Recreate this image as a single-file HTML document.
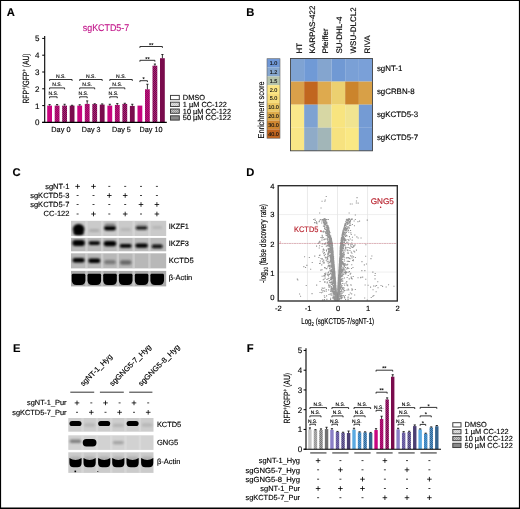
<!DOCTYPE html>
<html><head><meta charset="utf-8"><style>html,body{margin:0;padding:0;background:#fff;width:520px;height:509px;overflow:hidden}svg{display:block;font-family:"Liberation Sans",sans-serif;will-change:transform}text{stroke:#000;stroke-width:.14px;text-rendering:geometricPrecision}</style></head><body>
<svg width="520" height="509" viewBox="0 0 520 509" font-family="&quot;Liberation Sans&quot;, sans-serif"><defs>
<pattern id="pd" width="2" height="2" patternUnits="userSpaceOnUse"><rect width="2" height="2" fill="#fff"/><rect width="1" height="1" fill="#000" fill-opacity=".25"/></pattern>
<filter id="bl" x="-50%" y="-50%" width="200%" height="200%"><feGaussianBlur stdDeviation="1.1"/></filter>
<filter id="bl2" x="-50%" y="-50%" width="200%" height="200%"><feGaussianBlur stdDeviation="0.7"/></filter>
<filter id="bl4" x="-50%" y="-50%" width="200%" height="200%"><feGaussianBlur stdDeviation="0.9"/></filter>
<filter id="bl3" x="-50%" y="-50%" width="200%" height="200%"><feGaussianBlur stdDeviation="0.4"/></filter>
<pattern id="p0" width="2" height="2" patternUnits="userSpaceOnUse"><rect width="2" height="2" fill="#b6187a"/><rect width="1" height="1" fill="#9e0363"/><rect x="1" y="1" width="1" height="1" fill="#9e0363"/></pattern><pattern id="p1" width="2" height="2" patternUnits="userSpaceOnUse"><rect width="2" height="2" fill="#a32774"/><rect width="1" height="1" fill="#77034b"/><rect x="1" y="1" width="1" height="1" fill="#77034b"/></pattern><pattern id="p2" width="2" height="2" patternUnits="userSpaceOnUse"><rect width="2" height="2" fill="#e0e0e0"/><rect width="1" height="1" fill="#c7c7c7"/><rect x="1" y="1" width="1" height="1" fill="#c7c7c7"/></pattern><pattern id="p3" width="2" height="2" patternUnits="userSpaceOnUse"><rect width="2" height="2" fill="#c6c6c6"/><rect width="1" height="1" fill="#979797"/><rect x="1" y="1" width="1" height="1" fill="#979797"/></pattern><pattern id="p4" width="2" height="2" patternUnits="userSpaceOnUse"><rect width="2" height="2" fill="#aeaeae"/><rect width="1" height="1" fill="#979797"/><rect x="1" y="1" width="1" height="1" fill="#979797"/></pattern><pattern id="p5" width="2" height="2" patternUnits="userSpaceOnUse"><rect width="2" height="2" fill="#a3a3a3"/><rect width="1" height="1" fill="#777777"/><rect x="1" y="1" width="1" height="1" fill="#777777"/></pattern><pattern id="p6" width="2" height="2" patternUnits="userSpaceOnUse"><rect width="2" height="2" fill="#766aae"/><rect width="1" height="1" fill="#605497"/><rect x="1" y="1" width="1" height="1" fill="#605497"/></pattern><pattern id="p7" width="2" height="2" patternUnits="userSpaceOnUse"><rect width="2" height="2" fill="#7369a3"/><rect width="1" height="1" fill="#4a4077"/><rect x="1" y="1" width="1" height="1" fill="#4a4077"/></pattern><pattern id="p8" width="2" height="2" patternUnits="userSpaceOnUse"><rect width="2" height="2" fill="#4e96d0"/><rect width="1" height="1" fill="#387eb7"/><rect x="1" y="1" width="1" height="1" fill="#387eb7"/></pattern><pattern id="p9" width="2" height="2" patternUnits="userSpaceOnUse"><rect width="2" height="2" fill="#5591c4"/><rect width="1" height="1" fill="#2e6695"/><rect x="1" y="1" width="1" height="1" fill="#2e6695"/></pattern></defs>
<rect x="0" y="0" width="520" height="509" fill="#fff"/>
<text x="6.8" y="16.1" font-size="11.2" font-weight="bold">A</text>
<text x="246.3" y="16.2" font-size="11.2" font-weight="bold">B</text>
<text x="12.5" y="175.8" font-size="11.2" font-weight="bold">C</text>
<text x="246.3" y="175.7" font-size="11.2" font-weight="bold">D</text>
<text x="12.9" y="352.4" font-size="11.2" font-weight="bold">E</text>
<text x="246.7" y="351.8" font-size="11.2" font-weight="bold">F</text>
<rect x="47.2" y="105.6" width="4.8" height="16.8" fill="#c8047f"/>
<line x1="49.6" y1="105.6" x2="49.6" y2="104.59" stroke="#000" stroke-width="0.8"/>
<line x1="48.5" y1="104.59" x2="50.7" y2="104.59" stroke="#000" stroke-width="0.8"/>
<rect x="54.7" y="105.6" width="4.8" height="16.8" fill="url(#p0)"/>
<line x1="57.1" y1="105.6" x2="57.1" y2="104.59" stroke="#000" stroke-width="0.8"/>
<line x1="56" y1="104.59" x2="58.2" y2="104.59" stroke="#000" stroke-width="0.8"/>
<rect x="62.2" y="105.6" width="4.8" height="16.8" fill="url(#p1)"/>
<line x1="64.6" y1="105.6" x2="64.6" y2="104.26" stroke="#000" stroke-width="0.8"/>
<line x1="63.5" y1="104.26" x2="65.7" y2="104.26" stroke="#000" stroke-width="0.8"/>
<rect x="69.7" y="105.6" width="4.8" height="16.8" fill="#7a0c4d"/>
<line x1="72.1" y1="105.6" x2="72.1" y2="105.26" stroke="#000" stroke-width="0.8"/>
<line x1="71" y1="105.26" x2="73.2" y2="105.26" stroke="#000" stroke-width="0.8"/>
<rect x="77.3" y="105.6" width="4.8" height="16.8" fill="#c8047f"/>
<line x1="79.7" y1="105.6" x2="79.7" y2="104.76" stroke="#000" stroke-width="0.8"/>
<line x1="78.6" y1="104.76" x2="80.8" y2="104.76" stroke="#000" stroke-width="0.8"/>
<rect x="84.8" y="103.92" width="4.8" height="18.48" fill="url(#p0)"/>
<line x1="87.2" y1="103.92" x2="87.2" y2="100.9" stroke="#000" stroke-width="0.8"/>
<line x1="86.1" y1="100.9" x2="88.3" y2="100.9" stroke="#000" stroke-width="0.8"/>
<rect x="92.3" y="104.09" width="4.8" height="18.31" fill="url(#p1)"/>
<line x1="94.7" y1="104.09" x2="94.7" y2="103.75" stroke="#000" stroke-width="0.8"/>
<line x1="93.6" y1="103.75" x2="95.8" y2="103.75" stroke="#000" stroke-width="0.8"/>
<rect x="99.8" y="104.59" width="4.8" height="17.81" fill="#7a0c4d"/>
<line x1="102.2" y1="104.59" x2="102.2" y2="103.92" stroke="#000" stroke-width="0.8"/>
<line x1="101.1" y1="103.92" x2="103.3" y2="103.92" stroke="#000" stroke-width="0.8"/>
<rect x="107.4" y="105.6" width="4.8" height="16.8" fill="#c8047f"/>
<line x1="109.8" y1="105.6" x2="109.8" y2="104.26" stroke="#000" stroke-width="0.8"/>
<line x1="108.7" y1="104.26" x2="110.9" y2="104.26" stroke="#000" stroke-width="0.8"/>
<rect x="114.9" y="104.93" width="4.8" height="17.47" fill="url(#p0)"/>
<line x1="117.3" y1="104.93" x2="117.3" y2="103.58" stroke="#000" stroke-width="0.8"/>
<line x1="116.2" y1="103.58" x2="118.4" y2="103.58" stroke="#000" stroke-width="0.8"/>
<rect x="122.4" y="103.92" width="4.8" height="18.48" fill="url(#p1)"/>
<line x1="124.8" y1="103.92" x2="124.8" y2="103.25" stroke="#000" stroke-width="0.8"/>
<line x1="123.7" y1="103.25" x2="125.9" y2="103.25" stroke="#000" stroke-width="0.8"/>
<rect x="129.9" y="105.94" width="4.8" height="16.46" fill="#7a0c4d"/>
<line x1="132.3" y1="105.94" x2="132.3" y2="104.26" stroke="#000" stroke-width="0.8"/>
<line x1="131.2" y1="104.26" x2="133.4" y2="104.26" stroke="#000" stroke-width="0.8"/>
<rect x="137.5" y="105.6" width="4.8" height="16.8" fill="#c8047f"/>
<rect x="145" y="89.3" width="4.8" height="33.1" fill="url(#p0)"/>
<line x1="147.4" y1="89.3" x2="147.4" y2="84.26" stroke="#000" stroke-width="0.8"/>
<line x1="146.3" y1="84.26" x2="148.5" y2="84.26" stroke="#000" stroke-width="0.8"/>
<rect x="152.5" y="65.7" width="4.8" height="56.7" fill="url(#p1)"/>
<line x1="154.9" y1="65.7" x2="154.9" y2="64.02" stroke="#000" stroke-width="0.8"/>
<line x1="153.8" y1="64.02" x2="156" y2="64.02" stroke="#000" stroke-width="0.8"/>
<rect x="160" y="58.22" width="4.8" height="64.18" fill="#7a0c4d"/>
<line x1="162.4" y1="58.22" x2="162.4" y2="54.53" stroke="#000" stroke-width="0.8"/>
<line x1="161.3" y1="54.53" x2="163.5" y2="54.53" stroke="#000" stroke-width="0.8"/>
<line x1="44.7" y1="35.9" x2="44.7" y2="122.95" stroke="#000" stroke-width="1.1"/>
<line x1="42.2" y1="122.4" x2="166.8" y2="122.4" stroke="#000" stroke-width="1.1"/>
<line x1="42.2" y1="122.4" x2="44.7" y2="122.4" stroke="#000" stroke-width="1"/>
<text x="39.4" y="125.3" font-size="8" text-anchor="end">0</text>
<line x1="42.2" y1="105.6" x2="44.7" y2="105.6" stroke="#000" stroke-width="1"/>
<text x="39.4" y="108.5" font-size="8" text-anchor="end">1</text>
<line x1="42.2" y1="88.8" x2="44.7" y2="88.8" stroke="#000" stroke-width="1"/>
<text x="39.4" y="91.7" font-size="8" text-anchor="end">2</text>
<line x1="42.2" y1="72" x2="44.7" y2="72" stroke="#000" stroke-width="1"/>
<text x="39.4" y="74.9" font-size="8" text-anchor="end">3</text>
<line x1="42.2" y1="55.2" x2="44.7" y2="55.2" stroke="#000" stroke-width="1"/>
<text x="39.4" y="58.1" font-size="8" text-anchor="end">4</text>
<line x1="42.2" y1="38.4" x2="44.7" y2="38.4" stroke="#000" stroke-width="1"/>
<text x="39.4" y="41.3" font-size="8" text-anchor="end">5</text>
<text transform="translate(29.4,78.5) rotate(-90)" font-size="9" text-anchor="middle" textLength="50" lengthAdjust="spacingAndGlyphs">RFP<tspan font-size="6" dy="-3">+</tspan><tspan dy="3">/GFP</tspan><tspan font-size="6" dy="-3">+</tspan><tspan dy="3"> (AU)</tspan></text>
<text x="51.3" y="132" font-size="7.4" textLength="19.2" lengthAdjust="spacingAndGlyphs">Day 0</text>
<text x="81.8" y="132" font-size="7.4" textLength="18.7" lengthAdjust="spacingAndGlyphs">Day 3</text>
<text x="112" y="132" font-size="7.4" textLength="18.8" lengthAdjust="spacingAndGlyphs">Day 5</text>
<text x="139.5" y="132" font-size="7.4" textLength="23" lengthAdjust="spacingAndGlyphs">Day 10</text>
<text x="82.8" y="30.8" font-size="9.7" fill="#c2168a" style="stroke:#c2168a" textLength="46.4" lengthAdjust="spacingAndGlyphs">sgKCTD5-7</text>
<path d="M49.6 80.9V79.5H72.1V80.9" fill="none" stroke="#000" stroke-width="0.8"/>
<text x="60.85" y="77.9" font-size="5.1" text-anchor="middle">N.S.</text>
<path d="M49.6 89.3V87.9H64.6V89.3" fill="none" stroke="#000" stroke-width="0.8"/>
<text x="57.1" y="86.3" font-size="5.1" text-anchor="middle">N.S.</text>
<path d="M49.6 98.2V96.8H57.1V98.2" fill="none" stroke="#000" stroke-width="0.8"/>
<text x="53.35" y="95.2" font-size="5.1" text-anchor="middle">N.S.</text>
<path d="M79.7 80.9V79.5H102.2V80.9" fill="none" stroke="#000" stroke-width="0.8"/>
<text x="90.95" y="77.9" font-size="5.1" text-anchor="middle">N.S.</text>
<path d="M79.7 89.3V87.9H94.7V89.3" fill="none" stroke="#000" stroke-width="0.8"/>
<text x="87.2" y="86.3" font-size="5.1" text-anchor="middle">N.S.</text>
<path d="M79.7 98.2V96.8H87.2V98.2" fill="none" stroke="#000" stroke-width="0.8"/>
<text x="83.45" y="95.2" font-size="5.1" text-anchor="middle">N.S.</text>
<path d="M109.8 80.9V79.5H132.3V80.9" fill="none" stroke="#000" stroke-width="0.8"/>
<text x="121.05" y="77.9" font-size="5.1" text-anchor="middle">N.S.</text>
<path d="M109.8 89.3V87.9H124.8V89.3" fill="none" stroke="#000" stroke-width="0.8"/>
<text x="117.3" y="86.3" font-size="5.1" text-anchor="middle">N.S.</text>
<path d="M109.8 98.2V96.8H117.3V98.2" fill="none" stroke="#000" stroke-width="0.8"/>
<text x="113.55" y="95.2" font-size="5.1" text-anchor="middle">N.S.</text>
<path d="M139.9 47.9V46.5H162.4V47.9" fill="none" stroke="#000" stroke-width="0.8"/>
<text x="151.15" y="46.7" font-size="5.61" text-anchor="middle">**</text>
<path d="M139.9 61.7V60.3H154.9V61.7" fill="none" stroke="#000" stroke-width="0.8"/>
<text x="147.4" y="60.5" font-size="5.61" text-anchor="middle">**</text>
<path d="M139.9 82.1V80.7H147.4V82.1" fill="none" stroke="#000" stroke-width="0.8"/>
<text x="143.65" y="80.9" font-size="5.61" text-anchor="middle">*</text>
<rect x="170.5" y="95.4" width="8.8" height="4.3" fill="#fff" stroke="#3a3a3a" stroke-width="0.95"/>
<text x="182.8" y="100" font-size="7.4">DMSO</text>
<rect x="170.5" y="102.2" width="8.8" height="4.3" fill="url(#p2)" stroke="#3a3a3a" stroke-width="0.95"/>
<text x="182.8" y="106.8" font-size="7.4">1 µM CC-122</text>
<rect x="170.5" y="109" width="8.8" height="4.3" fill="url(#p3)" stroke="#3a3a3a" stroke-width="0.95"/>
<text x="182.8" y="113.6" font-size="7.4">10 µM CC-122</text>
<rect x="170.5" y="115.8" width="8.8" height="4.3" fill="#8a8a8a" stroke="#3a3a3a" stroke-width="0.95"/>
<text x="182.8" y="120.4" font-size="7.4">50 µM CC-122</text>
<rect x="290.5" y="58.5" width="13.72" height="23.13" fill="#7fa3d3"/>
<rect x="304.17" y="58.5" width="13.72" height="23.13" fill="#709ad6"/>
<rect x="317.83" y="58.5" width="13.72" height="23.13" fill="#84a5cf"/>
<rect x="331.5" y="58.5" width="13.72" height="23.13" fill="#7099d4"/>
<rect x="345.17" y="58.5" width="13.72" height="23.13" fill="#7aa0d6"/>
<rect x="358.83" y="58.5" width="13.72" height="23.13" fill="#7aa0d8"/>
<rect x="290.5" y="81.58" width="13.72" height="23.13" fill="#d9a04a"/>
<rect x="304.17" y="81.58" width="13.72" height="23.13" fill="#c1661f"/>
<rect x="317.83" y="81.58" width="13.72" height="23.13" fill="#deaa4e"/>
<rect x="331.5" y="81.58" width="13.72" height="23.13" fill="#ecd070"/>
<rect x="345.17" y="81.58" width="13.72" height="23.13" fill="#cb842c"/>
<rect x="358.83" y="81.58" width="13.72" height="23.13" fill="#d8a047"/>
<rect x="290.5" y="104.65" width="13.72" height="23.13" fill="#fae88a"/>
<rect x="304.17" y="104.65" width="13.72" height="23.13" fill="#7ea2d2"/>
<rect x="317.83" y="104.65" width="13.72" height="23.13" fill="#d7d7a4"/>
<rect x="331.5" y="104.65" width="13.72" height="23.13" fill="#f8e47f"/>
<rect x="345.17" y="104.65" width="13.72" height="23.13" fill="#f1e490"/>
<rect x="358.83" y="104.65" width="13.72" height="23.13" fill="#749bd4"/>
<rect x="290.5" y="127.73" width="13.72" height="23.13" fill="#f9e686"/>
<rect x="304.17" y="127.73" width="13.72" height="23.13" fill="#8fabc8"/>
<rect x="317.83" y="127.73" width="13.72" height="23.13" fill="#a2b6b8"/>
<rect x="331.5" y="127.73" width="13.72" height="23.13" fill="#f7e27f"/>
<rect x="345.17" y="127.73" width="13.72" height="23.13" fill="#fae884"/>
<rect x="358.83" y="127.73" width="13.72" height="23.13" fill="#749bd4"/>
<rect x="290.5" y="58.5" width="82" height="92.3" fill="none" stroke="#444" stroke-width="0.9"/>
<text transform="translate(301.5,53.5) rotate(-90)" font-size="8">HT</text>
<text transform="translate(314.8,53.5) rotate(-90)" font-size="8">KARPAS-422</text>
<text transform="translate(328.4,53.5) rotate(-90)" font-size="8">Pfeiffer</text>
<text transform="translate(342.3,53.5) rotate(-90)" font-size="8">SU-DHL-4</text>
<text transform="translate(356.4,53.5) rotate(-90)" font-size="8">WSU-DLCL2</text>
<text transform="translate(370.4,53.5) rotate(-90)" font-size="8">RIVA</text>
<text x="376.9" y="71.1" font-size="7.9">sgNT-1</text>
<text x="376.9" y="93.9" font-size="7.9">sgCRBN-8</text>
<text x="376.9" y="117" font-size="7.9">sgKCTD5-3</text>
<text x="376.9" y="140" font-size="7.9">sgKCTD5-7</text>
<rect x="267" y="58.7" width="13" height="8.88" fill="#6f97d6"/>
<text x="273.5" y="65.12" font-size="5.5" text-anchor="middle" fill="#111" style="stroke:#111">1.0</text>
<rect x="267" y="67.53" width="13" height="8.88" fill="#85a6cf"/>
<text x="273.5" y="73.95" font-size="5.5" text-anchor="middle" fill="#111" style="stroke:#111">1.2</text>
<rect x="267" y="76.37" width="13" height="8.88" fill="#b5c3ab"/>
<text x="273.5" y="82.78" font-size="5.5" text-anchor="middle" fill="#111" style="stroke:#111">1.5</text>
<rect x="267" y="85.2" width="13" height="8.88" fill="#fbe583"/>
<text x="273.5" y="91.62" font-size="5.5" text-anchor="middle" fill="#111" style="stroke:#111">2.0</text>
<rect x="267" y="94.03" width="13" height="8.88" fill="#f7dc7a"/>
<text x="273.5" y="100.45" font-size="5.5" text-anchor="middle" fill="#111" style="stroke:#111">5.0</text>
<rect x="267" y="102.87" width="13" height="8.88" fill="#ecc763"/>
<text x="273.5" y="109.28" font-size="5.5" text-anchor="middle" fill="#111" style="stroke:#111">10.0</text>
<rect x="267" y="111.7" width="13" height="8.88" fill="#deab4a"/>
<text x="273.5" y="118.12" font-size="5.5" text-anchor="middle" fill="#111" style="stroke:#111">20.0</text>
<rect x="267" y="120.53" width="13" height="8.88" fill="#cf8630"/>
<text x="273.5" y="126.95" font-size="5.5" text-anchor="middle" fill="#111" style="stroke:#111">30.0</text>
<rect x="267" y="129.37" width="13" height="8.88" fill="#c0641e"/>
<text x="273.5" y="135.78" font-size="5.5" text-anchor="middle" fill="#111" style="stroke:#111">40.0</text>
<rect x="267" y="58.7" width="13" height="79.5" fill="none" stroke="#666" stroke-width="0.6"/>
<text transform="translate(264.4,110) rotate(-90)" font-size="8.6" text-anchor="middle" textLength="57" lengthAdjust="spacingAndGlyphs">Enrichment score</text>
<text x="69.4" y="188.8" font-size="7.5" text-anchor="end">sgNT-1</text>
<line x1="75.3" y1="186.4" x2="79.9" y2="186.4" stroke="#000" stroke-width="0.8"/>
<line x1="77.6" y1="184.1" x2="77.6" y2="188.7" stroke="#000" stroke-width="0.8"/>
<line x1="91.2" y1="186.4" x2="95.8" y2="186.4" stroke="#000" stroke-width="0.8"/>
<line x1="93.5" y1="184.1" x2="93.5" y2="188.7" stroke="#000" stroke-width="0.8"/>
<line x1="108.3" y1="186.4" x2="110.3" y2="186.4" stroke="#000" stroke-width="0.75"/>
<line x1="124.2" y1="186.4" x2="126.2" y2="186.4" stroke="#000" stroke-width="0.75"/>
<line x1="140" y1="186.4" x2="142" y2="186.4" stroke="#000" stroke-width="0.75"/>
<line x1="155.9" y1="186.4" x2="157.9" y2="186.4" stroke="#000" stroke-width="0.75"/>
<text x="69.4" y="197.9" font-size="7.5" text-anchor="end">sgKCTD5-3</text>
<line x1="76.6" y1="195.5" x2="78.6" y2="195.5" stroke="#000" stroke-width="0.75"/>
<line x1="92.5" y1="195.5" x2="94.5" y2="195.5" stroke="#000" stroke-width="0.75"/>
<line x1="107" y1="195.5" x2="111.6" y2="195.5" stroke="#000" stroke-width="0.8"/>
<line x1="109.3" y1="193.2" x2="109.3" y2="197.8" stroke="#000" stroke-width="0.8"/>
<line x1="122.9" y1="195.5" x2="127.5" y2="195.5" stroke="#000" stroke-width="0.8"/>
<line x1="125.2" y1="193.2" x2="125.2" y2="197.8" stroke="#000" stroke-width="0.8"/>
<line x1="140" y1="195.5" x2="142" y2="195.5" stroke="#000" stroke-width="0.75"/>
<line x1="155.9" y1="195.5" x2="157.9" y2="195.5" stroke="#000" stroke-width="0.75"/>
<text x="69.4" y="206.9" font-size="7.5" text-anchor="end">sgKCTD5-7</text>
<line x1="76.6" y1="204.5" x2="78.6" y2="204.5" stroke="#000" stroke-width="0.75"/>
<line x1="92.5" y1="204.5" x2="94.5" y2="204.5" stroke="#000" stroke-width="0.75"/>
<line x1="108.3" y1="204.5" x2="110.3" y2="204.5" stroke="#000" stroke-width="0.75"/>
<line x1="124.2" y1="204.5" x2="126.2" y2="204.5" stroke="#000" stroke-width="0.75"/>
<line x1="138.7" y1="204.5" x2="143.3" y2="204.5" stroke="#000" stroke-width="0.8"/>
<line x1="141" y1="202.2" x2="141" y2="206.8" stroke="#000" stroke-width="0.8"/>
<line x1="154.6" y1="204.5" x2="159.2" y2="204.5" stroke="#000" stroke-width="0.8"/>
<line x1="156.9" y1="202.2" x2="156.9" y2="206.8" stroke="#000" stroke-width="0.8"/>
<text x="69.4" y="216.4" font-size="7.5" text-anchor="end">CC-122</text>
<line x1="76.6" y1="214" x2="78.6" y2="214" stroke="#000" stroke-width="0.75"/>
<line x1="91.2" y1="214" x2="95.8" y2="214" stroke="#000" stroke-width="0.8"/>
<line x1="93.5" y1="211.7" x2="93.5" y2="216.3" stroke="#000" stroke-width="0.8"/>
<line x1="108.3" y1="214" x2="110.3" y2="214" stroke="#000" stroke-width="0.75"/>
<line x1="122.9" y1="214" x2="127.5" y2="214" stroke="#000" stroke-width="0.8"/>
<line x1="125.2" y1="211.7" x2="125.2" y2="216.3" stroke="#000" stroke-width="0.8"/>
<line x1="140" y1="214" x2="142" y2="214" stroke="#000" stroke-width="0.75"/>
<line x1="154.6" y1="214" x2="159.2" y2="214" stroke="#000" stroke-width="0.8"/>
<line x1="156.9" y1="211.7" x2="156.9" y2="216.3" stroke="#000" stroke-width="0.8"/>
<rect x="71" y="220.8" width="95.2" height="15.2" fill="#cacaca"/>
<rect x="85.25" y="220.8" width="2.4" height="15.2" fill="#e2e2e2" opacity=".45" filter="url(#bl2)"/>
<rect x="100.95" y="220.8" width="2.4" height="15.2" fill="#e2e2e2" opacity=".45" filter="url(#bl2)"/>
<rect x="116.65" y="220.8" width="2.4" height="15.2" fill="#e2e2e2" opacity=".45" filter="url(#bl2)"/>
<rect x="132.45" y="220.8" width="2.4" height="15.2" fill="#e2e2e2" opacity=".45" filter="url(#bl2)"/>
<rect x="148.2" y="220.8" width="2.4" height="15.2" fill="#e2e2e2" opacity=".45" filter="url(#bl2)"/>
<rect x="72.85" y="224.05" width="11.5" height="10.5" rx="5.25" fill="#000" opacity="1" filter="url(#bl)"/>
<rect x="73.6" y="231.25" width="10" height="3.5" rx="1.75" fill="#000" opacity="1" filter="url(#bl)"/>
<rect x="89.05" y="228.9" width="10.5" height="3.2" rx="1.6" fill="#a0a0a0" opacity="0.7" filter="url(#bl)"/>
<rect x="104.1" y="225.8" width="11.8" height="4.8" rx="2.4" fill="#000" opacity="1" filter="url(#bl)"/>
<rect x="104.75" y="223.2" width="10.5" height="3.2" rx="1.6" fill="#6a6a6a" opacity="0.6" filter="url(#bl)"/>
<rect x="120.45" y="228" width="10.5" height="3" rx="1.5" fill="#a8a8a8" opacity="0.6" filter="url(#bl)"/>
<rect x="135.7" y="225.9" width="11.8" height="3.8" rx="1.9" fill="#111" opacity="0.9" filter="url(#bl)"/>
<rect x="136.6" y="223.35" width="10" height="2.5" rx="1.25" fill="#888" opacity="0.4" filter="url(#bl)"/>
<rect x="152.2" y="226" width="10" height="3" rx="1.5" fill="#a8a8a8" opacity="0.6" filter="url(#bl)"/>
<rect x="71" y="237.9" width="95.2" height="13.4" fill="#bababa"/>
<rect x="85.25" y="237.9" width="2.4" height="13.4" fill="#e2e2e2" opacity=".45" filter="url(#bl2)"/>
<rect x="100.95" y="237.9" width="2.4" height="13.4" fill="#e2e2e2" opacity=".45" filter="url(#bl2)"/>
<rect x="116.65" y="237.9" width="2.4" height="13.4" fill="#e2e2e2" opacity=".45" filter="url(#bl2)"/>
<rect x="132.45" y="237.9" width="2.4" height="13.4" fill="#e2e2e2" opacity=".45" filter="url(#bl2)"/>
<rect x="148.2" y="237.9" width="2.4" height="13.4" fill="#e2e2e2" opacity=".45" filter="url(#bl2)"/>
<rect x="72.35" y="240" width="12.5" height="6" rx="3" fill="#000" opacity="1" filter="url(#bl4)"/>
<rect x="88.55" y="241.3" width="11.5" height="3.6" rx="1.8" fill="#000" opacity="1" filter="url(#bl4)"/>
<rect x="103.75" y="240.9" width="12.5" height="5.4" rx="2.7" fill="#000" opacity="1" filter="url(#bl4)"/>
<rect x="119.7" y="244.1" width="12" height="3.6" rx="1.8" fill="#050505" opacity="1" filter="url(#bl4)"/>
<rect x="135.35" y="243.4" width="12.5" height="4.4" rx="2.2" fill="#000" opacity="1" filter="url(#bl4)"/>
<rect x="151.7" y="244.6" width="11" height="3.6" rx="1.8" fill="#080808" opacity="1" filter="url(#bl4)"/>
<rect x="71" y="253.3" width="95.2" height="15.1" fill="#b8b8b8"/>
<rect x="85.25" y="253.3" width="2.4" height="15.1" fill="#e2e2e2" opacity=".45" filter="url(#bl2)"/>
<rect x="100.95" y="253.3" width="2.4" height="15.1" fill="#e2e2e2" opacity=".45" filter="url(#bl2)"/>
<rect x="116.65" y="253.3" width="2.4" height="15.1" fill="#e2e2e2" opacity=".45" filter="url(#bl2)"/>
<rect x="132.45" y="253.3" width="2.4" height="15.1" fill="#e2e2e2" opacity=".45" filter="url(#bl2)"/>
<rect x="148.2" y="253.3" width="2.4" height="15.1" fill="#e2e2e2" opacity=".45" filter="url(#bl2)"/>
<rect x="72.6" y="258" width="12" height="4.4" rx="2.2" fill="#000" opacity="1" filter="url(#bl4)"/>
<rect x="88.3" y="258.6" width="12" height="4.4" rx="2.2" fill="#050505" opacity="1" filter="url(#bl4)"/>
<rect x="104.25" y="260.1" width="11.5" height="4.2" rx="2.1" fill="#6a6a6a" opacity="0.8" filter="url(#bl)"/>
<rect x="119.95" y="260.3" width="11.5" height="4.4" rx="2.2" fill="#5a5a5a" opacity="0.85" filter="url(#bl)"/>
<rect x="71" y="270.9" width="95.2" height="15.5" fill="#a9a9a9"/>
<rect x="85.25" y="270.9" width="2.4" height="15.5" fill="#e2e2e2" opacity=".45" filter="url(#bl2)"/>
<rect x="100.95" y="270.9" width="2.4" height="15.5" fill="#e2e2e2" opacity=".45" filter="url(#bl2)"/>
<rect x="116.65" y="270.9" width="2.4" height="15.5" fill="#e2e2e2" opacity=".45" filter="url(#bl2)"/>
<rect x="132.45" y="270.9" width="2.4" height="15.5" fill="#e2e2e2" opacity=".45" filter="url(#bl2)"/>
<rect x="148.2" y="270.9" width="2.4" height="15.5" fill="#e2e2e2" opacity=".45" filter="url(#bl2)"/>
<path d="M72.8 273.8H84.4Q85.4 273.8 85.4 275.3V280.3Q85.4 285 80.7 285H76.5Q71.8 285 71.8 280.3V275.3Q71.8 273.8 72.8 273.8Z" fill="#000" opacity="1" filter="url(#bl2)"/>
<path d="M88.5 273.8H100.1Q101.1 273.8 101.1 275.3V280.3Q101.1 285 96.4 285H92.2Q87.5 285 87.5 280.3V275.3Q87.5 273.8 88.5 273.8Z" fill="#000" opacity="1" filter="url(#bl2)"/>
<path d="M104.2 273.8H115.8Q116.8 273.8 116.8 275.3V280.3Q116.8 285 112.1 285H107.9Q103.2 285 103.2 280.3V275.3Q103.2 273.8 104.2 273.8Z" fill="#000" opacity="1" filter="url(#bl2)"/>
<path d="M119.9 273.8H131.5Q132.5 273.8 132.5 275.3V280.3Q132.5 285 127.8 285H123.6Q118.9 285 118.9 280.3V275.3Q118.9 273.8 119.9 273.8Z" fill="#000" opacity="1" filter="url(#bl2)"/>
<path d="M135.8 273.8H147.4Q148.4 273.8 148.4 275.3V280.3Q148.4 285 143.7 285H139.5Q134.8 285 134.8 280.3V275.3Q134.8 273.8 135.8 273.8Z" fill="#000" opacity="1" filter="url(#bl2)"/>
<path d="M151.4 273.8H163Q164 273.8 164 275.3V280.3Q164 285 159.3 285H155.1Q150.4 285 150.4 280.3V275.3Q150.4 273.8 151.4 273.8Z" fill="#000" opacity="1" filter="url(#bl2)"/>
<text x="168.8" y="229.3" font-size="7.5" textLength="20.2" lengthAdjust="spacingAndGlyphs">IKZF1</text>
<text x="168.8" y="246" font-size="7.5" textLength="20.2" lengthAdjust="spacingAndGlyphs">IKZF3</text>
<text x="168.8" y="263" font-size="7.5" textLength="24.8" lengthAdjust="spacingAndGlyphs">KCTD5</text>
<text x="168.8" y="279.6" font-size="7.5">β-Actin</text>
<line x1="307.45" y1="186.2" x2="307.45" y2="300.2" stroke="#dcdcdc" stroke-width="0.6"/>
<line x1="337.5" y1="186.2" x2="337.5" y2="300.2" stroke="#dcdcdc" stroke-width="0.6"/>
<line x1="367.55" y1="186.2" x2="367.55" y2="300.2" stroke="#dcdcdc" stroke-width="0.6"/>
<line x1="278.9" y1="272.05" x2="396.6" y2="272.05" stroke="#e4e4e4" stroke-width="0.6"/>
<line x1="278.9" y1="243.3" x2="396.6" y2="243.3" stroke="#e4e4e4" stroke-width="0.6"/>
<line x1="278.9" y1="214.55" x2="396.6" y2="214.55" stroke="#e4e4e4" stroke-width="0.6"/>
<path d="M340.0 270.9h1.1v1.1h-1.1zM340.7 266.2h1.1v1.1h-1.1zM331.0 239.4h1.1v1.1h-1.1zM336.9 296.6h1.1v1.1h-1.1zM346.5 219.9h1.1v1.1h-1.1zM335.8 299.4h1.1v1.1h-1.1zM342.5 234.5h1.1v1.1h-1.1zM350.6 284.7h1.1v1.1h-1.1zM330.6 247.8h1.1v1.1h-1.1zM334.1 283.9h1.1v1.1h-1.1zM324.5 222.5h1.1v1.1h-1.1zM337.3 297.5h1.1v1.1h-1.1zM324.2 296.8h1.1v1.1h-1.1zM335.5 295.1h1.1v1.1h-1.1zM337.8 298.1h1.1v1.1h-1.1zM337.6 290.7h1.1v1.1h-1.1zM332.5 253.9h1.1v1.1h-1.1zM324.8 221.1h1.1v1.1h-1.1zM338.3 275.7h1.1v1.1h-1.1zM338.4 286.1h1.1v1.1h-1.1zM334.4 283.3h1.1v1.1h-1.1zM332.5 257.8h1.1v1.1h-1.1zM345.7 222.4h1.1v1.1h-1.1zM337.5 293.0h1.1v1.1h-1.1zM337.5 290.8h1.1v1.1h-1.1zM344.9 223.3h1.1v1.1h-1.1zM328.8 248.1h1.1v1.1h-1.1zM335.1 283.5h1.1v1.1h-1.1zM339.2 288.2h1.1v1.1h-1.1zM337.7 284.5h1.1v1.1h-1.1zM338.2 277.8h1.1v1.1h-1.1zM348.7 278.3h1.1v1.1h-1.1zM339.8 249.4h1.1v1.1h-1.1zM343.2 227.5h1.1v1.1h-1.1zM331.5 254.6h1.1v1.1h-1.1zM343.0 262.8h1.1v1.1h-1.1zM341.2 248.2h1.1v1.1h-1.1zM341.5 250.0h1.1v1.1h-1.1zM341.8 239.7h1.1v1.1h-1.1zM340.0 259.5h1.1v1.1h-1.1zM343.9 254.3h1.1v1.1h-1.1zM340.4 276.2h1.1v1.1h-1.1zM337.5 297.0h1.1v1.1h-1.1zM332.5 257.8h1.1v1.1h-1.1zM340.9 256.6h1.1v1.1h-1.1zM338.1 292.1h1.1v1.1h-1.1zM331.3 251.8h1.1v1.1h-1.1zM329.8 259.5h1.1v1.1h-1.1zM342.2 267.2h1.1v1.1h-1.1zM335.7 292.1h1.1v1.1h-1.1zM331.2 255.5h1.1v1.1h-1.1zM326.2 234.8h1.1v1.1h-1.1zM337.1 298.9h1.1v1.1h-1.1zM338.5 282.4h1.1v1.1h-1.1zM335.0 293.8h1.1v1.1h-1.1zM349.9 255.2h1.1v1.1h-1.1zM332.4 250.0h1.1v1.1h-1.1zM338.5 269.2h1.1v1.1h-1.1zM333.7 285.1h1.1v1.1h-1.1zM340.0 256.6h1.1v1.1h-1.1zM337.0 296.8h1.1v1.1h-1.1zM339.6 270.8h1.1v1.1h-1.1zM348.0 260.8h1.1v1.1h-1.1zM341.4 270.0h1.1v1.1h-1.1zM344.7 246.4h1.1v1.1h-1.1zM352.0 289.2h1.1v1.1h-1.1zM341.3 263.6h1.1v1.1h-1.1zM333.5 279.4h1.1v1.1h-1.1zM341.6 262.4h1.1v1.1h-1.1zM337.1 297.9h1.1v1.1h-1.1zM338.7 280.4h1.1v1.1h-1.1zM350.8 246.3h1.1v1.1h-1.1zM339.9 267.5h1.1v1.1h-1.1zM335.4 288.7h1.1v1.1h-1.1zM340.8 264.9h1.1v1.1h-1.1zM329.9 282.2h1.1v1.1h-1.1zM346.5 289.6h1.1v1.1h-1.1zM331.1 260.4h1.1v1.1h-1.1zM340.2 275.2h1.1v1.1h-1.1zM336.8 297.9h1.1v1.1h-1.1zM325.0 222.6h1.1v1.1h-1.1zM342.4 237.2h1.1v1.1h-1.1zM329.2 281.8h1.1v1.1h-1.1zM337.2 294.5h1.1v1.1h-1.1zM331.3 249.8h1.1v1.1h-1.1zM332.5 256.1h1.1v1.1h-1.1zM332.2 265.9h1.1v1.1h-1.1zM334.4 277.2h1.1v1.1h-1.1zM334.1 292.7h1.1v1.1h-1.1zM344.6 264.3h1.1v1.1h-1.1zM342.0 287.9h1.1v1.1h-1.1zM334.5 281.9h1.1v1.1h-1.1zM324.6 218.2h1.1v1.1h-1.1zM337.7 296.3h1.1v1.1h-1.1zM331.1 239.7h1.1v1.1h-1.1zM343.5 290.0h1.1v1.1h-1.1zM335.0 295.3h1.1v1.1h-1.1zM332.2 249.9h1.1v1.1h-1.1zM334.8 295.8h1.1v1.1h-1.1zM335.9 293.5h1.1v1.1h-1.1zM345.9 234.7h1.1v1.1h-1.1zM339.7 270.1h1.1v1.1h-1.1zM333.9 269.7h1.1v1.1h-1.1zM339.7 248.4h1.1v1.1h-1.1zM338.6 270.8h1.1v1.1h-1.1zM328.8 265.8h1.1v1.1h-1.1zM341.6 248.1h1.1v1.1h-1.1zM320.5 258.0h1.1v1.1h-1.1zM340.6 286.1h1.1v1.1h-1.1zM321.6 237.3h1.1v1.1h-1.1zM341.5 249.0h1.1v1.1h-1.1zM331.1 246.3h1.1v1.1h-1.1zM332.7 269.5h1.1v1.1h-1.1zM338.1 287.9h1.1v1.1h-1.1zM341.2 252.4h1.1v1.1h-1.1zM341.1 276.1h1.1v1.1h-1.1zM342.4 242.5h1.1v1.1h-1.1zM334.1 286.2h1.1v1.1h-1.1zM335.8 290.4h1.1v1.1h-1.1zM323.7 262.4h1.1v1.1h-1.1zM351.0 218.5h1.1v1.1h-1.1zM339.9 258.2h1.1v1.1h-1.1zM333.7 269.3h1.1v1.1h-1.1zM331.1 256.9h1.1v1.1h-1.1zM339.1 264.5h1.1v1.1h-1.1zM332.3 261.5h1.1v1.1h-1.1zM338.5 292.9h1.1v1.1h-1.1zM336.8 298.6h1.1v1.1h-1.1zM339.9 268.8h1.1v1.1h-1.1zM340.6 264.8h1.1v1.1h-1.1zM347.2 220.3h1.1v1.1h-1.1zM334.8 289.9h1.1v1.1h-1.1zM335.1 294.8h1.1v1.1h-1.1zM337.7 285.8h1.1v1.1h-1.1zM348.9 218.3h1.1v1.1h-1.1zM338.5 295.4h1.1v1.1h-1.1zM332.8 278.5h1.1v1.1h-1.1zM339.7 258.7h1.1v1.1h-1.1zM341.7 286.8h1.1v1.1h-1.1zM335.2 299.0h1.1v1.1h-1.1zM337.5 296.0h1.1v1.1h-1.1zM337.5 296.8h1.1v1.1h-1.1zM332.9 268.7h1.1v1.1h-1.1zM342.3 244.2h1.1v1.1h-1.1zM341.2 255.7h1.1v1.1h-1.1zM333.1 273.3h1.1v1.1h-1.1zM342.0 252.9h1.1v1.1h-1.1zM334.5 277.7h1.1v1.1h-1.1zM337.3 297.0h1.1v1.1h-1.1zM332.2 249.9h1.1v1.1h-1.1zM337.9 289.2h1.1v1.1h-1.1zM329.7 249.1h1.1v1.1h-1.1zM339.4 278.6h1.1v1.1h-1.1zM346.7 260.7h1.1v1.1h-1.1zM339.7 272.1h1.1v1.1h-1.1zM329.9 281.7h1.1v1.1h-1.1zM334.7 286.8h1.1v1.1h-1.1zM333.6 276.3h1.1v1.1h-1.1zM344.1 239.0h1.1v1.1h-1.1zM337.7 291.6h1.1v1.1h-1.1zM341.1 253.2h1.1v1.1h-1.1zM341.0 262.7h1.1v1.1h-1.1zM329.1 254.8h1.1v1.1h-1.1zM334.0 287.0h1.1v1.1h-1.1zM330.1 242.2h1.1v1.1h-1.1zM325.5 221.4h1.1v1.1h-1.1zM348.9 236.1h1.1v1.1h-1.1zM345.7 229.7h1.1v1.1h-1.1zM340.5 247.6h1.1v1.1h-1.1zM340.3 244.5h1.1v1.1h-1.1zM335.1 292.2h1.1v1.1h-1.1zM333.7 298.2h1.1v1.1h-1.1zM341.0 253.5h1.1v1.1h-1.1zM339.6 259.4h1.1v1.1h-1.1zM336.1 295.7h1.1v1.1h-1.1zM330.5 258.4h1.1v1.1h-1.1zM334.5 284.5h1.1v1.1h-1.1zM338.9 262.6h1.1v1.1h-1.1zM342.0 262.7h1.1v1.1h-1.1zM332.4 288.7h1.1v1.1h-1.1zM334.0 276.5h1.1v1.1h-1.1zM327.4 252.6h1.1v1.1h-1.1zM330.4 269.2h1.1v1.1h-1.1zM332.5 257.4h1.1v1.1h-1.1zM348.2 231.7h1.1v1.1h-1.1zM333.6 263.8h1.1v1.1h-1.1zM342.3 236.6h1.1v1.1h-1.1zM338.9 285.3h1.1v1.1h-1.1zM344.9 222.8h1.1v1.1h-1.1zM330.8 239.8h1.1v1.1h-1.1zM332.9 263.0h1.1v1.1h-1.1zM334.1 282.3h1.1v1.1h-1.1zM338.6 269.7h1.1v1.1h-1.1zM321.6 275.7h1.1v1.1h-1.1zM332.0 252.9h1.1v1.1h-1.1zM332.0 247.6h1.1v1.1h-1.1zM323.4 218.9h1.1v1.1h-1.1zM337.9 277.2h1.1v1.1h-1.1zM334.2 280.2h1.1v1.1h-1.1zM338.6 290.1h1.1v1.1h-1.1zM331.8 246.2h1.1v1.1h-1.1zM333.9 293.8h1.1v1.1h-1.1zM334.2 291.4h1.1v1.1h-1.1zM335.8 296.7h1.1v1.1h-1.1zM335.1 294.8h1.1v1.1h-1.1zM343.8 265.8h1.1v1.1h-1.1zM333.9 276.4h1.1v1.1h-1.1zM340.5 239.8h1.1v1.1h-1.1zM334.7 280.7h1.1v1.1h-1.1zM330.3 277.1h1.1v1.1h-1.1zM325.1 256.9h1.1v1.1h-1.1zM331.9 262.6h1.1v1.1h-1.1zM346.9 219.4h1.1v1.1h-1.1zM324.4 223.9h1.1v1.1h-1.1zM338.2 287.1h1.1v1.1h-1.1zM329.5 270.0h1.1v1.1h-1.1zM343.3 228.1h1.1v1.1h-1.1zM350.9 218.9h1.1v1.1h-1.1zM339.5 260.3h1.1v1.1h-1.1zM322.2 299.3h1.1v1.1h-1.1zM327.8 252.5h1.1v1.1h-1.1zM338.0 276.7h1.1v1.1h-1.1zM335.6 290.1h1.1v1.1h-1.1zM339.0 276.4h1.1v1.1h-1.1zM333.2 260.8h1.1v1.1h-1.1zM322.4 251.3h1.1v1.1h-1.1zM330.7 269.4h1.1v1.1h-1.1zM340.2 242.9h1.1v1.1h-1.1zM348.7 218.6h1.1v1.1h-1.1zM327.3 228.0h1.1v1.1h-1.1zM338.7 298.4h1.1v1.1h-1.1zM339.5 258.2h1.1v1.1h-1.1zM335.9 294.8h1.1v1.1h-1.1zM332.6 275.5h1.1v1.1h-1.1zM335.5 287.4h1.1v1.1h-1.1zM345.8 227.4h1.1v1.1h-1.1zM327.3 238.2h1.1v1.1h-1.1zM330.5 239.5h1.1v1.1h-1.1zM333.1 287.1h1.1v1.1h-1.1zM329.1 237.2h1.1v1.1h-1.1zM332.1 259.2h1.1v1.1h-1.1zM347.2 267.0h1.1v1.1h-1.1zM331.4 289.7h1.1v1.1h-1.1zM337.8 290.4h1.1v1.1h-1.1zM321.5 269.2h1.1v1.1h-1.1zM337.5 290.0h1.1v1.1h-1.1zM337.1 295.8h1.1v1.1h-1.1zM344.5 228.5h1.1v1.1h-1.1zM331.0 271.5h1.1v1.1h-1.1zM338.0 282.5h1.1v1.1h-1.1zM340.5 251.9h1.1v1.1h-1.1zM339.5 252.2h1.1v1.1h-1.1zM327.2 225.8h1.1v1.1h-1.1zM339.9 264.4h1.1v1.1h-1.1zM332.9 258.0h1.1v1.1h-1.1zM338.0 284.2h1.1v1.1h-1.1zM340.5 284.6h1.1v1.1h-1.1zM335.8 299.3h1.1v1.1h-1.1zM323.8 225.5h1.1v1.1h-1.1zM327.3 253.8h1.1v1.1h-1.1zM330.2 265.4h1.1v1.1h-1.1zM338.7 265.1h1.1v1.1h-1.1zM332.1 257.2h1.1v1.1h-1.1zM341.3 241.4h1.1v1.1h-1.1zM333.5 267.8h1.1v1.1h-1.1zM339.0 258.2h1.1v1.1h-1.1zM334.9 293.2h1.1v1.1h-1.1zM338.0 285.8h1.1v1.1h-1.1zM344.3 227.8h1.1v1.1h-1.1zM335.4 293.5h1.1v1.1h-1.1zM331.7 264.6h1.1v1.1h-1.1zM336.8 296.7h1.1v1.1h-1.1zM339.7 249.4h1.1v1.1h-1.1zM333.6 274.4h1.1v1.1h-1.1zM343.2 267.8h1.1v1.1h-1.1zM338.4 270.7h1.1v1.1h-1.1zM333.7 293.8h1.1v1.1h-1.1zM331.9 273.3h1.1v1.1h-1.1zM332.0 245.2h1.1v1.1h-1.1zM332.1 262.3h1.1v1.1h-1.1zM337.8 280.3h1.1v1.1h-1.1zM338.6 275.0h1.1v1.1h-1.1zM339.9 279.8h1.1v1.1h-1.1zM326.7 230.0h1.1v1.1h-1.1zM330.4 240.6h1.1v1.1h-1.1zM334.6 292.4h1.1v1.1h-1.1zM331.8 269.6h1.1v1.1h-1.1zM333.5 276.6h1.1v1.1h-1.1zM335.3 284.9h1.1v1.1h-1.1zM332.7 285.8h1.1v1.1h-1.1zM334.3 285.4h1.1v1.1h-1.1zM340.2 242.1h1.1v1.1h-1.1zM334.6 281.4h1.1v1.1h-1.1zM330.4 241.6h1.1v1.1h-1.1zM336.0 299.0h1.1v1.1h-1.1zM336.0 299.3h1.1v1.1h-1.1zM328.0 247.9h1.1v1.1h-1.1zM335.9 293.4h1.1v1.1h-1.1zM331.4 247.3h1.1v1.1h-1.1zM334.5 283.6h1.1v1.1h-1.1zM335.2 299.0h1.1v1.1h-1.1zM342.8 237.9h1.1v1.1h-1.1zM343.1 289.0h1.1v1.1h-1.1zM329.5 254.9h1.1v1.1h-1.1zM333.8 275.9h1.1v1.1h-1.1zM334.0 284.5h1.1v1.1h-1.1zM333.2 269.0h1.1v1.1h-1.1zM335.4 296.5h1.1v1.1h-1.1zM339.6 248.4h1.1v1.1h-1.1zM333.1 276.0h1.1v1.1h-1.1zM333.2 274.9h1.1v1.1h-1.1zM334.3 281.1h1.1v1.1h-1.1zM337.9 279.5h1.1v1.1h-1.1zM330.2 291.0h1.1v1.1h-1.1zM341.5 278.3h1.1v1.1h-1.1zM341.7 255.4h1.1v1.1h-1.1zM328.8 274.0h1.1v1.1h-1.1zM339.0 276.7h1.1v1.1h-1.1zM330.3 282.4h1.1v1.1h-1.1zM335.3 290.6h1.1v1.1h-1.1zM333.9 287.4h1.1v1.1h-1.1zM350.6 255.7h1.1v1.1h-1.1zM334.1 280.5h1.1v1.1h-1.1zM352.0 247.0h1.1v1.1h-1.1zM332.0 255.9h1.1v1.1h-1.1zM341.0 243.8h1.1v1.1h-1.1zM334.8 286.7h1.1v1.1h-1.1zM336.4 298.0h1.1v1.1h-1.1zM332.0 248.1h1.1v1.1h-1.1zM337.1 292.5h1.1v1.1h-1.1zM334.4 286.4h1.1v1.1h-1.1zM330.7 247.0h1.1v1.1h-1.1zM341.9 280.5h1.1v1.1h-1.1zM330.2 260.9h1.1v1.1h-1.1zM328.1 235.6h1.1v1.1h-1.1zM330.3 251.5h1.1v1.1h-1.1zM324.5 224.3h1.1v1.1h-1.1zM318.9 255.0h1.1v1.1h-1.1zM336.8 298.6h1.1v1.1h-1.1zM330.0 298.9h1.1v1.1h-1.1zM334.9 295.0h1.1v1.1h-1.1zM330.2 277.4h1.1v1.1h-1.1zM332.1 284.3h1.1v1.1h-1.1zM340.1 249.1h1.1v1.1h-1.1zM335.3 291.7h1.1v1.1h-1.1zM333.5 267.9h1.1v1.1h-1.1zM334.9 288.2h1.1v1.1h-1.1zM334.6 286.0h1.1v1.1h-1.1zM335.8 297.2h1.1v1.1h-1.1zM327.2 231.9h1.1v1.1h-1.1zM338.2 298.2h1.1v1.1h-1.1zM346.7 284.7h1.1v1.1h-1.1zM338.7 271.7h1.1v1.1h-1.1zM331.0 243.3h1.1v1.1h-1.1zM342.8 264.5h1.1v1.1h-1.1zM341.8 275.3h1.1v1.1h-1.1zM332.2 248.0h1.1v1.1h-1.1zM331.7 260.0h1.1v1.1h-1.1zM328.9 237.7h1.1v1.1h-1.1zM338.8 284.6h1.1v1.1h-1.1zM335.9 296.4h1.1v1.1h-1.1zM340.6 244.3h1.1v1.1h-1.1zM336.1 295.8h1.1v1.1h-1.1zM333.8 266.6h1.1v1.1h-1.1zM339.7 263.6h1.1v1.1h-1.1zM323.6 243.3h1.1v1.1h-1.1zM338.9 274.6h1.1v1.1h-1.1zM338.3 285.0h1.1v1.1h-1.1zM331.1 291.2h1.1v1.1h-1.1zM332.0 254.7h1.1v1.1h-1.1zM342.5 256.4h1.1v1.1h-1.1zM339.7 266.4h1.1v1.1h-1.1zM340.2 270.9h1.1v1.1h-1.1zM332.5 276.5h1.1v1.1h-1.1zM331.9 265.5h1.1v1.1h-1.1zM339.5 258.5h1.1v1.1h-1.1zM339.4 269.5h1.1v1.1h-1.1zM340.4 245.0h1.1v1.1h-1.1zM319.8 219.1h1.1v1.1h-1.1zM344.8 224.6h1.1v1.1h-1.1zM326.6 231.6h1.1v1.1h-1.1zM339.1 263.7h1.1v1.1h-1.1zM337.8 297.5h1.1v1.1h-1.1zM340.4 287.3h1.1v1.1h-1.1zM339.3 262.5h1.1v1.1h-1.1zM332.8 278.0h1.1v1.1h-1.1zM338.1 279.6h1.1v1.1h-1.1zM334.0 291.3h1.1v1.1h-1.1zM339.9 255.2h1.1v1.1h-1.1zM331.8 251.5h1.1v1.1h-1.1zM328.7 255.2h1.1v1.1h-1.1zM334.7 291.4h1.1v1.1h-1.1zM334.5 294.5h1.1v1.1h-1.1zM323.5 278.7h1.1v1.1h-1.1zM330.7 245.0h1.1v1.1h-1.1zM333.0 274.6h1.1v1.1h-1.1zM333.0 270.6h1.1v1.1h-1.1zM331.5 248.2h1.1v1.1h-1.1zM338.9 284.1h1.1v1.1h-1.1zM343.5 244.3h1.1v1.1h-1.1zM333.9 297.9h1.1v1.1h-1.1zM338.2 283.6h1.1v1.1h-1.1zM333.7 274.3h1.1v1.1h-1.1zM329.3 273.6h1.1v1.1h-1.1zM340.4 258.8h1.1v1.1h-1.1zM332.0 278.2h1.1v1.1h-1.1zM337.8 279.7h1.1v1.1h-1.1zM331.4 254.9h1.1v1.1h-1.1zM354.1 251.3h1.1v1.1h-1.1zM344.9 235.8h1.1v1.1h-1.1zM333.4 270.1h1.1v1.1h-1.1zM334.5 277.7h1.1v1.1h-1.1zM330.4 244.5h1.1v1.1h-1.1zM326.6 244.5h1.1v1.1h-1.1zM329.3 241.1h1.1v1.1h-1.1zM331.1 239.8h1.1v1.1h-1.1zM338.1 294.8h1.1v1.1h-1.1zM338.4 283.5h1.1v1.1h-1.1zM332.7 274.1h1.1v1.1h-1.1zM338.8 270.3h1.1v1.1h-1.1zM316.0 221.2h1.1v1.1h-1.1zM331.4 247.3h1.1v1.1h-1.1zM341.8 283.0h1.1v1.1h-1.1zM336.4 298.7h1.1v1.1h-1.1zM334.6 285.9h1.1v1.1h-1.1zM346.8 267.8h1.1v1.1h-1.1zM331.7 260.8h1.1v1.1h-1.1zM338.5 283.1h1.1v1.1h-1.1zM332.8 268.9h1.1v1.1h-1.1zM334.0 271.1h1.1v1.1h-1.1zM338.7 264.4h1.1v1.1h-1.1zM334.1 277.5h1.1v1.1h-1.1zM338.5 288.1h1.1v1.1h-1.1zM339.0 258.5h1.1v1.1h-1.1zM331.4 258.1h1.1v1.1h-1.1zM334.0 281.9h1.1v1.1h-1.1zM331.8 243.3h1.1v1.1h-1.1zM328.9 239.2h1.1v1.1h-1.1zM338.5 284.1h1.1v1.1h-1.1zM323.8 219.7h1.1v1.1h-1.1zM332.6 254.0h1.1v1.1h-1.1zM342.7 255.6h1.1v1.1h-1.1zM339.7 250.5h1.1v1.1h-1.1zM329.4 240.6h1.1v1.1h-1.1zM333.2 271.3h1.1v1.1h-1.1zM334.6 297.6h1.1v1.1h-1.1zM331.2 262.6h1.1v1.1h-1.1zM338.4 282.3h1.1v1.1h-1.1zM338.4 274.1h1.1v1.1h-1.1zM328.7 231.3h1.1v1.1h-1.1zM339.6 277.1h1.1v1.1h-1.1zM332.0 249.5h1.1v1.1h-1.1zM331.4 244.4h1.1v1.1h-1.1zM334.9 292.4h1.1v1.1h-1.1zM332.9 265.1h1.1v1.1h-1.1zM326.3 259.4h1.1v1.1h-1.1zM331.0 248.8h1.1v1.1h-1.1zM342.9 245.6h1.1v1.1h-1.1zM338.9 277.1h1.1v1.1h-1.1zM353.0 256.3h1.1v1.1h-1.1zM334.2 270.6h1.1v1.1h-1.1zM338.2 282.6h1.1v1.1h-1.1zM340.0 248.7h1.1v1.1h-1.1zM345.5 223.2h1.1v1.1h-1.1zM328.8 240.3h1.1v1.1h-1.1zM337.2 295.0h1.1v1.1h-1.1zM346.0 228.6h1.1v1.1h-1.1zM338.2 283.7h1.1v1.1h-1.1zM334.9 286.7h1.1v1.1h-1.1zM334.5 286.4h1.1v1.1h-1.1zM334.3 285.1h1.1v1.1h-1.1zM340.5 266.1h1.1v1.1h-1.1zM341.7 257.1h1.1v1.1h-1.1zM340.4 252.3h1.1v1.1h-1.1zM338.3 298.4h1.1v1.1h-1.1zM329.1 240.0h1.1v1.1h-1.1zM346.7 224.0h1.1v1.1h-1.1zM339.0 287.9h1.1v1.1h-1.1zM337.3 297.6h1.1v1.1h-1.1zM326.7 261.1h1.1v1.1h-1.1zM328.1 251.7h1.1v1.1h-1.1zM342.2 250.0h1.1v1.1h-1.1zM335.0 297.3h1.1v1.1h-1.1zM332.9 264.5h1.1v1.1h-1.1zM332.3 273.9h1.1v1.1h-1.1zM348.2 268.0h1.1v1.1h-1.1zM335.3 294.2h1.1v1.1h-1.1zM359.0 220.6h1.1v1.1h-1.1zM349.4 249.9h1.1v1.1h-1.1zM332.9 296.8h1.1v1.1h-1.1zM340.2 295.5h1.1v1.1h-1.1zM337.8 299.3h1.1v1.1h-1.1zM338.9 259.7h1.1v1.1h-1.1zM349.8 297.8h1.1v1.1h-1.1zM332.1 274.6h1.1v1.1h-1.1zM337.6 285.8h1.1v1.1h-1.1zM338.0 280.4h1.1v1.1h-1.1zM333.5 291.7h1.1v1.1h-1.1zM338.5 268.7h1.1v1.1h-1.1zM333.6 286.0h1.1v1.1h-1.1zM335.3 287.9h1.1v1.1h-1.1zM343.3 239.7h1.1v1.1h-1.1zM326.7 242.4h1.1v1.1h-1.1zM324.6 277.6h1.1v1.1h-1.1zM330.7 276.3h1.1v1.1h-1.1zM339.8 280.2h1.1v1.1h-1.1zM338.9 284.0h1.1v1.1h-1.1zM333.1 266.9h1.1v1.1h-1.1zM351.4 289.7h1.1v1.1h-1.1zM338.1 279.9h1.1v1.1h-1.1zM341.4 247.1h1.1v1.1h-1.1zM344.7 230.4h1.1v1.1h-1.1zM334.2 277.5h1.1v1.1h-1.1zM335.7 291.1h1.1v1.1h-1.1zM333.5 282.5h1.1v1.1h-1.1zM339.2 260.9h1.1v1.1h-1.1zM335.5 288.6h1.1v1.1h-1.1zM330.3 266.5h1.1v1.1h-1.1zM322.3 260.8h1.1v1.1h-1.1zM340.1 270.3h1.1v1.1h-1.1zM340.4 290.7h1.1v1.1h-1.1zM331.1 242.4h1.1v1.1h-1.1zM331.0 245.0h1.1v1.1h-1.1zM338.0 288.8h1.1v1.1h-1.1zM334.8 291.2h1.1v1.1h-1.1zM335.8 298.9h1.1v1.1h-1.1zM340.3 269.2h1.1v1.1h-1.1zM330.6 259.7h1.1v1.1h-1.1zM333.4 270.3h1.1v1.1h-1.1zM350.1 224.8h1.1v1.1h-1.1zM334.7 283.9h1.1v1.1h-1.1zM332.1 259.4h1.1v1.1h-1.1zM337.0 296.3h1.1v1.1h-1.1zM331.1 261.6h1.1v1.1h-1.1zM334.5 277.0h1.1v1.1h-1.1zM330.7 255.0h1.1v1.1h-1.1zM324.0 267.1h1.1v1.1h-1.1zM335.0 284.5h1.1v1.1h-1.1zM327.3 235.8h1.1v1.1h-1.1zM340.0 273.1h1.1v1.1h-1.1zM331.9 268.4h1.1v1.1h-1.1zM334.0 279.8h1.1v1.1h-1.1zM346.4 235.3h1.1v1.1h-1.1zM347.5 239.0h1.1v1.1h-1.1zM337.2 291.6h1.1v1.1h-1.1zM351.6 239.6h1.1v1.1h-1.1zM332.4 253.8h1.1v1.1h-1.1zM324.3 219.9h1.1v1.1h-1.1zM325.2 219.6h1.1v1.1h-1.1zM345.9 231.9h1.1v1.1h-1.1zM323.7 224.0h1.1v1.1h-1.1zM334.6 279.0h1.1v1.1h-1.1zM341.9 252.9h1.1v1.1h-1.1zM334.2 281.9h1.1v1.1h-1.1zM340.7 253.5h1.1v1.1h-1.1zM317.2 225.7h1.1v1.1h-1.1zM323.9 222.0h1.1v1.1h-1.1zM336.8 299.2h1.1v1.1h-1.1zM339.0 269.2h1.1v1.1h-1.1zM334.0 287.3h1.1v1.1h-1.1zM335.0 298.5h1.1v1.1h-1.1zM333.8 274.1h1.1v1.1h-1.1zM340.4 269.1h1.1v1.1h-1.1zM351.2 242.5h1.1v1.1h-1.1zM339.7 263.2h1.1v1.1h-1.1zM338.0 290.8h1.1v1.1h-1.1zM338.3 285.1h1.1v1.1h-1.1zM342.7 242.0h1.1v1.1h-1.1zM332.8 272.6h1.1v1.1h-1.1zM326.3 222.8h1.1v1.1h-1.1zM332.1 272.2h1.1v1.1h-1.1zM340.3 260.4h1.1v1.1h-1.1zM332.5 256.5h1.1v1.1h-1.1zM335.1 298.4h1.1v1.1h-1.1zM334.2 297.5h1.1v1.1h-1.1zM344.7 233.5h1.1v1.1h-1.1zM333.5 282.7h1.1v1.1h-1.1zM333.7 274.4h1.1v1.1h-1.1zM341.8 239.6h1.1v1.1h-1.1zM332.7 270.9h1.1v1.1h-1.1zM338.6 282.8h1.1v1.1h-1.1zM340.6 269.1h1.1v1.1h-1.1zM318.9 220.5h1.1v1.1h-1.1zM340.0 283.3h1.1v1.1h-1.1zM331.7 251.5h1.1v1.1h-1.1zM347.3 241.7h1.1v1.1h-1.1zM329.5 247.4h1.1v1.1h-1.1zM330.6 242.1h1.1v1.1h-1.1zM338.4 275.4h1.1v1.1h-1.1zM340.6 259.5h1.1v1.1h-1.1zM343.6 258.8h1.1v1.1h-1.1zM330.5 259.8h1.1v1.1h-1.1zM339.0 263.0h1.1v1.1h-1.1zM319.2 240.7h1.1v1.1h-1.1zM338.2 284.9h1.1v1.1h-1.1zM340.3 255.6h1.1v1.1h-1.1zM330.9 238.1h1.1v1.1h-1.1zM330.9 257.4h1.1v1.1h-1.1zM331.6 242.8h1.1v1.1h-1.1zM341.3 249.3h1.1v1.1h-1.1zM334.1 285.0h1.1v1.1h-1.1zM332.4 252.6h1.1v1.1h-1.1zM328.7 231.4h1.1v1.1h-1.1zM341.0 239.3h1.1v1.1h-1.1zM339.7 267.8h1.1v1.1h-1.1zM338.0 289.4h1.1v1.1h-1.1zM331.3 269.1h1.1v1.1h-1.1zM357.6 237.5h1.1v1.1h-1.1zM335.3 288.5h1.1v1.1h-1.1zM327.6 272.0h1.1v1.1h-1.1zM332.2 250.7h1.1v1.1h-1.1zM327.7 230.3h1.1v1.1h-1.1zM337.4 288.2h1.1v1.1h-1.1zM342.0 234.6h1.1v1.1h-1.1zM326.3 298.8h1.1v1.1h-1.1zM335.9 296.0h1.1v1.1h-1.1zM338.3 285.1h1.1v1.1h-1.1zM333.2 269.7h1.1v1.1h-1.1zM334.6 286.8h1.1v1.1h-1.1zM329.1 234.1h1.1v1.1h-1.1zM348.0 229.9h1.1v1.1h-1.1zM332.1 266.8h1.1v1.1h-1.1zM345.5 264.3h1.1v1.1h-1.1zM335.6 288.5h1.1v1.1h-1.1zM337.2 299.3h1.1v1.1h-1.1zM339.3 290.7h1.1v1.1h-1.1zM341.3 249.3h1.1v1.1h-1.1zM342.6 230.6h1.1v1.1h-1.1zM338.3 286.9h1.1v1.1h-1.1zM331.5 265.6h1.1v1.1h-1.1zM335.8 293.4h1.1v1.1h-1.1zM339.0 261.3h1.1v1.1h-1.1zM331.1 259.5h1.1v1.1h-1.1zM326.7 228.5h1.1v1.1h-1.1zM339.3 260.0h1.1v1.1h-1.1zM339.1 288.8h1.1v1.1h-1.1zM338.7 280.5h1.1v1.1h-1.1zM337.5 296.1h1.1v1.1h-1.1zM328.9 242.9h1.1v1.1h-1.1zM329.9 238.9h1.1v1.1h-1.1zM338.5 269.1h1.1v1.1h-1.1zM338.5 286.0h1.1v1.1h-1.1zM332.5 261.3h1.1v1.1h-1.1zM330.3 247.1h1.1v1.1h-1.1zM337.6 284.6h1.1v1.1h-1.1zM334.8 291.0h1.1v1.1h-1.1zM348.3 220.2h1.1v1.1h-1.1zM330.4 246.9h1.1v1.1h-1.1zM333.6 264.1h1.1v1.1h-1.1zM334.3 280.8h1.1v1.1h-1.1zM331.3 266.8h1.1v1.1h-1.1zM335.4 287.5h1.1v1.1h-1.1zM334.0 290.8h1.1v1.1h-1.1zM340.1 244.1h1.1v1.1h-1.1zM335.6 292.5h1.1v1.1h-1.1zM334.8 296.8h1.1v1.1h-1.1zM335.6 295.4h1.1v1.1h-1.1zM332.1 254.2h1.1v1.1h-1.1zM331.9 263.7h1.1v1.1h-1.1zM333.9 276.2h1.1v1.1h-1.1zM329.5 256.5h1.1v1.1h-1.1zM333.0 259.1h1.1v1.1h-1.1zM338.7 276.6h1.1v1.1h-1.1zM334.2 299.0h1.1v1.1h-1.1zM350.2 243.7h1.1v1.1h-1.1zM333.1 291.0h1.1v1.1h-1.1zM340.2 295.4h1.1v1.1h-1.1zM351.6 278.3h1.1v1.1h-1.1zM352.0 260.0h1.1v1.1h-1.1zM341.1 252.7h1.1v1.1h-1.1zM337.8 294.4h1.1v1.1h-1.1zM332.0 255.3h1.1v1.1h-1.1zM344.4 271.3h1.1v1.1h-1.1zM338.4 278.0h1.1v1.1h-1.1zM333.4 261.9h1.1v1.1h-1.1zM324.3 280.9h1.1v1.1h-1.1zM336.7 297.9h1.1v1.1h-1.1zM346.2 268.5h1.1v1.1h-1.1zM333.5 273.6h1.1v1.1h-1.1zM340.6 270.0h1.1v1.1h-1.1zM341.2 240.4h1.1v1.1h-1.1zM336.1 299.2h1.1v1.1h-1.1zM352.7 245.6h1.1v1.1h-1.1zM334.5 298.2h1.1v1.1h-1.1zM341.2 250.1h1.1v1.1h-1.1zM337.4 295.4h1.1v1.1h-1.1zM334.2 288.1h1.1v1.1h-1.1zM337.6 294.6h1.1v1.1h-1.1zM340.5 295.0h1.1v1.1h-1.1zM342.4 262.1h1.1v1.1h-1.1zM341.1 241.3h1.1v1.1h-1.1zM332.7 265.9h1.1v1.1h-1.1zM351.5 257.3h1.1v1.1h-1.1zM334.8 283.8h1.1v1.1h-1.1zM325.9 226.4h1.1v1.1h-1.1zM338.3 278.7h1.1v1.1h-1.1zM332.1 250.6h1.1v1.1h-1.1zM339.7 273.4h1.1v1.1h-1.1zM334.7 283.4h1.1v1.1h-1.1zM327.7 229.5h1.1v1.1h-1.1zM338.8 271.5h1.1v1.1h-1.1zM338.6 293.6h1.1v1.1h-1.1zM339.0 269.4h1.1v1.1h-1.1zM337.0 298.8h1.1v1.1h-1.1zM337.9 283.0h1.1v1.1h-1.1zM344.2 226.1h1.1v1.1h-1.1zM339.8 246.2h1.1v1.1h-1.1zM330.9 266.5h1.1v1.1h-1.1zM338.1 286.8h1.1v1.1h-1.1zM337.8 292.1h1.1v1.1h-1.1zM339.8 273.6h1.1v1.1h-1.1zM335.6 295.1h1.1v1.1h-1.1zM331.0 253.8h1.1v1.1h-1.1zM337.3 291.7h1.1v1.1h-1.1zM345.2 248.3h1.1v1.1h-1.1zM346.9 257.2h1.1v1.1h-1.1zM331.1 253.4h1.1v1.1h-1.1zM330.9 279.1h1.1v1.1h-1.1zM341.3 250.8h1.1v1.1h-1.1zM330.3 254.0h1.1v1.1h-1.1zM333.2 277.0h1.1v1.1h-1.1zM339.3 254.4h1.1v1.1h-1.1zM339.3 288.4h1.1v1.1h-1.1zM333.0 269.1h1.1v1.1h-1.1zM325.7 245.7h1.1v1.1h-1.1zM334.5 281.1h1.1v1.1h-1.1zM336.8 297.3h1.1v1.1h-1.1zM339.8 270.9h1.1v1.1h-1.1zM338.1 279.0h1.1v1.1h-1.1zM343.8 226.2h1.1v1.1h-1.1zM332.8 261.8h1.1v1.1h-1.1zM324.5 274.4h1.1v1.1h-1.1zM345.8 228.8h1.1v1.1h-1.1zM342.2 240.9h1.1v1.1h-1.1zM341.2 265.5h1.1v1.1h-1.1zM340.8 239.8h1.1v1.1h-1.1zM335.1 293.6h1.1v1.1h-1.1zM334.0 272.1h1.1v1.1h-1.1zM338.8 284.6h1.1v1.1h-1.1zM338.1 285.5h1.1v1.1h-1.1zM332.3 265.1h1.1v1.1h-1.1zM337.9 286.2h1.1v1.1h-1.1zM339.4 264.0h1.1v1.1h-1.1zM322.6 219.4h1.1v1.1h-1.1zM342.1 291.5h1.1v1.1h-1.1zM332.8 289.5h1.1v1.1h-1.1zM338.6 288.0h1.1v1.1h-1.1zM335.0 294.6h1.1v1.1h-1.1zM329.0 241.1h1.1v1.1h-1.1zM333.2 269.6h1.1v1.1h-1.1zM339.6 281.1h1.1v1.1h-1.1zM336.0 298.8h1.1v1.1h-1.1zM338.2 273.2h1.1v1.1h-1.1zM335.0 281.8h1.1v1.1h-1.1zM337.8 294.0h1.1v1.1h-1.1zM335.8 291.6h1.1v1.1h-1.1zM341.0 246.2h1.1v1.1h-1.1zM333.3 290.8h1.1v1.1h-1.1zM332.9 282.8h1.1v1.1h-1.1zM339.4 285.9h1.1v1.1h-1.1zM321.1 222.4h1.1v1.1h-1.1zM330.3 238.3h1.1v1.1h-1.1zM338.8 271.8h1.1v1.1h-1.1zM328.3 228.8h1.1v1.1h-1.1zM339.3 273.7h1.1v1.1h-1.1zM337.4 287.0h1.1v1.1h-1.1zM336.1 298.5h1.1v1.1h-1.1zM340.1 275.3h1.1v1.1h-1.1zM334.8 280.4h1.1v1.1h-1.1zM335.2 285.3h1.1v1.1h-1.1zM336.0 299.4h1.1v1.1h-1.1zM332.2 271.7h1.1v1.1h-1.1zM331.8 261.9h1.1v1.1h-1.1zM324.5 243.6h1.1v1.1h-1.1zM345.3 229.2h1.1v1.1h-1.1zM338.8 264.6h1.1v1.1h-1.1zM340.4 243.5h1.1v1.1h-1.1zM333.5 269.0h1.1v1.1h-1.1zM331.2 261.3h1.1v1.1h-1.1zM332.0 245.1h1.1v1.1h-1.1zM340.3 288.4h1.1v1.1h-1.1zM332.5 284.9h1.1v1.1h-1.1zM337.9 298.1h1.1v1.1h-1.1zM328.6 280.2h1.1v1.1h-1.1zM335.9 294.8h1.1v1.1h-1.1zM330.9 251.2h1.1v1.1h-1.1zM345.3 272.4h1.1v1.1h-1.1zM327.1 227.8h1.1v1.1h-1.1zM339.5 270.3h1.1v1.1h-1.1zM334.4 298.9h1.1v1.1h-1.1zM344.4 240.1h1.1v1.1h-1.1zM318.6 221.1h1.1v1.1h-1.1zM331.4 266.0h1.1v1.1h-1.1zM332.1 252.1h1.1v1.1h-1.1zM351.4 288.3h1.1v1.1h-1.1zM344.3 234.6h1.1v1.1h-1.1zM328.8 235.1h1.1v1.1h-1.1zM316.0 245.6h1.1v1.1h-1.1zM341.5 271.4h1.1v1.1h-1.1zM339.6 277.9h1.1v1.1h-1.1zM329.2 238.5h1.1v1.1h-1.1zM338.3 271.0h1.1v1.1h-1.1zM334.5 275.4h1.1v1.1h-1.1zM330.8 288.7h1.1v1.1h-1.1zM329.0 250.8h1.1v1.1h-1.1zM340.1 245.5h1.1v1.1h-1.1zM323.9 252.0h1.1v1.1h-1.1zM350.7 251.6h1.1v1.1h-1.1zM341.4 237.5h1.1v1.1h-1.1zM331.9 256.8h1.1v1.1h-1.1zM366.7 219.6h1.1v1.1h-1.1zM340.1 270.1h1.1v1.1h-1.1zM337.5 284.9h1.1v1.1h-1.1zM334.0 282.6h1.1v1.1h-1.1zM325.7 238.5h1.1v1.1h-1.1zM332.7 264.2h1.1v1.1h-1.1zM339.2 282.9h1.1v1.1h-1.1zM337.5 285.5h1.1v1.1h-1.1zM331.3 279.3h1.1v1.1h-1.1zM344.7 248.5h1.1v1.1h-1.1zM333.6 298.3h1.1v1.1h-1.1zM323.1 219.2h1.1v1.1h-1.1zM338.0 294.2h1.1v1.1h-1.1zM339.1 285.3h1.1v1.1h-1.1zM334.6 286.0h1.1v1.1h-1.1zM325.1 257.3h1.1v1.1h-1.1zM346.4 219.0h1.1v1.1h-1.1zM332.6 259.6h1.1v1.1h-1.1zM332.0 246.9h1.1v1.1h-1.1zM328.3 229.9h1.1v1.1h-1.1zM328.0 250.6h1.1v1.1h-1.1zM338.2 280.8h1.1v1.1h-1.1zM333.8 274.2h1.1v1.1h-1.1zM340.5 279.3h1.1v1.1h-1.1zM323.8 290.7h1.1v1.1h-1.1zM322.7 220.0h1.1v1.1h-1.1zM339.8 255.9h1.1v1.1h-1.1zM334.2 287.9h1.1v1.1h-1.1zM327.6 273.6h1.1v1.1h-1.1zM330.1 236.0h1.1v1.1h-1.1zM339.4 257.1h1.1v1.1h-1.1zM340.5 249.8h1.1v1.1h-1.1zM341.5 292.9h1.1v1.1h-1.1zM332.5 263.2h1.1v1.1h-1.1zM334.2 283.4h1.1v1.1h-1.1zM334.9 297.1h1.1v1.1h-1.1zM331.7 252.5h1.1v1.1h-1.1zM336.0 298.3h1.1v1.1h-1.1zM339.6 275.8h1.1v1.1h-1.1zM340.6 247.1h1.1v1.1h-1.1zM335.3 290.2h1.1v1.1h-1.1zM331.7 262.2h1.1v1.1h-1.1zM333.5 298.6h1.1v1.1h-1.1zM340.6 246.0h1.1v1.1h-1.1zM337.8 297.0h1.1v1.1h-1.1zM336.9 295.3h1.1v1.1h-1.1zM339.7 294.2h1.1v1.1h-1.1zM332.6 282.8h1.1v1.1h-1.1zM340.0 250.3h1.1v1.1h-1.1zM344.3 227.3h1.1v1.1h-1.1zM333.3 279.6h1.1v1.1h-1.1zM350.2 272.7h1.1v1.1h-1.1zM328.8 230.4h1.1v1.1h-1.1zM340.8 250.8h1.1v1.1h-1.1zM335.3 297.9h1.1v1.1h-1.1zM343.2 273.8h1.1v1.1h-1.1zM333.7 270.5h1.1v1.1h-1.1zM332.7 274.6h1.1v1.1h-1.1zM335.9 298.0h1.1v1.1h-1.1zM341.6 236.0h1.1v1.1h-1.1zM334.4 292.7h1.1v1.1h-1.1zM339.8 253.6h1.1v1.1h-1.1zM343.5 234.3h1.1v1.1h-1.1zM337.3 298.7h1.1v1.1h-1.1zM335.4 289.8h1.1v1.1h-1.1zM343.3 238.0h1.1v1.1h-1.1zM340.2 286.9h1.1v1.1h-1.1zM337.6 284.5h1.1v1.1h-1.1zM327.0 242.7h1.1v1.1h-1.1zM324.8 222.9h1.1v1.1h-1.1zM335.7 295.4h1.1v1.1h-1.1zM336.8 296.1h1.1v1.1h-1.1zM342.3 278.2h1.1v1.1h-1.1zM350.0 220.1h1.1v1.1h-1.1zM334.0 281.3h1.1v1.1h-1.1zM340.0 286.9h1.1v1.1h-1.1zM333.5 288.4h1.1v1.1h-1.1zM330.9 262.7h1.1v1.1h-1.1zM340.8 250.6h1.1v1.1h-1.1zM333.3 287.7h1.1v1.1h-1.1zM339.6 283.6h1.1v1.1h-1.1zM333.9 270.8h1.1v1.1h-1.1zM335.4 288.2h1.1v1.1h-1.1zM330.8 264.8h1.1v1.1h-1.1zM331.7 255.7h1.1v1.1h-1.1zM338.9 270.0h1.1v1.1h-1.1zM350.2 245.3h1.1v1.1h-1.1zM339.9 262.6h1.1v1.1h-1.1zM341.2 245.2h1.1v1.1h-1.1zM316.2 222.9h1.1v1.1h-1.1zM332.8 276.5h1.1v1.1h-1.1zM340.5 256.5h1.1v1.1h-1.1zM343.1 244.5h1.1v1.1h-1.1zM340.6 251.7h1.1v1.1h-1.1zM340.1 273.0h1.1v1.1h-1.1zM334.7 292.3h1.1v1.1h-1.1zM339.2 291.6h1.1v1.1h-1.1zM338.7 265.4h1.1v1.1h-1.1zM322.6 220.4h1.1v1.1h-1.1zM335.9 292.4h1.1v1.1h-1.1zM333.0 263.4h1.1v1.1h-1.1zM339.4 281.3h1.1v1.1h-1.1zM337.5 285.2h1.1v1.1h-1.1zM332.1 253.5h1.1v1.1h-1.1zM333.4 272.2h1.1v1.1h-1.1zM327.3 256.1h1.1v1.1h-1.1zM338.1 287.6h1.1v1.1h-1.1zM333.6 280.4h1.1v1.1h-1.1zM331.3 250.1h1.1v1.1h-1.1zM339.7 275.2h1.1v1.1h-1.1zM323.7 223.3h1.1v1.1h-1.1zM337.1 298.5h1.1v1.1h-1.1zM336.4 299.4h1.1v1.1h-1.1zM335.7 292.3h1.1v1.1h-1.1zM324.3 281.9h1.1v1.1h-1.1zM342.9 233.2h1.1v1.1h-1.1zM333.3 277.5h1.1v1.1h-1.1zM335.1 290.1h1.1v1.1h-1.1zM332.4 259.1h1.1v1.1h-1.1zM335.3 290.9h1.1v1.1h-1.1zM355.9 249.6h1.1v1.1h-1.1zM338.5 280.5h1.1v1.1h-1.1zM336.8 296.9h1.1v1.1h-1.1zM336.2 299.2h1.1v1.1h-1.1zM330.2 242.0h1.1v1.1h-1.1zM341.6 250.5h1.1v1.1h-1.1zM343.5 263.5h1.1v1.1h-1.1zM338.4 286.8h1.1v1.1h-1.1zM338.1 291.1h1.1v1.1h-1.1zM341.1 237.2h1.1v1.1h-1.1zM328.0 275.3h1.1v1.1h-1.1zM330.4 249.7h1.1v1.1h-1.1zM334.8 278.7h1.1v1.1h-1.1zM333.9 268.4h1.1v1.1h-1.1zM333.4 275.0h1.1v1.1h-1.1zM338.5 272.7h1.1v1.1h-1.1zM334.9 295.9h1.1v1.1h-1.1zM337.6 283.2h1.1v1.1h-1.1zM331.9 255.2h1.1v1.1h-1.1zM330.7 294.6h1.1v1.1h-1.1zM332.0 277.8h1.1v1.1h-1.1zM336.9 298.8h1.1v1.1h-1.1zM328.3 242.0h1.1v1.1h-1.1zM340.9 238.7h1.1v1.1h-1.1zM335.4 290.9h1.1v1.1h-1.1zM339.2 270.3h1.1v1.1h-1.1zM354.3 234.5h1.1v1.1h-1.1zM341.7 241.5h1.1v1.1h-1.1zM334.9 286.9h1.1v1.1h-1.1zM341.0 256.8h1.1v1.1h-1.1zM331.1 287.4h1.1v1.1h-1.1zM333.4 281.6h1.1v1.1h-1.1zM345.3 243.1h1.1v1.1h-1.1zM339.1 271.4h1.1v1.1h-1.1zM332.2 261.8h1.1v1.1h-1.1zM338.4 268.9h1.1v1.1h-1.1zM347.2 228.3h1.1v1.1h-1.1zM334.6 297.7h1.1v1.1h-1.1zM330.1 236.3h1.1v1.1h-1.1zM335.9 296.4h1.1v1.1h-1.1zM331.3 251.7h1.1v1.1h-1.1zM337.0 298.2h1.1v1.1h-1.1zM344.9 224.7h1.1v1.1h-1.1zM338.8 283.6h1.1v1.1h-1.1zM323.5 222.8h1.1v1.1h-1.1zM340.9 289.7h1.1v1.1h-1.1zM332.0 262.3h1.1v1.1h-1.1zM333.0 259.7h1.1v1.1h-1.1zM336.1 295.1h1.1v1.1h-1.1zM345.0 228.3h1.1v1.1h-1.1zM325.9 223.1h1.1v1.1h-1.1zM334.1 276.4h1.1v1.1h-1.1zM333.4 275.3h1.1v1.1h-1.1zM318.7 247.4h1.1v1.1h-1.1zM349.6 248.0h1.1v1.1h-1.1zM338.7 274.2h1.1v1.1h-1.1zM334.8 278.1h1.1v1.1h-1.1zM328.2 243.3h1.1v1.1h-1.1zM331.9 254.9h1.1v1.1h-1.1zM324.6 256.4h1.1v1.1h-1.1zM328.2 285.1h1.1v1.1h-1.1zM343.0 287.2h1.1v1.1h-1.1zM335.2 297.2h1.1v1.1h-1.1zM339.8 249.4h1.1v1.1h-1.1zM336.1 298.6h1.1v1.1h-1.1zM335.3 295.3h1.1v1.1h-1.1zM331.6 242.9h1.1v1.1h-1.1zM335.6 293.9h1.1v1.1h-1.1zM331.0 240.2h1.1v1.1h-1.1zM338.4 272.6h1.1v1.1h-1.1zM344.3 297.5h1.1v1.1h-1.1zM340.8 263.0h1.1v1.1h-1.1zM337.2 291.9h1.1v1.1h-1.1zM333.8 283.5h1.1v1.1h-1.1zM337.8 284.1h1.1v1.1h-1.1zM334.9 283.8h1.1v1.1h-1.1zM348.8 222.1h1.1v1.1h-1.1zM332.3 250.3h1.1v1.1h-1.1zM331.6 256.9h1.1v1.1h-1.1zM330.8 252.8h1.1v1.1h-1.1zM336.1 298.4h1.1v1.1h-1.1zM342.2 268.9h1.1v1.1h-1.1zM341.2 241.6h1.1v1.1h-1.1zM339.1 275.6h1.1v1.1h-1.1zM341.1 261.8h1.1v1.1h-1.1zM322.6 249.3h1.1v1.1h-1.1zM332.8 256.5h1.1v1.1h-1.1zM334.0 274.3h1.1v1.1h-1.1zM338.3 299.1h1.1v1.1h-1.1zM338.5 291.4h1.1v1.1h-1.1zM333.7 266.1h1.1v1.1h-1.1zM333.9 292.2h1.1v1.1h-1.1zM338.2 286.6h1.1v1.1h-1.1zM340.1 270.6h1.1v1.1h-1.1zM342.6 244.0h1.1v1.1h-1.1zM341.2 243.9h1.1v1.1h-1.1zM328.0 244.2h1.1v1.1h-1.1zM332.8 254.5h1.1v1.1h-1.1zM335.0 299.1h1.1v1.1h-1.1zM331.9 288.1h1.1v1.1h-1.1zM332.3 248.4h1.1v1.1h-1.1zM332.5 291.9h1.1v1.1h-1.1zM337.6 292.6h1.1v1.1h-1.1zM350.7 297.4h1.1v1.1h-1.1zM329.9 261.0h1.1v1.1h-1.1zM321.8 235.6h1.1v1.1h-1.1zM340.7 271.5h1.1v1.1h-1.1zM327.7 228.9h1.1v1.1h-1.1zM348.7 257.8h1.1v1.1h-1.1zM340.7 246.2h1.1v1.1h-1.1zM334.5 289.0h1.1v1.1h-1.1zM342.8 245.2h1.1v1.1h-1.1zM340.2 243.3h1.1v1.1h-1.1zM334.5 284.4h1.1v1.1h-1.1zM339.4 257.5h1.1v1.1h-1.1zM333.3 261.5h1.1v1.1h-1.1zM333.1 268.3h1.1v1.1h-1.1zM331.4 251.0h1.1v1.1h-1.1zM331.6 244.1h1.1v1.1h-1.1zM351.2 264.2h1.1v1.1h-1.1zM334.5 278.6h1.1v1.1h-1.1zM335.0 291.6h1.1v1.1h-1.1zM347.3 226.3h1.1v1.1h-1.1zM334.3 281.5h1.1v1.1h-1.1zM327.5 241.2h1.1v1.1h-1.1zM339.5 269.2h1.1v1.1h-1.1zM331.7 250.6h1.1v1.1h-1.1zM340.7 296.8h1.1v1.1h-1.1zM331.4 264.2h1.1v1.1h-1.1zM340.8 240.5h1.1v1.1h-1.1zM335.8 297.1h1.1v1.1h-1.1zM330.5 242.8h1.1v1.1h-1.1zM339.5 258.4h1.1v1.1h-1.1zM333.7 279.2h1.1v1.1h-1.1zM340.4 257.8h1.1v1.1h-1.1zM326.6 225.2h1.1v1.1h-1.1zM332.2 263.5h1.1v1.1h-1.1zM338.4 282.2h1.1v1.1h-1.1zM335.7 291.9h1.1v1.1h-1.1zM333.2 274.4h1.1v1.1h-1.1zM337.4 291.5h1.1v1.1h-1.1zM339.1 288.8h1.1v1.1h-1.1zM342.5 231.8h1.1v1.1h-1.1zM339.9 282.3h1.1v1.1h-1.1zM333.0 262.2h1.1v1.1h-1.1zM323.1 259.6h1.1v1.1h-1.1zM337.0 293.5h1.1v1.1h-1.1zM334.4 276.6h1.1v1.1h-1.1zM335.2 297.8h1.1v1.1h-1.1zM338.7 288.0h1.1v1.1h-1.1zM324.5 238.6h1.1v1.1h-1.1zM338.3 279.1h1.1v1.1h-1.1zM335.7 291.8h1.1v1.1h-1.1zM339.6 267.1h1.1v1.1h-1.1zM348.7 227.6h1.1v1.1h-1.1zM348.3 226.6h1.1v1.1h-1.1zM334.5 283.1h1.1v1.1h-1.1zM337.6 282.2h1.1v1.1h-1.1zM337.8 289.5h1.1v1.1h-1.1zM341.0 295.5h1.1v1.1h-1.1zM341.5 256.4h1.1v1.1h-1.1zM340.3 266.3h1.1v1.1h-1.1zM360.5 237.4h1.1v1.1h-1.1zM335.3 297.6h1.1v1.1h-1.1zM328.2 236.9h1.1v1.1h-1.1zM339.2 259.1h1.1v1.1h-1.1zM340.8 256.6h1.1v1.1h-1.1zM345.5 282.6h1.1v1.1h-1.1zM341.7 296.5h1.1v1.1h-1.1zM331.5 246.1h1.1v1.1h-1.1zM332.2 260.6h1.1v1.1h-1.1zM337.0 296.8h1.1v1.1h-1.1zM341.3 265.7h1.1v1.1h-1.1zM334.8 279.8h1.1v1.1h-1.1zM341.6 297.1h1.1v1.1h-1.1zM334.2 290.9h1.1v1.1h-1.1zM332.0 252.4h1.1v1.1h-1.1zM340.1 259.2h1.1v1.1h-1.1zM333.8 274.1h1.1v1.1h-1.1zM347.4 297.5h1.1v1.1h-1.1zM329.8 256.5h1.1v1.1h-1.1zM343.7 256.6h1.1v1.1h-1.1zM333.9 272.2h1.1v1.1h-1.1zM334.5 278.8h1.1v1.1h-1.1zM333.4 285.4h1.1v1.1h-1.1zM340.9 241.5h1.1v1.1h-1.1zM333.1 264.2h1.1v1.1h-1.1zM345.4 271.1h1.1v1.1h-1.1zM334.9 280.4h1.1v1.1h-1.1zM334.5 289.3h1.1v1.1h-1.1zM330.7 237.4h1.1v1.1h-1.1zM330.3 246.2h1.1v1.1h-1.1zM334.9 286.5h1.1v1.1h-1.1zM335.2 299.0h1.1v1.1h-1.1zM341.1 291.3h1.1v1.1h-1.1zM333.9 294.3h1.1v1.1h-1.1zM330.1 235.3h1.1v1.1h-1.1zM334.5 280.3h1.1v1.1h-1.1zM334.8 281.7h1.1v1.1h-1.1zM333.7 272.0h1.1v1.1h-1.1zM351.8 218.6h1.1v1.1h-1.1zM332.2 254.6h1.1v1.1h-1.1zM319.0 262.9h1.1v1.1h-1.1zM320.4 237.0h1.1v1.1h-1.1zM323.9 299.1h1.1v1.1h-1.1zM341.3 244.6h1.1v1.1h-1.1zM340.8 241.6h1.1v1.1h-1.1zM340.2 264.6h1.1v1.1h-1.1zM334.8 279.3h1.1v1.1h-1.1zM326.1 221.4h1.1v1.1h-1.1zM338.5 285.8h1.1v1.1h-1.1zM332.3 259.9h1.1v1.1h-1.1zM340.0 261.9h1.1v1.1h-1.1zM328.6 243.7h1.1v1.1h-1.1zM337.3 291.8h1.1v1.1h-1.1zM323.1 230.4h1.1v1.1h-1.1zM333.3 260.9h1.1v1.1h-1.1zM341.2 237.1h1.1v1.1h-1.1zM342.2 260.7h1.1v1.1h-1.1zM340.8 240.6h1.1v1.1h-1.1zM338.6 272.1h1.1v1.1h-1.1zM344.4 270.0h1.1v1.1h-1.1zM333.9 290.5h1.1v1.1h-1.1zM352.4 267.0h1.1v1.1h-1.1zM342.0 233.4h1.1v1.1h-1.1zM333.4 274.7h1.1v1.1h-1.1zM334.8 287.2h1.1v1.1h-1.1zM339.1 280.3h1.1v1.1h-1.1zM334.3 292.8h1.1v1.1h-1.1zM333.5 267.3h1.1v1.1h-1.1zM337.5 288.0h1.1v1.1h-1.1zM335.0 280.7h1.1v1.1h-1.1zM339.5 262.0h1.1v1.1h-1.1zM331.7 245.7h1.1v1.1h-1.1zM339.1 281.7h1.1v1.1h-1.1zM337.1 299.1h1.1v1.1h-1.1zM337.6 289.6h1.1v1.1h-1.1zM342.3 255.6h1.1v1.1h-1.1zM328.8 231.2h1.1v1.1h-1.1zM347.4 220.8h1.1v1.1h-1.1zM335.2 296.6h1.1v1.1h-1.1zM341.0 255.2h1.1v1.1h-1.1zM334.6 289.7h1.1v1.1h-1.1zM329.9 238.8h1.1v1.1h-1.1zM327.1 238.9h1.1v1.1h-1.1zM331.0 252.8h1.1v1.1h-1.1zM337.6 284.6h1.1v1.1h-1.1zM330.5 248.9h1.1v1.1h-1.1zM335.2 284.9h1.1v1.1h-1.1zM323.8 295.2h1.1v1.1h-1.1zM340.1 251.5h1.1v1.1h-1.1zM333.0 265.9h1.1v1.1h-1.1zM336.0 295.0h1.1v1.1h-1.1zM332.3 288.9h1.1v1.1h-1.1zM338.2 290.0h1.1v1.1h-1.1zM351.1 293.3h1.1v1.1h-1.1zM353.0 245.3h1.1v1.1h-1.1zM342.3 242.5h1.1v1.1h-1.1zM340.6 260.4h1.1v1.1h-1.1zM322.9 231.5h1.1v1.1h-1.1zM337.3 288.5h1.1v1.1h-1.1zM334.8 281.6h1.1v1.1h-1.1zM347.9 252.6h1.1v1.1h-1.1zM335.7 295.4h1.1v1.1h-1.1zM354.8 219.0h1.1v1.1h-1.1zM344.0 265.1h1.1v1.1h-1.1zM332.9 292.8h1.1v1.1h-1.1zM337.5 290.8h1.1v1.1h-1.1zM337.3 293.0h1.1v1.1h-1.1zM326.8 235.4h1.1v1.1h-1.1zM333.4 274.3h1.1v1.1h-1.1zM342.6 246.3h1.1v1.1h-1.1zM332.2 258.7h1.1v1.1h-1.1zM329.1 238.6h1.1v1.1h-1.1zM338.5 288.1h1.1v1.1h-1.1zM338.7 276.3h1.1v1.1h-1.1zM327.6 244.5h1.1v1.1h-1.1zM336.2 297.6h1.1v1.1h-1.1zM339.8 270.3h1.1v1.1h-1.1zM339.2 265.1h1.1v1.1h-1.1zM328.4 294.0h1.1v1.1h-1.1zM342.3 230.7h1.1v1.1h-1.1zM349.5 223.1h1.1v1.1h-1.1zM338.5 291.5h1.1v1.1h-1.1zM340.3 250.4h1.1v1.1h-1.1zM314.0 222.1h1.1v1.1h-1.1zM328.6 232.8h1.1v1.1h-1.1zM333.3 297.0h1.1v1.1h-1.1zM333.1 264.0h1.1v1.1h-1.1zM330.7 250.5h1.1v1.1h-1.1zM339.5 250.7h1.1v1.1h-1.1zM331.4 267.2h1.1v1.1h-1.1zM345.8 221.8h1.1v1.1h-1.1zM337.9 295.4h1.1v1.1h-1.1zM338.6 285.6h1.1v1.1h-1.1zM332.9 269.9h1.1v1.1h-1.1zM339.3 277.6h1.1v1.1h-1.1zM338.8 285.3h1.1v1.1h-1.1zM346.6 227.5h1.1v1.1h-1.1zM334.5 283.7h1.1v1.1h-1.1zM344.7 235.4h1.1v1.1h-1.1zM327.2 258.7h1.1v1.1h-1.1zM337.9 291.5h1.1v1.1h-1.1zM329.1 244.2h1.1v1.1h-1.1zM341.5 255.1h1.1v1.1h-1.1zM338.2 276.3h1.1v1.1h-1.1zM333.2 266.0h1.1v1.1h-1.1zM332.8 283.2h1.1v1.1h-1.1zM341.0 254.1h1.1v1.1h-1.1zM339.3 273.0h1.1v1.1h-1.1zM340.2 243.4h1.1v1.1h-1.1zM337.6 294.4h1.1v1.1h-1.1zM340.6 263.7h1.1v1.1h-1.1zM343.3 256.4h1.1v1.1h-1.1zM343.0 236.0h1.1v1.1h-1.1zM326.0 250.4h1.1v1.1h-1.1zM329.1 267.6h1.1v1.1h-1.1zM338.0 286.6h1.1v1.1h-1.1zM333.5 279.8h1.1v1.1h-1.1zM332.9 259.9h1.1v1.1h-1.1zM330.4 248.8h1.1v1.1h-1.1zM341.4 272.1h1.1v1.1h-1.1zM338.2 287.7h1.1v1.1h-1.1zM334.5 278.2h1.1v1.1h-1.1zM334.5 282.7h1.1v1.1h-1.1zM340.9 260.0h1.1v1.1h-1.1zM338.5 289.2h1.1v1.1h-1.1zM334.5 282.8h1.1v1.1h-1.1zM337.9 282.9h1.1v1.1h-1.1zM331.5 272.7h1.1v1.1h-1.1zM340.2 245.6h1.1v1.1h-1.1zM339.9 270.4h1.1v1.1h-1.1zM339.7 276.2h1.1v1.1h-1.1zM326.4 232.8h1.1v1.1h-1.1zM340.6 295.4h1.1v1.1h-1.1zM337.8 287.7h1.1v1.1h-1.1zM332.4 266.9h1.1v1.1h-1.1zM339.1 272.5h1.1v1.1h-1.1zM334.8 290.2h1.1v1.1h-1.1zM324.4 273.2h1.1v1.1h-1.1zM333.6 285.9h1.1v1.1h-1.1zM336.7 299.1h1.1v1.1h-1.1zM338.6 276.7h1.1v1.1h-1.1zM338.2 287.4h1.1v1.1h-1.1zM337.3 288.2h1.1v1.1h-1.1zM327.0 239.7h1.1v1.1h-1.1zM343.4 249.5h1.1v1.1h-1.1zM337.7 286.3h1.1v1.1h-1.1zM342.0 248.1h1.1v1.1h-1.1zM328.8 230.5h1.1v1.1h-1.1zM338.9 261.0h1.1v1.1h-1.1zM326.7 230.3h1.1v1.1h-1.1zM337.7 283.0h1.1v1.1h-1.1zM333.0 265.1h1.1v1.1h-1.1zM341.6 268.4h1.1v1.1h-1.1zM345.0 229.8h1.1v1.1h-1.1zM332.9 263.8h1.1v1.1h-1.1zM334.3 285.2h1.1v1.1h-1.1zM337.6 285.2h1.1v1.1h-1.1zM337.2 298.3h1.1v1.1h-1.1zM331.4 254.0h1.1v1.1h-1.1zM341.5 284.9h1.1v1.1h-1.1zM338.4 286.3h1.1v1.1h-1.1zM327.9 232.2h1.1v1.1h-1.1zM349.8 221.3h1.1v1.1h-1.1zM338.7 265.3h1.1v1.1h-1.1zM352.8 246.5h1.1v1.1h-1.1zM331.6 243.1h1.1v1.1h-1.1zM328.9 230.8h1.1v1.1h-1.1zM335.0 299.4h1.1v1.1h-1.1zM325.3 232.8h1.1v1.1h-1.1zM327.5 229.9h1.1v1.1h-1.1zM339.5 253.2h1.1v1.1h-1.1zM336.0 295.3h1.1v1.1h-1.1zM339.1 277.2h1.1v1.1h-1.1zM339.4 279.3h1.1v1.1h-1.1zM329.5 235.8h1.1v1.1h-1.1zM318.3 256.9h1.1v1.1h-1.1zM330.1 250.1h1.1v1.1h-1.1zM333.8 269.2h1.1v1.1h-1.1zM343.8 234.2h1.1v1.1h-1.1zM331.7 262.5h1.1v1.1h-1.1zM330.9 240.3h1.1v1.1h-1.1zM335.5 289.1h1.1v1.1h-1.1zM338.5 276.9h1.1v1.1h-1.1zM337.4 287.0h1.1v1.1h-1.1zM331.2 241.8h1.1v1.1h-1.1zM339.6 273.3h1.1v1.1h-1.1zM341.3 237.4h1.1v1.1h-1.1zM339.9 276.8h1.1v1.1h-1.1zM341.5 233.7h1.1v1.1h-1.1zM339.9 251.4h1.1v1.1h-1.1zM340.1 244.6h1.1v1.1h-1.1zM335.9 295.0h1.1v1.1h-1.1zM340.0 270.2h1.1v1.1h-1.1zM338.0 278.2h1.1v1.1h-1.1zM349.7 273.6h1.1v1.1h-1.1zM340.2 248.9h1.1v1.1h-1.1zM337.6 293.6h1.1v1.1h-1.1zM330.7 264.9h1.1v1.1h-1.1zM334.3 288.4h1.1v1.1h-1.1zM332.7 259.6h1.1v1.1h-1.1zM332.0 290.9h1.1v1.1h-1.1zM332.2 274.8h1.1v1.1h-1.1zM347.7 223.1h1.1v1.1h-1.1zM331.2 244.7h1.1v1.1h-1.1zM331.5 251.6h1.1v1.1h-1.1zM332.1 284.4h1.1v1.1h-1.1zM335.2 289.4h1.1v1.1h-1.1zM333.1 282.1h1.1v1.1h-1.1zM339.0 272.8h1.1v1.1h-1.1zM339.6 290.9h1.1v1.1h-1.1zM340.9 266.2h1.1v1.1h-1.1zM343.3 238.6h1.1v1.1h-1.1zM339.4 265.4h1.1v1.1h-1.1zM326.7 234.4h1.1v1.1h-1.1zM324.1 274.9h1.1v1.1h-1.1zM340.4 246.2h1.1v1.1h-1.1zM335.4 296.8h1.1v1.1h-1.1zM332.7 274.2h1.1v1.1h-1.1zM335.1 287.9h1.1v1.1h-1.1zM326.2 268.1h1.1v1.1h-1.1zM341.9 255.3h1.1v1.1h-1.1zM340.1 264.9h1.1v1.1h-1.1zM341.9 237.0h1.1v1.1h-1.1zM333.5 265.2h1.1v1.1h-1.1zM342.1 247.5h1.1v1.1h-1.1zM335.9 298.1h1.1v1.1h-1.1zM334.2 283.3h1.1v1.1h-1.1zM339.1 268.6h1.1v1.1h-1.1zM332.1 266.8h1.1v1.1h-1.1zM338.3 282.9h1.1v1.1h-1.1zM345.0 267.0h1.1v1.1h-1.1zM353.6 220.5h1.1v1.1h-1.1zM334.7 290.5h1.1v1.1h-1.1zM339.8 290.8h1.1v1.1h-1.1zM329.9 239.3h1.1v1.1h-1.1zM338.9 289.6h1.1v1.1h-1.1zM337.9 287.1h1.1v1.1h-1.1zM332.9 259.5h1.1v1.1h-1.1zM332.2 266.8h1.1v1.1h-1.1zM335.0 293.0h1.1v1.1h-1.1zM340.4 244.6h1.1v1.1h-1.1zM339.9 262.7h1.1v1.1h-1.1zM337.4 293.1h1.1v1.1h-1.1zM335.0 296.2h1.1v1.1h-1.1zM339.4 264.6h1.1v1.1h-1.1zM325.2 219.4h1.1v1.1h-1.1zM339.5 250.3h1.1v1.1h-1.1zM337.2 297.9h1.1v1.1h-1.1zM327.6 225.6h1.1v1.1h-1.1zM334.6 281.2h1.1v1.1h-1.1zM329.4 250.2h1.1v1.1h-1.1zM338.5 267.2h1.1v1.1h-1.1zM331.4 271.1h1.1v1.1h-1.1zM338.3 270.0h1.1v1.1h-1.1zM338.6 278.5h1.1v1.1h-1.1zM347.8 218.4h1.1v1.1h-1.1zM342.7 241.5h1.1v1.1h-1.1zM334.8 286.8h1.1v1.1h-1.1zM339.6 264.6h1.1v1.1h-1.1zM335.9 292.2h1.1v1.1h-1.1zM330.4 250.0h1.1v1.1h-1.1zM333.0 269.3h1.1v1.1h-1.1zM347.2 222.0h1.1v1.1h-1.1zM331.6 264.9h1.1v1.1h-1.1zM331.5 252.7h1.1v1.1h-1.1zM349.3 218.8h1.1v1.1h-1.1zM332.9 266.1h1.1v1.1h-1.1zM330.8 289.7h1.1v1.1h-1.1zM338.6 273.9h1.1v1.1h-1.1zM326.8 281.6h1.1v1.1h-1.1zM335.0 283.1h1.1v1.1h-1.1zM335.2 292.5h1.1v1.1h-1.1zM334.9 288.1h1.1v1.1h-1.1zM347.1 285.2h1.1v1.1h-1.1zM336.8 297.7h1.1v1.1h-1.1zM339.2 284.0h1.1v1.1h-1.1zM328.1 289.3h1.1v1.1h-1.1zM327.6 247.8h1.1v1.1h-1.1zM341.6 289.1h1.1v1.1h-1.1zM340.6 251.5h1.1v1.1h-1.1zM338.6 277.3h1.1v1.1h-1.1zM332.4 255.5h1.1v1.1h-1.1zM356.3 236.3h1.1v1.1h-1.1zM329.7 235.8h1.1v1.1h-1.1zM345.0 298.9h1.1v1.1h-1.1zM335.7 289.5h1.1v1.1h-1.1zM331.0 278.3h1.1v1.1h-1.1zM327.6 248.8h1.1v1.1h-1.1zM333.1 266.8h1.1v1.1h-1.1zM341.0 238.5h1.1v1.1h-1.1zM342.8 294.9h1.1v1.1h-1.1zM339.9 251.7h1.1v1.1h-1.1zM334.9 289.8h1.1v1.1h-1.1zM331.2 248.7h1.1v1.1h-1.1zM343.5 272.1h1.1v1.1h-1.1zM331.1 240.4h1.1v1.1h-1.1zM325.5 234.6h1.1v1.1h-1.1zM324.2 220.4h1.1v1.1h-1.1zM338.6 274.7h1.1v1.1h-1.1zM340.0 252.5h1.1v1.1h-1.1zM340.4 261.7h1.1v1.1h-1.1zM333.6 276.8h1.1v1.1h-1.1zM330.5 240.1h1.1v1.1h-1.1zM329.1 231.8h1.1v1.1h-1.1zM324.3 220.3h1.1v1.1h-1.1zM331.8 261.6h1.1v1.1h-1.1zM338.8 294.2h1.1v1.1h-1.1zM333.6 269.4h1.1v1.1h-1.1zM332.4 263.0h1.1v1.1h-1.1zM335.2 295.6h1.1v1.1h-1.1zM331.0 270.9h1.1v1.1h-1.1zM329.2 240.3h1.1v1.1h-1.1zM339.8 248.1h1.1v1.1h-1.1zM335.1 283.6h1.1v1.1h-1.1zM334.0 273.7h1.1v1.1h-1.1zM339.4 253.6h1.1v1.1h-1.1zM337.6 290.3h1.1v1.1h-1.1zM333.2 285.8h1.1v1.1h-1.1zM337.5 287.2h1.1v1.1h-1.1zM333.9 285.6h1.1v1.1h-1.1zM334.6 282.4h1.1v1.1h-1.1zM344.3 268.7h1.1v1.1h-1.1zM338.0 283.4h1.1v1.1h-1.1zM331.2 276.9h1.1v1.1h-1.1zM342.0 235.0h1.1v1.1h-1.1zM324.7 223.7h1.1v1.1h-1.1zM339.5 272.8h1.1v1.1h-1.1zM332.0 277.9h1.1v1.1h-1.1zM333.0 256.0h1.1v1.1h-1.1zM343.3 268.7h1.1v1.1h-1.1zM347.7 288.4h1.1v1.1h-1.1zM335.0 290.9h1.1v1.1h-1.1zM326.2 225.1h1.1v1.1h-1.1zM348.1 218.2h1.1v1.1h-1.1zM329.2 252.3h1.1v1.1h-1.1zM321.3 220.4h1.1v1.1h-1.1zM338.9 263.9h1.1v1.1h-1.1zM333.3 293.4h1.1v1.1h-1.1zM329.5 285.1h1.1v1.1h-1.1zM335.0 287.7h1.1v1.1h-1.1zM336.4 298.1h1.1v1.1h-1.1zM329.5 238.2h1.1v1.1h-1.1zM351.4 252.7h1.1v1.1h-1.1zM337.5 295.5h1.1v1.1h-1.1zM335.5 294.5h1.1v1.1h-1.1zM343.9 237.5h1.1v1.1h-1.1zM332.4 258.8h1.1v1.1h-1.1zM330.4 289.9h1.1v1.1h-1.1zM338.5 281.4h1.1v1.1h-1.1zM334.5 275.7h1.1v1.1h-1.1zM342.8 229.6h1.1v1.1h-1.1zM337.5 288.6h1.1v1.1h-1.1zM339.5 265.3h1.1v1.1h-1.1zM338.8 286.5h1.1v1.1h-1.1zM337.9 297.5h1.1v1.1h-1.1zM339.3 284.1h1.1v1.1h-1.1zM341.6 270.7h1.1v1.1h-1.1zM349.8 292.5h1.1v1.1h-1.1zM335.2 298.8h1.1v1.1h-1.1zM343.4 251.9h1.1v1.1h-1.1zM339.0 263.1h1.1v1.1h-1.1zM339.2 269.4h1.1v1.1h-1.1zM339.0 261.3h1.1v1.1h-1.1zM345.8 229.6h1.1v1.1h-1.1zM332.8 269.1h1.1v1.1h-1.1zM343.6 238.9h1.1v1.1h-1.1zM341.5 235.1h1.1v1.1h-1.1zM338.4 269.2h1.1v1.1h-1.1zM333.3 268.2h1.1v1.1h-1.1zM329.7 293.4h1.1v1.1h-1.1zM325.7 289.0h1.1v1.1h-1.1zM341.8 239.1h1.1v1.1h-1.1zM314.8 220.0h1.1v1.1h-1.1zM335.3 287.9h1.1v1.1h-1.1zM330.2 241.2h1.1v1.1h-1.1zM337.7 291.8h1.1v1.1h-1.1zM330.6 257.5h1.1v1.1h-1.1zM339.4 298.3h1.1v1.1h-1.1zM330.7 241.5h1.1v1.1h-1.1zM338.7 291.9h1.1v1.1h-1.1zM340.7 251.8h1.1v1.1h-1.1zM337.5 290.7h1.1v1.1h-1.1zM335.6 290.2h1.1v1.1h-1.1zM332.4 251.5h1.1v1.1h-1.1zM337.1 296.0h1.1v1.1h-1.1zM332.7 261.0h1.1v1.1h-1.1zM337.7 283.3h1.1v1.1h-1.1zM333.0 267.7h1.1v1.1h-1.1zM335.4 299.4h1.1v1.1h-1.1zM333.3 277.1h1.1v1.1h-1.1zM348.1 257.1h1.1v1.1h-1.1zM341.5 261.4h1.1v1.1h-1.1zM331.5 264.3h1.1v1.1h-1.1zM342.6 269.3h1.1v1.1h-1.1zM328.0 271.6h1.1v1.1h-1.1zM339.6 270.5h1.1v1.1h-1.1zM333.3 262.3h1.1v1.1h-1.1zM343.2 237.1h1.1v1.1h-1.1zM343.6 244.0h1.1v1.1h-1.1zM336.9 299.4h1.1v1.1h-1.1zM350.7 276.6h1.1v1.1h-1.1zM321.5 231.1h1.1v1.1h-1.1zM326.1 226.9h1.1v1.1h-1.1zM330.0 238.1h1.1v1.1h-1.1zM323.2 275.3h1.1v1.1h-1.1zM329.8 255.3h1.1v1.1h-1.1zM337.6 290.9h1.1v1.1h-1.1zM341.7 244.3h1.1v1.1h-1.1zM323.2 220.9h1.1v1.1h-1.1zM326.0 221.9h1.1v1.1h-1.1zM337.4 298.6h1.1v1.1h-1.1zM332.2 258.6h1.1v1.1h-1.1zM328.9 245.3h1.1v1.1h-1.1zM348.9 224.8h1.1v1.1h-1.1zM337.2 292.9h1.1v1.1h-1.1zM332.6 255.6h1.1v1.1h-1.1zM351.0 268.0h1.1v1.1h-1.1zM328.1 240.5h1.1v1.1h-1.1zM338.8 267.3h1.1v1.1h-1.1zM346.6 277.0h1.1v1.1h-1.1zM323.9 225.8h1.1v1.1h-1.1zM333.1 257.8h1.1v1.1h-1.1zM340.8 254.5h1.1v1.1h-1.1zM324.7 267.3h1.1v1.1h-1.1zM327.4 226.7h1.1v1.1h-1.1zM340.5 267.1h1.1v1.1h-1.1zM338.8 279.4h1.1v1.1h-1.1zM334.2 293.1h1.1v1.1h-1.1zM343.2 263.3h1.1v1.1h-1.1zM341.0 275.2h1.1v1.1h-1.1zM335.7 297.2h1.1v1.1h-1.1zM333.2 293.3h1.1v1.1h-1.1zM325.1 228.9h1.1v1.1h-1.1zM332.8 269.7h1.1v1.1h-1.1zM344.3 289.9h1.1v1.1h-1.1zM323.6 218.0h1.1v1.1h-1.1zM337.6 284.7h1.1v1.1h-1.1zM334.9 281.5h1.1v1.1h-1.1zM335.5 296.3h1.1v1.1h-1.1zM334.2 277.9h1.1v1.1h-1.1zM332.4 297.3h1.1v1.1h-1.1zM338.8 269.7h1.1v1.1h-1.1zM327.6 228.2h1.1v1.1h-1.1zM334.0 268.3h1.1v1.1h-1.1zM333.9 286.3h1.1v1.1h-1.1zM330.5 239.9h1.1v1.1h-1.1zM333.3 290.9h1.1v1.1h-1.1zM339.2 270.3h1.1v1.1h-1.1zM347.3 223.5h1.1v1.1h-1.1zM339.8 264.0h1.1v1.1h-1.1zM330.1 240.3h1.1v1.1h-1.1zM339.3 290.9h1.1v1.1h-1.1zM340.1 249.8h1.1v1.1h-1.1zM332.3 263.0h1.1v1.1h-1.1zM338.6 266.2h1.1v1.1h-1.1zM347.5 299.1h1.1v1.1h-1.1zM343.5 283.2h1.1v1.1h-1.1zM327.2 233.9h1.1v1.1h-1.1zM338.8 281.6h1.1v1.1h-1.1zM338.3 272.0h1.1v1.1h-1.1zM332.7 257.2h1.1v1.1h-1.1zM343.1 231.3h1.1v1.1h-1.1zM328.3 260.8h1.1v1.1h-1.1zM334.8 289.4h1.1v1.1h-1.1zM337.0 298.1h1.1v1.1h-1.1zM338.2 297.0h1.1v1.1h-1.1zM334.8 294.4h1.1v1.1h-1.1zM332.8 259.5h1.1v1.1h-1.1zM339.7 246.3h1.1v1.1h-1.1zM321.0 289.3h1.1v1.1h-1.1zM338.2 288.0h1.1v1.1h-1.1zM327.2 278.5h1.1v1.1h-1.1zM333.9 269.9h1.1v1.1h-1.1zM334.4 287.7h1.1v1.1h-1.1zM338.0 280.6h1.1v1.1h-1.1zM340.2 243.0h1.1v1.1h-1.1zM344.0 240.6h1.1v1.1h-1.1zM338.7 295.8h1.1v1.1h-1.1zM331.6 291.2h1.1v1.1h-1.1zM324.9 219.0h1.1v1.1h-1.1zM331.3 264.7h1.1v1.1h-1.1zM339.7 277.2h1.1v1.1h-1.1zM324.4 226.8h1.1v1.1h-1.1zM332.7 278.2h1.1v1.1h-1.1zM341.4 258.7h1.1v1.1h-1.1zM331.2 262.5h1.1v1.1h-1.1zM333.8 267.3h1.1v1.1h-1.1zM333.6 269.3h1.1v1.1h-1.1zM335.0 288.7h1.1v1.1h-1.1zM330.1 246.6h1.1v1.1h-1.1zM337.8 289.3h1.1v1.1h-1.1zM333.3 277.9h1.1v1.1h-1.1zM338.8 272.4h1.1v1.1h-1.1zM337.7 293.2h1.1v1.1h-1.1zM339.1 271.4h1.1v1.1h-1.1zM334.0 285.5h1.1v1.1h-1.1zM330.9 240.8h1.1v1.1h-1.1zM340.6 250.8h1.1v1.1h-1.1zM334.8 285.4h1.1v1.1h-1.1zM328.6 235.6h1.1v1.1h-1.1zM337.7 295.1h1.1v1.1h-1.1zM339.3 286.3h1.1v1.1h-1.1zM332.8 266.0h1.1v1.1h-1.1zM341.6 280.3h1.1v1.1h-1.1zM330.2 241.3h1.1v1.1h-1.1zM335.1 298.1h1.1v1.1h-1.1zM333.1 263.5h1.1v1.1h-1.1zM338.4 279.4h1.1v1.1h-1.1zM339.6 253.6h1.1v1.1h-1.1zM349.0 260.9h1.1v1.1h-1.1zM334.8 285.9h1.1v1.1h-1.1zM338.1 289.8h1.1v1.1h-1.1zM317.7 242.9h1.1v1.1h-1.1zM334.2 290.5h1.1v1.1h-1.1zM325.9 249.4h1.1v1.1h-1.1zM334.1 274.4h1.1v1.1h-1.1zM332.3 257.2h1.1v1.1h-1.1zM342.5 244.4h1.1v1.1h-1.1zM326.3 279.0h1.1v1.1h-1.1zM334.7 284.8h1.1v1.1h-1.1zM333.5 281.3h1.1v1.1h-1.1zM318.5 241.8h1.1v1.1h-1.1zM335.8 292.1h1.1v1.1h-1.1zM332.3 251.4h1.1v1.1h-1.1zM340.1 243.7h1.1v1.1h-1.1zM338.9 284.4h1.1v1.1h-1.1zM322.1 219.1h1.1v1.1h-1.1zM335.4 291.3h1.1v1.1h-1.1zM335.9 292.8h1.1v1.1h-1.1zM325.3 220.7h1.1v1.1h-1.1zM342.3 262.1h1.1v1.1h-1.1zM344.1 284.7h1.1v1.1h-1.1zM348.7 218.9h1.1v1.1h-1.1zM339.4 275.6h1.1v1.1h-1.1zM339.1 260.9h1.1v1.1h-1.1zM341.0 248.4h1.1v1.1h-1.1zM339.4 280.1h1.1v1.1h-1.1zM331.3 242.9h1.1v1.1h-1.1zM335.4 294.7h1.1v1.1h-1.1zM338.6 271.3h1.1v1.1h-1.1zM335.6 297.2h1.1v1.1h-1.1zM335.0 282.8h1.1v1.1h-1.1zM339.2 266.4h1.1v1.1h-1.1zM325.3 219.7h1.1v1.1h-1.1zM338.6 269.3h1.1v1.1h-1.1zM337.1 299.4h1.1v1.1h-1.1zM341.1 246.1h1.1v1.1h-1.1zM333.1 282.9h1.1v1.1h-1.1zM331.9 259.5h1.1v1.1h-1.1zM332.3 281.8h1.1v1.1h-1.1zM339.1 276.6h1.1v1.1h-1.1zM331.1 256.9h1.1v1.1h-1.1zM338.1 293.3h1.1v1.1h-1.1zM339.7 248.1h1.1v1.1h-1.1zM340.1 279.5h1.1v1.1h-1.1zM339.7 265.2h1.1v1.1h-1.1zM328.0 253.5h1.1v1.1h-1.1zM340.9 246.7h1.1v1.1h-1.1zM340.0 253.0h1.1v1.1h-1.1zM322.7 262.5h1.1v1.1h-1.1zM339.4 287.0h1.1v1.1h-1.1zM343.0 232.9h1.1v1.1h-1.1zM330.5 265.5h1.1v1.1h-1.1zM330.0 255.5h1.1v1.1h-1.1zM341.0 239.6h1.1v1.1h-1.1zM329.6 248.7h1.1v1.1h-1.1zM330.8 244.2h1.1v1.1h-1.1zM335.3 285.8h1.1v1.1h-1.1zM335.8 296.0h1.1v1.1h-1.1zM333.8 275.0h1.1v1.1h-1.1zM337.2 298.8h1.1v1.1h-1.1zM339.8 250.2h1.1v1.1h-1.1zM335.6 290.4h1.1v1.1h-1.1zM342.4 242.4h1.1v1.1h-1.1zM332.6 273.8h1.1v1.1h-1.1zM328.8 248.0h1.1v1.1h-1.1zM335.2 285.2h1.1v1.1h-1.1zM334.3 275.1h1.1v1.1h-1.1zM332.3 251.2h1.1v1.1h-1.1zM343.7 228.2h1.1v1.1h-1.1zM333.0 262.6h1.1v1.1h-1.1zM352.8 259.3h1.1v1.1h-1.1zM332.2 257.5h1.1v1.1h-1.1zM337.9 292.5h1.1v1.1h-1.1zM339.4 281.3h1.1v1.1h-1.1zM333.8 273.5h1.1v1.1h-1.1zM335.0 290.7h1.1v1.1h-1.1zM332.8 280.6h1.1v1.1h-1.1zM344.8 272.6h1.1v1.1h-1.1zM342.7 245.9h1.1v1.1h-1.1zM338.2 287.4h1.1v1.1h-1.1zM339.0 287.7h1.1v1.1h-1.1zM339.2 256.5h1.1v1.1h-1.1zM331.4 282.3h1.1v1.1h-1.1zM334.3 293.1h1.1v1.1h-1.1zM339.2 268.3h1.1v1.1h-1.1zM332.7 266.1h1.1v1.1h-1.1zM345.6 271.5h1.1v1.1h-1.1zM330.7 239.2h1.1v1.1h-1.1zM338.3 289.7h1.1v1.1h-1.1zM337.9 291.6h1.1v1.1h-1.1zM338.3 294.5h1.1v1.1h-1.1zM341.6 235.8h1.1v1.1h-1.1zM326.4 224.5h1.1v1.1h-1.1zM334.3 285.5h1.1v1.1h-1.1zM337.4 295.9h1.1v1.1h-1.1zM315.1 225.5h1.1v1.1h-1.1zM334.7 297.0h1.1v1.1h-1.1zM337.4 291.5h1.1v1.1h-1.1zM330.8 260.7h1.1v1.1h-1.1zM334.0 297.9h1.1v1.1h-1.1zM329.9 255.4h1.1v1.1h-1.1zM339.1 288.1h1.1v1.1h-1.1zM321.9 258.2h1.1v1.1h-1.1zM338.4 269.1h1.1v1.1h-1.1zM335.0 297.4h1.1v1.1h-1.1zM331.6 276.1h1.1v1.1h-1.1zM351.6 243.9h1.1v1.1h-1.1zM328.3 277.8h1.1v1.1h-1.1zM339.6 247.9h1.1v1.1h-1.1zM327.3 254.4h1.1v1.1h-1.1zM328.9 238.2h1.1v1.1h-1.1zM342.4 248.1h1.1v1.1h-1.1zM328.9 245.0h1.1v1.1h-1.1zM339.2 267.3h1.1v1.1h-1.1zM332.2 287.8h1.1v1.1h-1.1zM335.0 285.8h1.1v1.1h-1.1zM333.4 286.9h1.1v1.1h-1.1zM326.9 232.7h1.1v1.1h-1.1zM331.9 252.9h1.1v1.1h-1.1zM341.3 245.5h1.1v1.1h-1.1zM341.6 244.7h1.1v1.1h-1.1zM345.7 225.5h1.1v1.1h-1.1zM335.6 294.8h1.1v1.1h-1.1zM333.8 287.3h1.1v1.1h-1.1zM329.6 241.7h1.1v1.1h-1.1zM335.8 295.2h1.1v1.1h-1.1zM333.5 295.8h1.1v1.1h-1.1zM334.6 278.6h1.1v1.1h-1.1zM341.0 251.6h1.1v1.1h-1.1zM339.2 297.9h1.1v1.1h-1.1zM334.1 294.5h1.1v1.1h-1.1zM337.9 295.6h1.1v1.1h-1.1zM341.4 253.4h1.1v1.1h-1.1zM348.3 239.8h1.1v1.1h-1.1zM335.5 293.4h1.1v1.1h-1.1zM335.6 289.1h1.1v1.1h-1.1zM335.1 292.0h1.1v1.1h-1.1zM329.9 249.0h1.1v1.1h-1.1zM340.7 253.9h1.1v1.1h-1.1zM334.9 293.3h1.1v1.1h-1.1zM333.0 266.8h1.1v1.1h-1.1zM339.1 276.2h1.1v1.1h-1.1zM339.0 271.1h1.1v1.1h-1.1zM334.3 280.2h1.1v1.1h-1.1zM345.5 229.2h1.1v1.1h-1.1zM334.4 298.5h1.1v1.1h-1.1zM354.5 244.3h1.1v1.1h-1.1zM339.6 257.3h1.1v1.1h-1.1zM337.7 285.4h1.1v1.1h-1.1zM339.8 253.4h1.1v1.1h-1.1zM331.4 259.5h1.1v1.1h-1.1zM334.1 278.4h1.1v1.1h-1.1zM333.6 264.5h1.1v1.1h-1.1zM325.8 268.2h1.1v1.1h-1.1zM331.8 244.2h1.1v1.1h-1.1zM330.6 243.2h1.1v1.1h-1.1zM334.0 270.4h1.1v1.1h-1.1zM332.1 259.0h1.1v1.1h-1.1zM330.4 260.8h1.1v1.1h-1.1zM346.0 241.7h1.1v1.1h-1.1zM334.2 273.1h1.1v1.1h-1.1zM331.8 283.5h1.1v1.1h-1.1zM340.2 255.1h1.1v1.1h-1.1zM334.6 286.4h1.1v1.1h-1.1zM332.9 282.3h1.1v1.1h-1.1zM333.7 273.6h1.1v1.1h-1.1zM339.3 280.6h1.1v1.1h-1.1zM333.8 284.5h1.1v1.1h-1.1zM340.9 260.4h1.1v1.1h-1.1zM339.5 267.4h1.1v1.1h-1.1zM338.6 295.3h1.1v1.1h-1.1zM335.7 298.4h1.1v1.1h-1.1zM339.5 250.1h1.1v1.1h-1.1zM337.3 293.6h1.1v1.1h-1.1zM341.5 253.4h1.1v1.1h-1.1zM334.0 272.9h1.1v1.1h-1.1zM329.4 242.3h1.1v1.1h-1.1zM334.0 286.1h1.1v1.1h-1.1zM338.5 276.5h1.1v1.1h-1.1zM334.6 284.7h1.1v1.1h-1.1zM333.2 273.7h1.1v1.1h-1.1zM329.9 257.3h1.1v1.1h-1.1zM335.6 290.5h1.1v1.1h-1.1zM337.9 283.8h1.1v1.1h-1.1zM337.7 288.6h1.1v1.1h-1.1zM338.0 294.3h1.1v1.1h-1.1zM334.5 281.9h1.1v1.1h-1.1zM322.9 248.5h1.1v1.1h-1.1zM338.0 279.5h1.1v1.1h-1.1zM332.5 270.7h1.1v1.1h-1.1zM326.4 227.3h1.1v1.1h-1.1zM335.6 296.9h1.1v1.1h-1.1zM334.2 277.8h1.1v1.1h-1.1zM332.7 271.7h1.1v1.1h-1.1zM344.5 262.9h1.1v1.1h-1.1zM335.5 295.1h1.1v1.1h-1.1zM333.1 265.8h1.1v1.1h-1.1zM334.2 276.2h1.1v1.1h-1.1zM323.5 239.1h1.1v1.1h-1.1zM338.7 275.0h1.1v1.1h-1.1zM340.5 262.4h1.1v1.1h-1.1zM325.0 223.9h1.1v1.1h-1.1zM338.7 283.4h1.1v1.1h-1.1zM331.2 264.3h1.1v1.1h-1.1zM338.2 293.5h1.1v1.1h-1.1zM339.8 273.6h1.1v1.1h-1.1zM339.3 262.1h1.1v1.1h-1.1zM335.9 295.5h1.1v1.1h-1.1zM333.6 278.7h1.1v1.1h-1.1zM334.4 278.3h1.1v1.1h-1.1zM336.1 294.9h1.1v1.1h-1.1zM327.6 236.8h1.1v1.1h-1.1zM337.9 297.5h1.1v1.1h-1.1zM331.2 252.5h1.1v1.1h-1.1zM338.5 270.0h1.1v1.1h-1.1zM339.7 274.0h1.1v1.1h-1.1zM326.9 237.4h1.1v1.1h-1.1zM334.9 294.3h1.1v1.1h-1.1zM340.8 246.4h1.1v1.1h-1.1zM346.2 281.1h1.1v1.1h-1.1zM350.7 233.9h1.1v1.1h-1.1zM329.1 238.7h1.1v1.1h-1.1zM338.5 274.7h1.1v1.1h-1.1zM349.4 247.8h1.1v1.1h-1.1zM332.4 258.3h1.1v1.1h-1.1zM337.8 294.7h1.1v1.1h-1.1zM330.8 270.2h1.1v1.1h-1.1zM332.0 268.5h1.1v1.1h-1.1zM340.5 278.6h1.1v1.1h-1.1zM333.1 260.2h1.1v1.1h-1.1zM330.3 251.8h1.1v1.1h-1.1zM330.0 272.6h1.1v1.1h-1.1zM334.9 288.9h1.1v1.1h-1.1zM340.7 238.5h1.1v1.1h-1.1zM324.4 275.6h1.1v1.1h-1.1zM340.1 247.4h1.1v1.1h-1.1zM333.5 272.9h1.1v1.1h-1.1zM340.3 266.6h1.1v1.1h-1.1zM340.0 249.4h1.1v1.1h-1.1zM340.1 276.5h1.1v1.1h-1.1zM335.5 299.3h1.1v1.1h-1.1zM338.8 285.2h1.1v1.1h-1.1zM347.6 221.5h1.1v1.1h-1.1zM340.8 291.3h1.1v1.1h-1.1zM340.9 260.5h1.1v1.1h-1.1zM334.9 284.6h1.1v1.1h-1.1zM333.8 267.3h1.1v1.1h-1.1zM344.7 238.6h1.1v1.1h-1.1zM335.7 291.5h1.1v1.1h-1.1zM333.4 277.0h1.1v1.1h-1.1zM339.5 280.1h1.1v1.1h-1.1zM332.1 247.8h1.1v1.1h-1.1zM331.0 244.7h1.1v1.1h-1.1zM331.1 240.5h1.1v1.1h-1.1zM342.6 263.5h1.1v1.1h-1.1zM338.8 298.6h1.1v1.1h-1.1zM334.2 275.5h1.1v1.1h-1.1zM339.1 269.8h1.1v1.1h-1.1zM335.3 288.3h1.1v1.1h-1.1zM333.3 287.7h1.1v1.1h-1.1zM340.7 264.8h1.1v1.1h-1.1zM335.6 293.4h1.1v1.1h-1.1zM333.1 282.2h1.1v1.1h-1.1zM347.9 219.4h1.1v1.1h-1.1zM338.1 291.4h1.1v1.1h-1.1zM343.1 236.7h1.1v1.1h-1.1zM339.4 287.8h1.1v1.1h-1.1zM342.4 233.7h1.1v1.1h-1.1zM321.6 287.5h1.1v1.1h-1.1zM334.4 292.5h1.1v1.1h-1.1zM337.0 296.9h1.1v1.1h-1.1zM352.8 260.1h1.1v1.1h-1.1zM321.6 234.8h1.1v1.1h-1.1zM351.9 236.7h1.1v1.1h-1.1zM328.2 227.9h1.1v1.1h-1.1zM346.4 284.3h1.1v1.1h-1.1zM333.7 265.4h1.1v1.1h-1.1zM341.8 252.7h1.1v1.1h-1.1zM335.1 291.6h1.1v1.1h-1.1zM334.2 297.9h1.1v1.1h-1.1zM334.1 275.0h1.1v1.1h-1.1zM340.5 281.0h1.1v1.1h-1.1zM339.6 280.4h1.1v1.1h-1.1zM323.8 219.3h1.1v1.1h-1.1zM338.6 296.2h1.1v1.1h-1.1zM322.9 225.6h1.1v1.1h-1.1zM328.2 231.0h1.1v1.1h-1.1zM333.3 265.9h1.1v1.1h-1.1zM324.0 273.2h1.1v1.1h-1.1zM333.3 280.2h1.1v1.1h-1.1zM330.3 261.0h1.1v1.1h-1.1zM335.3 289.8h1.1v1.1h-1.1zM334.4 288.9h1.1v1.1h-1.1zM337.6 285.6h1.1v1.1h-1.1zM334.1 283.5h1.1v1.1h-1.1zM338.5 270.6h1.1v1.1h-1.1zM322.6 287.8h1.1v1.1h-1.1zM334.3 282.3h1.1v1.1h-1.1zM335.6 297.1h1.1v1.1h-1.1zM349.7 238.4h1.1v1.1h-1.1zM332.2 258.9h1.1v1.1h-1.1zM340.9 237.9h1.1v1.1h-1.1zM339.1 260.2h1.1v1.1h-1.1zM338.3 290.3h1.1v1.1h-1.1zM337.7 287.2h1.1v1.1h-1.1zM327.8 242.2h1.1v1.1h-1.1zM340.7 286.3h1.1v1.1h-1.1zM335.4 296.5h1.1v1.1h-1.1zM343.5 264.3h1.1v1.1h-1.1zM336.2 298.3h1.1v1.1h-1.1zM340.8 246.1h1.1v1.1h-1.1zM337.4 299.3h1.1v1.1h-1.1zM315.4 222.2h1.1v1.1h-1.1zM328.0 265.4h1.1v1.1h-1.1zM339.9 247.4h1.1v1.1h-1.1zM329.7 246.3h1.1v1.1h-1.1zM338.0 286.4h1.1v1.1h-1.1zM335.0 293.7h1.1v1.1h-1.1zM328.2 227.2h1.1v1.1h-1.1zM339.6 247.7h1.1v1.1h-1.1zM337.4 292.3h1.1v1.1h-1.1zM331.9 258.4h1.1v1.1h-1.1zM341.5 239.3h1.1v1.1h-1.1zM339.8 250.0h1.1v1.1h-1.1zM340.1 243.1h1.1v1.1h-1.1zM339.5 273.4h1.1v1.1h-1.1zM337.9 280.1h1.1v1.1h-1.1zM333.0 263.3h1.1v1.1h-1.1zM335.3 290.6h1.1v1.1h-1.1zM332.1 289.4h1.1v1.1h-1.1zM343.5 231.8h1.1v1.1h-1.1zM331.9 263.7h1.1v1.1h-1.1zM332.6 268.5h1.1v1.1h-1.1zM333.4 297.4h1.1v1.1h-1.1zM334.7 290.0h1.1v1.1h-1.1zM329.9 242.1h1.1v1.1h-1.1zM341.2 249.7h1.1v1.1h-1.1zM341.4 250.3h1.1v1.1h-1.1zM339.8 265.9h1.1v1.1h-1.1zM341.4 238.1h1.1v1.1h-1.1zM331.4 288.0h1.1v1.1h-1.1zM333.6 264.1h1.1v1.1h-1.1zM331.9 247.8h1.1v1.1h-1.1zM339.5 265.8h1.1v1.1h-1.1zM341.1 241.9h1.1v1.1h-1.1zM335.3 293.9h1.1v1.1h-1.1zM329.8 262.2h1.1v1.1h-1.1zM333.6 271.8h1.1v1.1h-1.1zM334.6 298.8h1.1v1.1h-1.1zM337.3 289.3h1.1v1.1h-1.1zM332.5 267.6h1.1v1.1h-1.1zM338.2 286.1h1.1v1.1h-1.1zM337.6 283.5h1.1v1.1h-1.1zM332.7 291.9h1.1v1.1h-1.1zM331.6 258.9h1.1v1.1h-1.1zM336.1 295.4h1.1v1.1h-1.1zM345.4 223.4h1.1v1.1h-1.1zM338.9 272.1h1.1v1.1h-1.1zM328.9 265.0h1.1v1.1h-1.1zM331.6 242.1h1.1v1.1h-1.1zM333.7 283.4h1.1v1.1h-1.1zM333.1 257.7h1.1v1.1h-1.1zM332.0 258.2h1.1v1.1h-1.1zM340.6 267.6h1.1v1.1h-1.1zM325.3 272.5h1.1v1.1h-1.1zM333.5 269.4h1.1v1.1h-1.1zM334.6 278.3h1.1v1.1h-1.1zM324.0 218.8h1.1v1.1h-1.1zM319.0 245.2h1.1v1.1h-1.1zM330.0 297.7h1.1v1.1h-1.1zM341.4 244.9h1.1v1.1h-1.1zM330.2 251.4h1.1v1.1h-1.1zM346.0 225.7h1.1v1.1h-1.1zM321.5 258.7h1.1v1.1h-1.1zM332.5 252.4h1.1v1.1h-1.1zM340.6 264.1h1.1v1.1h-1.1zM332.2 257.5h1.1v1.1h-1.1zM335.3 296.7h1.1v1.1h-1.1zM328.2 245.7h1.1v1.1h-1.1zM337.9 289.5h1.1v1.1h-1.1zM337.7 298.5h1.1v1.1h-1.1zM336.1 299.0h1.1v1.1h-1.1zM332.7 252.5h1.1v1.1h-1.1zM331.5 247.8h1.1v1.1h-1.1zM338.1 297.4h1.1v1.1h-1.1zM328.4 264.6h1.1v1.1h-1.1zM335.8 294.1h1.1v1.1h-1.1zM340.6 253.8h1.1v1.1h-1.1zM339.9 280.3h1.1v1.1h-1.1zM335.6 297.2h1.1v1.1h-1.1zM330.0 252.2h1.1v1.1h-1.1zM335.8 295.6h1.1v1.1h-1.1zM338.5 275.8h1.1v1.1h-1.1zM338.6 290.5h1.1v1.1h-1.1zM338.1 274.3h1.1v1.1h-1.1zM334.4 297.5h1.1v1.1h-1.1zM346.4 227.8h1.1v1.1h-1.1zM331.8 264.8h1.1v1.1h-1.1zM338.8 286.7h1.1v1.1h-1.1zM335.4 288.8h1.1v1.1h-1.1zM343.3 234.1h1.1v1.1h-1.1zM328.3 245.0h1.1v1.1h-1.1zM341.1 245.3h1.1v1.1h-1.1zM338.1 277.0h1.1v1.1h-1.1zM335.1 291.7h1.1v1.1h-1.1zM323.5 261.8h1.1v1.1h-1.1zM349.6 258.2h1.1v1.1h-1.1zM339.3 271.7h1.1v1.1h-1.1zM331.6 244.3h1.1v1.1h-1.1zM334.3 271.6h1.1v1.1h-1.1zM337.0 294.2h1.1v1.1h-1.1zM335.5 288.8h1.1v1.1h-1.1zM332.3 248.7h1.1v1.1h-1.1zM341.7 243.4h1.1v1.1h-1.1zM324.6 220.9h1.1v1.1h-1.1zM336.4 298.3h1.1v1.1h-1.1zM335.8 297.7h1.1v1.1h-1.1zM337.0 296.8h1.1v1.1h-1.1zM334.4 288.5h1.1v1.1h-1.1zM325.7 259.7h1.1v1.1h-1.1zM341.7 238.6h1.1v1.1h-1.1zM328.0 232.4h1.1v1.1h-1.1zM337.2 295.0h1.1v1.1h-1.1zM331.7 260.3h1.1v1.1h-1.1zM339.3 267.8h1.1v1.1h-1.1zM324.0 227.9h1.1v1.1h-1.1zM329.5 246.1h1.1v1.1h-1.1zM333.6 265.5h1.1v1.1h-1.1zM340.6 263.8h1.1v1.1h-1.1zM335.5 289.2h1.1v1.1h-1.1zM337.2 296.7h1.1v1.1h-1.1zM327.2 227.5h1.1v1.1h-1.1zM334.0 279.6h1.1v1.1h-1.1zM343.2 228.6h1.1v1.1h-1.1zM334.1 291.9h1.1v1.1h-1.1zM338.7 286.0h1.1v1.1h-1.1zM340.5 262.8h1.1v1.1h-1.1zM333.8 278.2h1.1v1.1h-1.1zM339.8 266.7h1.1v1.1h-1.1zM345.7 222.4h1.1v1.1h-1.1zM334.1 282.3h1.1v1.1h-1.1zM330.7 283.9h1.1v1.1h-1.1zM323.6 249.6h1.1v1.1h-1.1zM339.9 295.9h1.1v1.1h-1.1zM342.5 254.6h1.1v1.1h-1.1zM326.5 230.2h1.1v1.1h-1.1zM337.9 295.9h1.1v1.1h-1.1zM345.5 239.3h1.1v1.1h-1.1zM334.6 281.2h1.1v1.1h-1.1zM339.4 272.0h1.1v1.1h-1.1zM345.2 240.0h1.1v1.1h-1.1zM338.3 287.1h1.1v1.1h-1.1zM336.1 295.8h1.1v1.1h-1.1zM336.0 299.4h1.1v1.1h-1.1zM335.1 288.9h1.1v1.1h-1.1zM332.4 259.7h1.1v1.1h-1.1zM332.1 253.2h1.1v1.1h-1.1zM329.4 286.5h1.1v1.1h-1.1zM335.2 289.9h1.1v1.1h-1.1zM339.2 282.4h1.1v1.1h-1.1zM341.7 280.2h1.1v1.1h-1.1zM341.0 250.3h1.1v1.1h-1.1zM338.0 294.8h1.1v1.1h-1.1zM337.5 295.1h1.1v1.1h-1.1zM339.6 282.4h1.1v1.1h-1.1zM339.5 252.7h1.1v1.1h-1.1zM349.0 218.8h1.1v1.1h-1.1zM331.4 269.7h1.1v1.1h-1.1zM342.4 270.7h1.1v1.1h-1.1zM335.3 296.1h1.1v1.1h-1.1zM336.1 294.0h1.1v1.1h-1.1zM338.9 286.7h1.1v1.1h-1.1zM332.4 290.3h1.1v1.1h-1.1zM342.6 247.5h1.1v1.1h-1.1zM335.6 294.2h1.1v1.1h-1.1zM338.1 285.6h1.1v1.1h-1.1zM342.4 273.5h1.1v1.1h-1.1zM328.2 240.4h1.1v1.1h-1.1zM337.5 285.4h1.1v1.1h-1.1zM334.9 287.9h1.1v1.1h-1.1zM339.2 293.7h1.1v1.1h-1.1zM332.9 266.8h1.1v1.1h-1.1zM338.1 293.1h1.1v1.1h-1.1zM338.3 280.4h1.1v1.1h-1.1zM333.1 288.6h1.1v1.1h-1.1zM327.0 226.2h1.1v1.1h-1.1zM341.3 263.7h1.1v1.1h-1.1zM334.5 286.4h1.1v1.1h-1.1zM339.8 282.1h1.1v1.1h-1.1zM339.7 251.5h1.1v1.1h-1.1zM338.7 279.5h1.1v1.1h-1.1zM340.4 270.6h1.1v1.1h-1.1zM342.1 261.0h1.1v1.1h-1.1zM337.4 291.9h1.1v1.1h-1.1zM337.6 293.6h1.1v1.1h-1.1zM342.0 241.7h1.1v1.1h-1.1zM331.9 248.0h1.1v1.1h-1.1zM345.8 219.7h1.1v1.1h-1.1zM333.8 277.6h1.1v1.1h-1.1zM331.7 271.4h1.1v1.1h-1.1zM327.6 232.9h1.1v1.1h-1.1zM335.3 299.0h1.1v1.1h-1.1zM347.5 219.0h1.1v1.1h-1.1zM335.2 296.7h1.1v1.1h-1.1zM337.4 291.6h1.1v1.1h-1.1zM334.0 288.5h1.1v1.1h-1.1zM332.5 255.3h1.1v1.1h-1.1zM340.2 251.0h1.1v1.1h-1.1zM332.5 263.7h1.1v1.1h-1.1zM339.7 276.9h1.1v1.1h-1.1zM331.7 269.4h1.1v1.1h-1.1zM331.8 257.2h1.1v1.1h-1.1zM342.2 280.6h1.1v1.1h-1.1zM335.7 294.7h1.1v1.1h-1.1zM332.9 293.7h1.1v1.1h-1.1zM337.8 290.3h1.1v1.1h-1.1zM338.7 287.5h1.1v1.1h-1.1zM337.7 283.3h1.1v1.1h-1.1zM334.0 271.4h1.1v1.1h-1.1zM332.3 263.1h1.1v1.1h-1.1zM340.0 280.9h1.1v1.1h-1.1zM329.3 235.3h1.1v1.1h-1.1zM337.9 297.4h1.1v1.1h-1.1zM336.4 298.5h1.1v1.1h-1.1zM341.2 248.6h1.1v1.1h-1.1zM339.6 258.1h1.1v1.1h-1.1zM333.0 258.3h1.1v1.1h-1.1zM334.4 273.0h1.1v1.1h-1.1zM346.6 264.5h1.1v1.1h-1.1zM334.7 287.1h1.1v1.1h-1.1zM326.1 231.3h1.1v1.1h-1.1zM339.8 258.5h1.1v1.1h-1.1zM341.0 278.8h1.1v1.1h-1.1zM334.5 288.4h1.1v1.1h-1.1zM359.0 220.7h1.1v1.1h-1.1zM323.4 239.2h1.1v1.1h-1.1zM335.6 292.0h1.1v1.1h-1.1zM336.2 298.7h1.1v1.1h-1.1zM339.2 270.6h1.1v1.1h-1.1zM338.5 268.6h1.1v1.1h-1.1zM331.0 260.7h1.1v1.1h-1.1zM337.2 295.7h1.1v1.1h-1.1zM320.3 269.6h1.1v1.1h-1.1zM326.0 295.3h1.1v1.1h-1.1zM338.0 275.3h1.1v1.1h-1.1zM339.5 260.2h1.1v1.1h-1.1zM340.6 258.1h1.1v1.1h-1.1zM337.0 296.9h1.1v1.1h-1.1zM337.3 295.9h1.1v1.1h-1.1zM335.9 295.8h1.1v1.1h-1.1zM339.7 270.8h1.1v1.1h-1.1zM333.8 279.4h1.1v1.1h-1.1zM331.4 248.1h1.1v1.1h-1.1zM327.7 262.7h1.1v1.1h-1.1zM333.5 272.3h1.1v1.1h-1.1zM333.2 272.2h1.1v1.1h-1.1zM335.8 297.3h1.1v1.1h-1.1zM337.3 293.5h1.1v1.1h-1.1zM338.1 284.7h1.1v1.1h-1.1zM330.2 260.7h1.1v1.1h-1.1zM335.7 298.7h1.1v1.1h-1.1zM331.5 266.9h1.1v1.1h-1.1zM342.6 270.3h1.1v1.1h-1.1zM330.5 257.6h1.1v1.1h-1.1zM338.2 290.4h1.1v1.1h-1.1zM322.7 237.0h1.1v1.1h-1.1zM338.3 280.0h1.1v1.1h-1.1zM327.1 239.0h1.1v1.1h-1.1zM339.5 292.8h1.1v1.1h-1.1zM337.9 278.2h1.1v1.1h-1.1zM340.5 257.3h1.1v1.1h-1.1zM338.7 263.4h1.1v1.1h-1.1zM335.7 297.6h1.1v1.1h-1.1zM331.1 273.7h1.1v1.1h-1.1zM332.8 271.9h1.1v1.1h-1.1zM335.3 298.9h1.1v1.1h-1.1zM339.4 258.6h1.1v1.1h-1.1zM322.1 291.5h1.1v1.1h-1.1zM339.9 261.1h1.1v1.1h-1.1zM339.3 258.0h1.1v1.1h-1.1zM343.8 239.8h1.1v1.1h-1.1zM334.4 282.7h1.1v1.1h-1.1zM349.0 220.8h1.1v1.1h-1.1zM328.9 230.5h1.1v1.1h-1.1zM337.4 295.9h1.1v1.1h-1.1zM333.6 272.0h1.1v1.1h-1.1zM336.4 297.7h1.1v1.1h-1.1zM340.2 261.8h1.1v1.1h-1.1zM330.7 276.7h1.1v1.1h-1.1zM331.5 243.3h1.1v1.1h-1.1zM353.8 245.4h1.1v1.1h-1.1zM337.1 297.5h1.1v1.1h-1.1zM334.6 287.7h1.1v1.1h-1.1zM333.5 268.7h1.1v1.1h-1.1zM336.2 296.0h1.1v1.1h-1.1zM322.9 222.1h1.1v1.1h-1.1zM333.9 299.0h1.1v1.1h-1.1zM339.7 280.0h1.1v1.1h-1.1zM341.9 242.8h1.1v1.1h-1.1zM321.0 292.2h1.1v1.1h-1.1zM326.8 230.9h1.1v1.1h-1.1zM339.4 253.7h1.1v1.1h-1.1zM331.1 253.0h1.1v1.1h-1.1zM339.6 255.9h1.1v1.1h-1.1zM335.9 294.4h1.1v1.1h-1.1zM343.1 254.0h1.1v1.1h-1.1zM328.3 227.9h1.1v1.1h-1.1zM338.2 295.3h1.1v1.1h-1.1zM338.4 295.3h1.1v1.1h-1.1zM338.8 291.8h1.1v1.1h-1.1zM337.9 285.7h1.1v1.1h-1.1zM335.9 298.1h1.1v1.1h-1.1zM335.4 287.4h1.1v1.1h-1.1zM326.8 258.1h1.1v1.1h-1.1zM339.9 265.8h1.1v1.1h-1.1zM326.8 224.6h1.1v1.1h-1.1zM332.4 293.3h1.1v1.1h-1.1zM330.0 259.8h1.1v1.1h-1.1zM338.5 283.7h1.1v1.1h-1.1zM334.9 281.2h1.1v1.1h-1.1zM328.0 226.8h1.1v1.1h-1.1zM330.1 257.7h1.1v1.1h-1.1zM334.7 282.4h1.1v1.1h-1.1zM345.1 246.8h1.1v1.1h-1.1zM337.9 287.2h1.1v1.1h-1.1zM336.2 296.8h1.1v1.1h-1.1zM335.8 295.7h1.1v1.1h-1.1zM335.5 294.7h1.1v1.1h-1.1zM331.5 262.9h1.1v1.1h-1.1zM337.4 288.6h1.1v1.1h-1.1zM339.9 256.9h1.1v1.1h-1.1zM334.2 283.5h1.1v1.1h-1.1zM348.0 244.2h1.1v1.1h-1.1zM335.5 290.5h1.1v1.1h-1.1zM329.7 270.8h1.1v1.1h-1.1zM340.1 242.4h1.1v1.1h-1.1zM342.9 247.8h1.1v1.1h-1.1zM331.2 261.6h1.1v1.1h-1.1zM329.1 233.4h1.1v1.1h-1.1zM337.3 295.4h1.1v1.1h-1.1zM343.9 229.1h1.1v1.1h-1.1zM338.2 285.9h1.1v1.1h-1.1zM341.7 269.5h1.1v1.1h-1.1zM330.2 252.1h1.1v1.1h-1.1zM342.0 246.7h1.1v1.1h-1.1zM333.9 282.4h1.1v1.1h-1.1zM330.2 244.8h1.1v1.1h-1.1zM326.3 222.1h1.1v1.1h-1.1zM343.7 238.3h1.1v1.1h-1.1zM339.5 251.7h1.1v1.1h-1.1zM353.9 225.2h1.1v1.1h-1.1zM332.3 265.2h1.1v1.1h-1.1zM333.6 276.5h1.1v1.1h-1.1zM334.2 276.1h1.1v1.1h-1.1zM333.6 288.9h1.1v1.1h-1.1zM324.3 228.4h1.1v1.1h-1.1zM328.8 237.1h1.1v1.1h-1.1zM333.8 294.5h1.1v1.1h-1.1zM332.5 254.3h1.1v1.1h-1.1zM317.4 228.2h1.1v1.1h-1.1zM337.5 298.2h1.1v1.1h-1.1zM336.2 295.2h1.1v1.1h-1.1zM337.6 282.8h1.1v1.1h-1.1zM333.1 276.3h1.1v1.1h-1.1zM333.7 275.7h1.1v1.1h-1.1zM339.6 275.5h1.1v1.1h-1.1zM335.9 293.6h1.1v1.1h-1.1zM337.1 291.7h1.1v1.1h-1.1zM338.3 271.2h1.1v1.1h-1.1zM330.3 243.4h1.1v1.1h-1.1zM332.6 280.9h1.1v1.1h-1.1zM339.4 280.2h1.1v1.1h-1.1zM339.2 267.0h1.1v1.1h-1.1zM334.1 278.9h1.1v1.1h-1.1zM337.7 290.2h1.1v1.1h-1.1zM334.2 279.9h1.1v1.1h-1.1zM334.6 282.9h1.1v1.1h-1.1zM338.7 285.0h1.1v1.1h-1.1zM339.9 262.1h1.1v1.1h-1.1zM335.1 282.5h1.1v1.1h-1.1zM331.2 273.5h1.1v1.1h-1.1zM321.4 239.6h1.1v1.1h-1.1zM338.8 274.0h1.1v1.1h-1.1zM340.2 274.1h1.1v1.1h-1.1zM332.3 259.1h1.1v1.1h-1.1zM334.9 281.0h1.1v1.1h-1.1zM330.1 242.8h1.1v1.1h-1.1zM328.6 241.8h1.1v1.1h-1.1zM326.4 231.4h1.1v1.1h-1.1zM325.0 242.5h1.1v1.1h-1.1zM333.7 284.9h1.1v1.1h-1.1zM338.6 298.3h1.1v1.1h-1.1zM335.6 288.1h1.1v1.1h-1.1zM326.6 227.1h1.1v1.1h-1.1zM339.2 279.0h1.1v1.1h-1.1zM338.1 279.9h1.1v1.1h-1.1zM346.3 218.7h1.1v1.1h-1.1zM335.9 293.6h1.1v1.1h-1.1zM325.5 225.2h1.1v1.1h-1.1zM334.8 291.8h1.1v1.1h-1.1zM328.3 232.8h1.1v1.1h-1.1zM335.1 293.1h1.1v1.1h-1.1zM326.6 282.5h1.1v1.1h-1.1zM331.0 243.2h1.1v1.1h-1.1zM331.4 263.0h1.1v1.1h-1.1zM344.9 227.1h1.1v1.1h-1.1zM338.2 279.8h1.1v1.1h-1.1zM337.6 283.7h1.1v1.1h-1.1zM335.7 290.1h1.1v1.1h-1.1zM333.3 265.2h1.1v1.1h-1.1zM357.4 221.1h1.1v1.1h-1.1zM333.6 278.9h1.1v1.1h-1.1zM334.8 296.9h1.1v1.1h-1.1zM338.6 278.9h1.1v1.1h-1.1zM334.2 297.4h1.1v1.1h-1.1zM335.0 293.7h1.1v1.1h-1.1zM336.4 298.8h1.1v1.1h-1.1zM330.9 238.3h1.1v1.1h-1.1zM335.6 289.5h1.1v1.1h-1.1zM331.5 243.6h1.1v1.1h-1.1zM335.5 289.2h1.1v1.1h-1.1zM343.9 277.4h1.1v1.1h-1.1zM335.5 287.3h1.1v1.1h-1.1zM331.1 256.2h1.1v1.1h-1.1zM335.8 294.0h1.1v1.1h-1.1zM327.1 273.6h1.1v1.1h-1.1zM334.3 272.6h1.1v1.1h-1.1zM332.6 258.7h1.1v1.1h-1.1zM338.7 278.2h1.1v1.1h-1.1zM331.4 249.8h1.1v1.1h-1.1zM340.4 274.1h1.1v1.1h-1.1zM345.8 257.3h1.1v1.1h-1.1zM333.0 264.9h1.1v1.1h-1.1zM337.6 285.1h1.1v1.1h-1.1zM344.0 225.0h1.1v1.1h-1.1zM329.4 236.1h1.1v1.1h-1.1zM328.3 283.7h1.1v1.1h-1.1zM337.4 291.3h1.1v1.1h-1.1zM331.0 239.8h1.1v1.1h-1.1zM333.9 274.8h1.1v1.1h-1.1zM334.6 287.2h1.1v1.1h-1.1zM339.6 247.4h1.1v1.1h-1.1zM334.3 285.9h1.1v1.1h-1.1zM339.4 262.1h1.1v1.1h-1.1zM335.3 294.9h1.1v1.1h-1.1zM334.7 276.8h1.1v1.1h-1.1zM334.8 279.1h1.1v1.1h-1.1zM319.4 254.6h1.1v1.1h-1.1zM339.6 278.6h1.1v1.1h-1.1zM335.0 287.9h1.1v1.1h-1.1zM340.9 251.9h1.1v1.1h-1.1zM338.2 277.7h1.1v1.1h-1.1zM323.2 253.1h1.1v1.1h-1.1zM345.4 220.9h1.1v1.1h-1.1zM338.6 295.9h1.1v1.1h-1.1zM337.8 293.9h1.1v1.1h-1.1zM332.8 256.0h1.1v1.1h-1.1zM332.3 274.4h1.1v1.1h-1.1zM333.4 262.4h1.1v1.1h-1.1zM326.8 231.7h1.1v1.1h-1.1zM340.9 238.5h1.1v1.1h-1.1zM337.2 289.2h1.1v1.1h-1.1zM333.9 286.3h1.1v1.1h-1.1zM339.7 259.3h1.1v1.1h-1.1zM324.0 223.3h1.1v1.1h-1.1zM348.4 294.1h1.1v1.1h-1.1zM344.5 224.0h1.1v1.1h-1.1zM332.8 297.6h1.1v1.1h-1.1zM333.7 291.5h1.1v1.1h-1.1zM338.2 274.9h1.1v1.1h-1.1zM330.5 258.8h1.1v1.1h-1.1zM328.7 240.9h1.1v1.1h-1.1zM330.3 241.4h1.1v1.1h-1.1zM341.6 272.3h1.1v1.1h-1.1zM334.5 282.3h1.1v1.1h-1.1zM329.2 242.7h1.1v1.1h-1.1zM334.3 279.1h1.1v1.1h-1.1zM338.8 280.2h1.1v1.1h-1.1zM339.8 252.6h1.1v1.1h-1.1zM339.3 272.8h1.1v1.1h-1.1zM332.7 263.0h1.1v1.1h-1.1zM346.9 252.5h1.1v1.1h-1.1zM341.7 237.3h1.1v1.1h-1.1zM334.7 281.8h1.1v1.1h-1.1zM350.3 232.3h1.1v1.1h-1.1zM336.0 299.1h1.1v1.1h-1.1zM330.0 273.0h1.1v1.1h-1.1zM338.1 292.4h1.1v1.1h-1.1zM343.7 231.7h1.1v1.1h-1.1zM347.6 243.3h1.1v1.1h-1.1zM319.8 260.4h1.1v1.1h-1.1zM331.7 252.0h1.1v1.1h-1.1zM339.9 257.8h1.1v1.1h-1.1zM346.4 230.6h1.1v1.1h-1.1zM332.4 261.1h1.1v1.1h-1.1zM342.0 236.5h1.1v1.1h-1.1zM337.2 298.2h1.1v1.1h-1.1zM341.7 275.0h1.1v1.1h-1.1zM342.2 275.5h1.1v1.1h-1.1zM330.6 256.3h1.1v1.1h-1.1zM347.1 263.8h1.1v1.1h-1.1zM339.0 265.0h1.1v1.1h-1.1zM337.1 295.5h1.1v1.1h-1.1zM328.3 244.0h1.1v1.1h-1.1zM339.7 250.2h1.1v1.1h-1.1zM332.8 284.9h1.1v1.1h-1.1zM338.7 281.8h1.1v1.1h-1.1zM340.4 258.2h1.1v1.1h-1.1zM330.7 243.3h1.1v1.1h-1.1zM332.2 265.7h1.1v1.1h-1.1zM339.2 277.2h1.1v1.1h-1.1zM329.2 280.0h1.1v1.1h-1.1zM344.7 295.0h1.1v1.1h-1.1zM344.4 244.8h1.1v1.1h-1.1zM335.5 298.2h1.1v1.1h-1.1zM335.5 295.4h1.1v1.1h-1.1zM331.3 263.4h1.1v1.1h-1.1zM314.4 218.6h1.1v1.1h-1.1zM330.4 244.0h1.1v1.1h-1.1zM332.2 259.3h1.1v1.1h-1.1zM342.4 241.5h1.1v1.1h-1.1zM331.3 254.5h1.1v1.1h-1.1zM334.0 284.7h1.1v1.1h-1.1zM336.2 298.5h1.1v1.1h-1.1zM332.3 257.4h1.1v1.1h-1.1zM337.9 296.5h1.1v1.1h-1.1zM343.9 242.0h1.1v1.1h-1.1zM338.7 270.7h1.1v1.1h-1.1zM331.6 262.7h1.1v1.1h-1.1zM339.2 262.7h1.1v1.1h-1.1zM323.6 218.5h1.1v1.1h-1.1zM337.6 290.2h1.1v1.1h-1.1zM339.0 287.5h1.1v1.1h-1.1zM343.9 290.1h1.1v1.1h-1.1zM340.3 283.7h1.1v1.1h-1.1zM326.4 256.8h1.1v1.1h-1.1zM335.7 294.0h1.1v1.1h-1.1zM335.3 288.9h1.1v1.1h-1.1zM330.7 287.6h1.1v1.1h-1.1zM341.6 254.1h1.1v1.1h-1.1zM340.3 257.2h1.1v1.1h-1.1zM334.4 296.6h1.1v1.1h-1.1zM325.6 223.0h1.1v1.1h-1.1zM339.6 276.0h1.1v1.1h-1.1zM338.2 273.3h1.1v1.1h-1.1zM325.8 230.3h1.1v1.1h-1.1zM336.3 299.3h1.1v1.1h-1.1zM338.5 298.7h1.1v1.1h-1.1zM337.5 296.0h1.1v1.1h-1.1zM332.8 280.3h1.1v1.1h-1.1zM338.7 291.2h1.1v1.1h-1.1zM345.9 235.2h1.1v1.1h-1.1zM338.6 295.3h1.1v1.1h-1.1zM335.9 298.9h1.1v1.1h-1.1zM335.9 297.9h1.1v1.1h-1.1zM338.7 271.7h1.1v1.1h-1.1zM338.6 270.8h1.1v1.1h-1.1zM335.6 296.5h1.1v1.1h-1.1zM342.6 229.8h1.1v1.1h-1.1zM341.9 240.5h1.1v1.1h-1.1zM337.3 295.4h1.1v1.1h-1.1zM330.8 252.5h1.1v1.1h-1.1zM331.1 250.2h1.1v1.1h-1.1zM342.2 238.7h1.1v1.1h-1.1zM338.6 274.3h1.1v1.1h-1.1zM339.0 262.8h1.1v1.1h-1.1zM332.2 281.0h1.1v1.1h-1.1zM331.6 259.1h1.1v1.1h-1.1zM330.9 247.5h1.1v1.1h-1.1zM335.8 292.8h1.1v1.1h-1.1zM349.2 221.6h1.1v1.1h-1.1zM330.6 260.7h1.1v1.1h-1.1zM331.4 259.6h1.1v1.1h-1.1zM353.3 250.6h1.1v1.1h-1.1zM345.3 220.9h1.1v1.1h-1.1zM339.8 265.8h1.1v1.1h-1.1zM338.6 268.1h1.1v1.1h-1.1zM327.8 233.1h1.1v1.1h-1.1zM345.1 232.4h1.1v1.1h-1.1zM337.9 296.3h1.1v1.1h-1.1zM339.2 265.1h1.1v1.1h-1.1zM329.7 247.1h1.1v1.1h-1.1zM337.9 283.2h1.1v1.1h-1.1zM341.3 240.1h1.1v1.1h-1.1zM330.9 281.3h1.1v1.1h-1.1zM338.4 285.4h1.1v1.1h-1.1zM334.2 281.5h1.1v1.1h-1.1zM330.2 264.6h1.1v1.1h-1.1zM333.4 274.7h1.1v1.1h-1.1zM331.9 297.5h1.1v1.1h-1.1zM334.4 287.5h1.1v1.1h-1.1zM338.4 271.5h1.1v1.1h-1.1zM342.2 235.5h1.1v1.1h-1.1zM345.0 225.0h1.1v1.1h-1.1zM324.7 253.8h1.1v1.1h-1.1zM343.2 252.6h1.1v1.1h-1.1zM337.5 291.8h1.1v1.1h-1.1zM346.2 222.0h1.1v1.1h-1.1zM350.0 229.9h1.1v1.1h-1.1zM323.5 238.7h1.1v1.1h-1.1zM341.4 242.4h1.1v1.1h-1.1zM337.7 292.1h1.1v1.1h-1.1zM329.2 243.1h1.1v1.1h-1.1zM324.8 228.6h1.1v1.1h-1.1zM335.5 298.3h1.1v1.1h-1.1zM335.2 292.1h1.1v1.1h-1.1zM346.6 247.0h1.1v1.1h-1.1zM339.6 260.6h1.1v1.1h-1.1zM330.3 250.9h1.1v1.1h-1.1zM338.9 274.6h1.1v1.1h-1.1zM339.8 292.6h1.1v1.1h-1.1zM338.5 276.5h1.1v1.1h-1.1zM332.1 258.3h1.1v1.1h-1.1zM341.7 246.8h1.1v1.1h-1.1zM328.6 238.8h1.1v1.1h-1.1zM331.8 253.5h1.1v1.1h-1.1zM340.2 270.7h1.1v1.1h-1.1zM334.7 287.7h1.1v1.1h-1.1zM335.1 299.1h1.1v1.1h-1.1zM327.1 266.4h1.1v1.1h-1.1zM331.4 248.5h1.1v1.1h-1.1zM334.8 285.3h1.1v1.1h-1.1zM334.4 286.1h1.1v1.1h-1.1zM334.6 280.4h1.1v1.1h-1.1zM329.8 246.7h1.1v1.1h-1.1zM334.5 277.4h1.1v1.1h-1.1zM331.5 267.5h1.1v1.1h-1.1zM339.9 268.6h1.1v1.1h-1.1zM339.7 259.2h1.1v1.1h-1.1zM341.6 241.8h1.1v1.1h-1.1zM343.5 253.5h1.1v1.1h-1.1zM327.1 257.6h1.1v1.1h-1.1zM347.0 222.6h1.1v1.1h-1.1zM347.4 250.2h1.1v1.1h-1.1zM334.3 277.1h1.1v1.1h-1.1zM338.0 296.7h1.1v1.1h-1.1zM340.4 297.2h1.1v1.1h-1.1zM337.6 284.6h1.1v1.1h-1.1zM341.5 295.0h1.1v1.1h-1.1zM330.9 256.6h1.1v1.1h-1.1zM337.3 293.1h1.1v1.1h-1.1zM328.8 235.8h1.1v1.1h-1.1zM331.4 261.6h1.1v1.1h-1.1zM332.3 277.4h1.1v1.1h-1.1zM338.2 279.3h1.1v1.1h-1.1zM338.1 296.3h1.1v1.1h-1.1zM333.2 281.5h1.1v1.1h-1.1zM330.3 258.6h1.1v1.1h-1.1zM330.1 245.5h1.1v1.1h-1.1zM332.2 251.5h1.1v1.1h-1.1zM340.6 267.4h1.1v1.1h-1.1zM329.2 240.0h1.1v1.1h-1.1zM331.2 248.6h1.1v1.1h-1.1zM325.1 232.0h1.1v1.1h-1.1zM330.2 247.8h1.1v1.1h-1.1zM326.9 233.1h1.1v1.1h-1.1zM332.8 274.3h1.1v1.1h-1.1zM321.7 243.3h1.1v1.1h-1.1zM335.5 295.8h1.1v1.1h-1.1zM350.3 284.2h1.1v1.1h-1.1zM325.9 226.7h1.1v1.1h-1.1zM342.7 237.7h1.1v1.1h-1.1zM333.8 272.4h1.1v1.1h-1.1zM336.2 296.3h1.1v1.1h-1.1zM333.5 269.4h1.1v1.1h-1.1zM338.6 295.4h1.1v1.1h-1.1zM334.8 288.5h1.1v1.1h-1.1zM325.2 221.2h1.1v1.1h-1.1zM326.1 229.5h1.1v1.1h-1.1zM331.8 283.2h1.1v1.1h-1.1zM341.7 274.2h1.1v1.1h-1.1zM334.8 291.1h1.1v1.1h-1.1zM331.8 258.9h1.1v1.1h-1.1zM331.0 248.5h1.1v1.1h-1.1zM325.7 290.6h1.1v1.1h-1.1zM352.7 276.0h1.1v1.1h-1.1zM334.3 298.8h1.1v1.1h-1.1zM343.4 287.6h1.1v1.1h-1.1zM330.0 241.5h1.1v1.1h-1.1zM338.6 279.3h1.1v1.1h-1.1zM334.3 280.7h1.1v1.1h-1.1zM331.0 270.5h1.1v1.1h-1.1zM330.9 239.5h1.1v1.1h-1.1zM337.5 286.6h1.1v1.1h-1.1zM324.1 287.4h1.1v1.1h-1.1zM339.0 265.5h1.1v1.1h-1.1zM340.3 243.0h1.1v1.1h-1.1zM332.5 295.3h1.1v1.1h-1.1zM333.5 293.1h1.1v1.1h-1.1zM334.5 289.1h1.1v1.1h-1.1zM328.2 236.0h1.1v1.1h-1.1zM335.2 296.9h1.1v1.1h-1.1zM334.9 297.3h1.1v1.1h-1.1zM341.4 258.6h1.1v1.1h-1.1zM329.3 242.0h1.1v1.1h-1.1zM339.9 265.3h1.1v1.1h-1.1zM335.0 291.9h1.1v1.1h-1.1zM331.9 256.4h1.1v1.1h-1.1zM329.5 235.3h1.1v1.1h-1.1zM334.2 271.8h1.1v1.1h-1.1zM335.9 297.2h1.1v1.1h-1.1zM327.3 241.7h1.1v1.1h-1.1zM335.9 293.3h1.1v1.1h-1.1zM337.1 295.1h1.1v1.1h-1.1zM335.0 286.7h1.1v1.1h-1.1zM337.9 295.3h1.1v1.1h-1.1zM347.2 249.5h1.1v1.1h-1.1zM337.1 291.7h1.1v1.1h-1.1zM343.9 228.9h1.1v1.1h-1.1zM347.7 229.7h1.1v1.1h-1.1zM334.2 273.0h1.1v1.1h-1.1zM333.4 269.5h1.1v1.1h-1.1zM335.8 294.7h1.1v1.1h-1.1zM330.7 293.2h1.1v1.1h-1.1zM335.0 296.0h1.1v1.1h-1.1zM338.9 275.4h1.1v1.1h-1.1zM323.8 255.0h1.1v1.1h-1.1zM334.2 283.6h1.1v1.1h-1.1zM329.7 237.2h1.1v1.1h-1.1zM334.5 285.8h1.1v1.1h-1.1zM316.4 222.6h1.1v1.1h-1.1zM334.3 282.0h1.1v1.1h-1.1zM343.6 265.0h1.1v1.1h-1.1zM338.9 273.8h1.1v1.1h-1.1zM319.8 262.7h1.1v1.1h-1.1zM337.7 294.9h1.1v1.1h-1.1zM327.7 230.7h1.1v1.1h-1.1zM334.6 286.6h1.1v1.1h-1.1zM339.4 266.4h1.1v1.1h-1.1zM334.2 276.5h1.1v1.1h-1.1zM339.3 268.7h1.1v1.1h-1.1zM339.8 264.1h1.1v1.1h-1.1zM332.8 259.3h1.1v1.1h-1.1zM332.6 274.5h1.1v1.1h-1.1zM332.4 250.4h1.1v1.1h-1.1zM339.7 259.7h1.1v1.1h-1.1zM339.9 258.0h1.1v1.1h-1.1zM335.2 298.1h1.1v1.1h-1.1zM340.2 247.3h1.1v1.1h-1.1zM331.6 277.0h1.1v1.1h-1.1zM339.5 292.8h1.1v1.1h-1.1zM343.5 232.9h1.1v1.1h-1.1zM340.0 251.1h1.1v1.1h-1.1zM332.6 279.9h1.1v1.1h-1.1zM338.8 299.0h1.1v1.1h-1.1zM327.8 255.7h1.1v1.1h-1.1zM324.4 231.2h1.1v1.1h-1.1zM331.3 242.5h1.1v1.1h-1.1zM335.1 292.4h1.1v1.1h-1.1zM331.2 255.5h1.1v1.1h-1.1zM337.9 282.7h1.1v1.1h-1.1zM334.6 287.8h1.1v1.1h-1.1zM337.6 293.6h1.1v1.1h-1.1zM340.6 240.0h1.1v1.1h-1.1zM339.6 268.7h1.1v1.1h-1.1zM348.9 271.1h1.1v1.1h-1.1zM339.0 282.2h1.1v1.1h-1.1zM334.5 278.9h1.1v1.1h-1.1zM338.7 292.7h1.1v1.1h-1.1zM332.3 278.0h1.1v1.1h-1.1zM333.6 288.0h1.1v1.1h-1.1zM337.4 286.7h1.1v1.1h-1.1zM339.2 261.0h1.1v1.1h-1.1zM328.6 240.8h1.1v1.1h-1.1zM338.6 279.7h1.1v1.1h-1.1zM340.0 246.3h1.1v1.1h-1.1zM342.4 233.4h1.1v1.1h-1.1zM337.7 293.0h1.1v1.1h-1.1zM343.4 266.5h1.1v1.1h-1.1zM339.6 277.3h1.1v1.1h-1.1zM326.6 229.1h1.1v1.1h-1.1zM337.7 295.5h1.1v1.1h-1.1zM335.8 295.9h1.1v1.1h-1.1zM334.4 278.3h1.1v1.1h-1.1zM349.5 220.7h1.1v1.1h-1.1zM341.6 254.5h1.1v1.1h-1.1zM337.6 292.5h1.1v1.1h-1.1zM332.2 259.9h1.1v1.1h-1.1zM333.7 293.0h1.1v1.1h-1.1zM330.4 288.8h1.1v1.1h-1.1zM331.2 251.2h1.1v1.1h-1.1zM328.6 261.9h1.1v1.1h-1.1zM340.2 256.7h1.1v1.1h-1.1zM342.0 232.5h1.1v1.1h-1.1zM316.6 224.6h1.1v1.1h-1.1zM341.9 259.0h1.1v1.1h-1.1zM341.9 234.9h1.1v1.1h-1.1zM331.1 249.5h1.1v1.1h-1.1zM341.7 240.7h1.1v1.1h-1.1zM338.4 281.9h1.1v1.1h-1.1zM315.5 228.9h1.1v1.1h-1.1zM339.3 259.8h1.1v1.1h-1.1zM340.2 254.4h1.1v1.1h-1.1zM332.9 257.2h1.1v1.1h-1.1zM340.7 243.4h1.1v1.1h-1.1zM331.5 269.6h1.1v1.1h-1.1zM338.8 294.3h1.1v1.1h-1.1zM340.9 260.2h1.1v1.1h-1.1zM328.5 249.3h1.1v1.1h-1.1zM341.5 246.4h1.1v1.1h-1.1zM340.5 241.6h1.1v1.1h-1.1zM340.5 266.9h1.1v1.1h-1.1zM327.0 225.3h1.1v1.1h-1.1zM329.5 236.1h1.1v1.1h-1.1zM334.2 288.0h1.1v1.1h-1.1zM342.2 232.1h1.1v1.1h-1.1zM339.6 297.4h1.1v1.1h-1.1zM319.4 241.5h1.1v1.1h-1.1zM338.2 298.8h1.1v1.1h-1.1zM327.2 274.7h1.1v1.1h-1.1zM340.8 268.4h1.1v1.1h-1.1zM334.7 277.5h1.1v1.1h-1.1zM335.6 293.6h1.1v1.1h-1.1zM331.5 264.7h1.1v1.1h-1.1zM334.6 299.1h1.1v1.1h-1.1zM337.6 293.3h1.1v1.1h-1.1zM338.2 278.6h1.1v1.1h-1.1zM350.8 277.8h1.1v1.1h-1.1zM345.2 273.5h1.1v1.1h-1.1zM338.8 280.0h1.1v1.1h-1.1zM331.5 246.6h1.1v1.1h-1.1zM336.1 296.0h1.1v1.1h-1.1zM333.2 260.0h1.1v1.1h-1.1zM347.6 271.6h1.1v1.1h-1.1zM342.6 230.6h1.1v1.1h-1.1zM334.9 293.4h1.1v1.1h-1.1zM340.5 247.2h1.1v1.1h-1.1zM335.6 294.0h1.1v1.1h-1.1zM338.4 283.6h1.1v1.1h-1.1zM330.8 285.9h1.1v1.1h-1.1zM339.9 245.1h1.1v1.1h-1.1zM332.2 248.5h1.1v1.1h-1.1zM341.7 242.1h1.1v1.1h-1.1zM339.4 264.5h1.1v1.1h-1.1zM330.7 262.4h1.1v1.1h-1.1zM333.4 272.7h1.1v1.1h-1.1zM334.6 277.0h1.1v1.1h-1.1zM339.1 282.3h1.1v1.1h-1.1zM339.0 282.7h1.1v1.1h-1.1zM339.9 259.3h1.1v1.1h-1.1zM334.7 286.0h1.1v1.1h-1.1zM326.8 241.8h1.1v1.1h-1.1zM338.7 289.3h1.1v1.1h-1.1zM348.3 246.9h1.1v1.1h-1.1zM333.0 264.7h1.1v1.1h-1.1zM343.7 296.1h1.1v1.1h-1.1zM334.3 292.4h1.1v1.1h-1.1zM338.7 272.0h1.1v1.1h-1.1zM330.4 248.5h1.1v1.1h-1.1zM340.2 252.4h1.1v1.1h-1.1zM328.7 262.1h1.1v1.1h-1.1zM333.0 267.7h1.1v1.1h-1.1zM344.3 226.4h1.1v1.1h-1.1zM321.5 245.9h1.1v1.1h-1.1zM331.2 251.1h1.1v1.1h-1.1zM334.6 289.5h1.1v1.1h-1.1zM341.4 249.7h1.1v1.1h-1.1zM334.0 280.4h1.1v1.1h-1.1zM335.2 296.9h1.1v1.1h-1.1zM338.8 292.9h1.1v1.1h-1.1zM332.3 288.1h1.1v1.1h-1.1zM332.8 276.1h1.1v1.1h-1.1zM334.0 284.1h1.1v1.1h-1.1zM332.6 254.0h1.1v1.1h-1.1zM339.5 284.7h1.1v1.1h-1.1zM330.2 243.4h1.1v1.1h-1.1zM335.8 291.0h1.1v1.1h-1.1zM332.9 260.7h1.1v1.1h-1.1zM326.1 222.5h1.1v1.1h-1.1zM338.3 288.3h1.1v1.1h-1.1zM340.2 265.4h1.1v1.1h-1.1zM336.9 295.8h1.1v1.1h-1.1zM347.6 296.5h1.1v1.1h-1.1zM336.0 297.8h1.1v1.1h-1.1zM328.3 233.9h1.1v1.1h-1.1zM337.3 292.1h1.1v1.1h-1.1zM337.5 298.6h1.1v1.1h-1.1zM339.8 294.4h1.1v1.1h-1.1zM329.4 236.2h1.1v1.1h-1.1zM344.4 231.9h1.1v1.1h-1.1zM334.2 278.2h1.1v1.1h-1.1zM327.4 235.1h1.1v1.1h-1.1zM336.9 295.0h1.1v1.1h-1.1zM341.0 293.4h1.1v1.1h-1.1zM332.7 285.5h1.1v1.1h-1.1zM334.0 276.9h1.1v1.1h-1.1zM342.9 251.4h1.1v1.1h-1.1zM333.0 287.0h1.1v1.1h-1.1zM341.0 241.4h1.1v1.1h-1.1zM347.1 284.6h1.1v1.1h-1.1zM338.9 290.1h1.1v1.1h-1.1zM333.0 260.6h1.1v1.1h-1.1zM339.3 257.1h1.1v1.1h-1.1zM331.2 251.0h1.1v1.1h-1.1zM330.0 278.8h1.1v1.1h-1.1zM339.5 275.4h1.1v1.1h-1.1zM328.2 245.5h1.1v1.1h-1.1zM328.3 233.2h1.1v1.1h-1.1zM346.7 249.6h1.1v1.1h-1.1zM340.9 237.2h1.1v1.1h-1.1zM342.8 254.4h1.1v1.1h-1.1zM331.8 247.5h1.1v1.1h-1.1zM341.4 297.3h1.1v1.1h-1.1zM331.5 267.2h1.1v1.1h-1.1zM332.6 265.0h1.1v1.1h-1.1zM346.1 271.9h1.1v1.1h-1.1zM333.6 296.5h1.1v1.1h-1.1zM327.0 244.7h1.1v1.1h-1.1zM345.2 248.0h1.1v1.1h-1.1zM347.7 274.9h1.1v1.1h-1.1zM334.4 274.1h1.1v1.1h-1.1zM335.2 296.7h1.1v1.1h-1.1zM340.1 278.5h1.1v1.1h-1.1zM338.8 286.9h1.1v1.1h-1.1zM329.3 251.9h1.1v1.1h-1.1zM343.9 297.1h1.1v1.1h-1.1zM337.9 289.5h1.1v1.1h-1.1zM347.5 219.4h1.1v1.1h-1.1zM335.9 293.3h1.1v1.1h-1.1zM348.2 289.5h1.1v1.1h-1.1zM326.4 228.5h1.1v1.1h-1.1zM326.8 281.4h1.1v1.1h-1.1zM343.4 237.5h1.1v1.1h-1.1zM332.9 265.1h1.1v1.1h-1.1zM335.1 288.4h1.1v1.1h-1.1zM335.7 289.4h1.1v1.1h-1.1zM313.1 218.9h1.1v1.1h-1.1zM330.9 265.1h1.1v1.1h-1.1zM330.9 277.2h1.1v1.1h-1.1zM351.9 223.9h1.1v1.1h-1.1zM329.5 267.6h1.1v1.1h-1.1zM340.9 298.1h1.1v1.1h-1.1zM332.0 254.7h1.1v1.1h-1.1zM333.4 279.9h1.1v1.1h-1.1zM331.4 241.4h1.1v1.1h-1.1zM331.9 268.1h1.1v1.1h-1.1zM327.5 225.3h1.1v1.1h-1.1zM335.3 298.0h1.1v1.1h-1.1zM344.2 228.5h1.1v1.1h-1.1zM343.6 229.6h1.1v1.1h-1.1zM338.2 287.4h1.1v1.1h-1.1zM328.1 244.5h1.1v1.1h-1.1zM339.1 266.4h1.1v1.1h-1.1zM334.5 291.5h1.1v1.1h-1.1zM343.0 291.5h1.1v1.1h-1.1zM338.9 292.2h1.1v1.1h-1.1zM338.8 265.0h1.1v1.1h-1.1zM334.6 281.7h1.1v1.1h-1.1zM334.5 284.6h1.1v1.1h-1.1zM331.6 241.8h1.1v1.1h-1.1zM332.2 252.0h1.1v1.1h-1.1zM326.7 245.4h1.1v1.1h-1.1zM325.1 273.8h1.1v1.1h-1.1zM341.0 272.6h1.1v1.1h-1.1zM340.9 258.7h1.1v1.1h-1.1zM334.0 268.7h1.1v1.1h-1.1zM336.4 298.2h1.1v1.1h-1.1zM333.9 280.3h1.1v1.1h-1.1zM333.4 273.8h1.1v1.1h-1.1zM336.8 297.0h1.1v1.1h-1.1zM332.1 254.0h1.1v1.1h-1.1zM329.2 246.1h1.1v1.1h-1.1zM333.6 285.6h1.1v1.1h-1.1zM335.1 289.7h1.1v1.1h-1.1zM329.0 268.2h1.1v1.1h-1.1zM335.1 285.6h1.1v1.1h-1.1zM335.1 298.9h1.1v1.1h-1.1zM338.4 283.7h1.1v1.1h-1.1zM324.5 230.9h1.1v1.1h-1.1zM337.0 296.6h1.1v1.1h-1.1zM334.4 275.6h1.1v1.1h-1.1zM330.6 237.4h1.1v1.1h-1.1zM340.0 283.4h1.1v1.1h-1.1zM339.9 249.7h1.1v1.1h-1.1zM342.7 239.7h1.1v1.1h-1.1zM331.3 274.8h1.1v1.1h-1.1zM340.6 260.7h1.1v1.1h-1.1zM344.0 260.4h1.1v1.1h-1.1zM340.2 280.0h1.1v1.1h-1.1zM334.9 285.7h1.1v1.1h-1.1zM337.4 294.9h1.1v1.1h-1.1zM340.5 266.5h1.1v1.1h-1.1zM342.2 263.6h1.1v1.1h-1.1zM338.3 285.0h1.1v1.1h-1.1zM342.2 244.9h1.1v1.1h-1.1zM333.0 274.5h1.1v1.1h-1.1zM341.8 240.9h1.1v1.1h-1.1zM324.0 290.4h1.1v1.1h-1.1zM337.8 288.7h1.1v1.1h-1.1zM333.5 279.9h1.1v1.1h-1.1zM334.7 286.5h1.1v1.1h-1.1zM343.1 237.2h1.1v1.1h-1.1zM334.8 285.5h1.1v1.1h-1.1zM339.0 280.1h1.1v1.1h-1.1zM332.9 276.0h1.1v1.1h-1.1zM331.3 259.4h1.1v1.1h-1.1zM335.6 292.8h1.1v1.1h-1.1zM331.6 265.5h1.1v1.1h-1.1zM335.7 298.8h1.1v1.1h-1.1zM327.8 264.9h1.1v1.1h-1.1zM335.1 298.3h1.1v1.1h-1.1zM332.8 267.2h1.1v1.1h-1.1zM330.2 242.0h1.1v1.1h-1.1zM329.4 231.9h1.1v1.1h-1.1zM332.1 250.5h1.1v1.1h-1.1zM334.8 293.0h1.1v1.1h-1.1zM339.6 266.4h1.1v1.1h-1.1zM337.4 286.3h1.1v1.1h-1.1zM329.3 242.0h1.1v1.1h-1.1zM332.6 251.2h1.1v1.1h-1.1zM334.8 286.1h1.1v1.1h-1.1zM332.5 252.4h1.1v1.1h-1.1zM334.3 299.4h1.1v1.1h-1.1zM342.8 245.0h1.1v1.1h-1.1zM340.4 250.4h1.1v1.1h-1.1zM337.5 297.5h1.1v1.1h-1.1zM337.8 290.3h1.1v1.1h-1.1zM332.7 257.7h1.1v1.1h-1.1zM338.1 296.4h1.1v1.1h-1.1zM333.7 269.1h1.1v1.1h-1.1zM338.9 287.2h1.1v1.1h-1.1zM332.0 248.1h1.1v1.1h-1.1zM333.1 265.2h1.1v1.1h-1.1zM351.8 255.4h1.1v1.1h-1.1zM336.8 299.0h1.1v1.1h-1.1zM328.7 246.0h1.1v1.1h-1.1zM340.5 250.7h1.1v1.1h-1.1zM339.5 288.6h1.1v1.1h-1.1zM339.2 267.9h1.1v1.1h-1.1zM333.3 263.9h1.1v1.1h-1.1zM335.1 291.7h1.1v1.1h-1.1zM322.5 290.0h1.1v1.1h-1.1zM338.5 282.1h1.1v1.1h-1.1zM337.8 281.6h1.1v1.1h-1.1zM339.6 297.9h1.1v1.1h-1.1zM333.6 273.1h1.1v1.1h-1.1zM330.2 257.7h1.1v1.1h-1.1zM333.3 273.8h1.1v1.1h-1.1zM340.8 269.5h1.1v1.1h-1.1zM334.7 293.5h1.1v1.1h-1.1zM340.8 251.5h1.1v1.1h-1.1zM339.2 278.1h1.1v1.1h-1.1zM338.1 296.0h1.1v1.1h-1.1zM341.1 258.1h1.1v1.1h-1.1zM326.9 231.4h1.1v1.1h-1.1zM334.6 284.2h1.1v1.1h-1.1zM344.3 223.6h1.1v1.1h-1.1zM339.0 261.6h1.1v1.1h-1.1zM334.8 289.6h1.1v1.1h-1.1zM332.1 250.6h1.1v1.1h-1.1zM339.1 260.8h1.1v1.1h-1.1zM331.2 262.3h1.1v1.1h-1.1zM334.7 279.7h1.1v1.1h-1.1zM335.7 298.7h1.1v1.1h-1.1zM335.1 288.4h1.1v1.1h-1.1zM336.7 299.2h1.1v1.1h-1.1zM341.9 248.3h1.1v1.1h-1.1zM331.3 287.1h1.1v1.1h-1.1zM334.2 283.3h1.1v1.1h-1.1zM339.9 258.1h1.1v1.1h-1.1zM335.5 296.5h1.1v1.1h-1.1zM344.5 250.3h1.1v1.1h-1.1zM337.7 299.0h1.1v1.1h-1.1zM329.5 248.1h1.1v1.1h-1.1zM343.1 233.0h1.1v1.1h-1.1zM339.2 282.1h1.1v1.1h-1.1zM331.7 275.3h1.1v1.1h-1.1zM337.7 290.3h1.1v1.1h-1.1zM333.8 284.1h1.1v1.1h-1.1zM342.3 236.7h1.1v1.1h-1.1zM330.2 237.2h1.1v1.1h-1.1zM338.6 266.8h1.1v1.1h-1.1zM339.6 261.9h1.1v1.1h-1.1zM328.5 286.6h1.1v1.1h-1.1zM339.2 288.0h1.1v1.1h-1.1zM327.8 253.7h1.1v1.1h-1.1zM334.6 284.4h1.1v1.1h-1.1zM333.8 279.1h1.1v1.1h-1.1zM339.5 274.4h1.1v1.1h-1.1zM333.2 278.9h1.1v1.1h-1.1zM334.6 278.3h1.1v1.1h-1.1zM332.3 264.6h1.1v1.1h-1.1zM347.6 260.7h1.1v1.1h-1.1zM332.9 269.6h1.1v1.1h-1.1zM324.1 275.0h1.1v1.1h-1.1zM332.8 276.8h1.1v1.1h-1.1zM334.7 284.4h1.1v1.1h-1.1zM332.1 246.9h1.1v1.1h-1.1zM360.1 277.1h1.1v1.1h-1.1zM319.5 281.0h1.1v1.1h-1.1zM314.2 255.6h1.1v1.1h-1.1zM354.8 288.9h1.1v1.1h-1.1zM374.4 275.0h1.1v1.1h-1.1zM322.7 279.2h1.1v1.1h-1.1zM297.3 279.5h1.1v1.1h-1.1zM361.3 270.1h1.1v1.1h-1.1zM296.8 278.6h1.1v1.1h-1.1zM311.5 293.1h1.1v1.1h-1.1zM371.3 255.4h1.1v1.1h-1.1zM370.4 258.1h1.1v1.1h-1.1zM354.9 257.0h1.1v1.1h-1.1zM373.3 295.0h1.1v1.1h-1.1zM361.4 261.1h1.1v1.1h-1.1zM372.3 295.8h1.1v1.1h-1.1zM316.1 284.6h1.1v1.1h-1.1zM306.3 264.8h1.1v1.1h-1.1zM375.6 291.2h1.1v1.1h-1.1zM304.0 256.2h1.1v1.1h-1.1zM303.3 266.1h1.1v1.1h-1.1zM372.5 289.2h1.1v1.1h-1.1zM374.5 278.3h1.1v1.1h-1.1zM305.7 284.9h1.1v1.1h-1.1zM362.1 276.6h1.1v1.1h-1.1zM308.8 256.9h1.1v1.1h-1.1zM374.7 285.6h1.1v1.1h-1.1zM364.1 297.4h1.1v1.1h-1.1zM305.0 267.0h1.1v1.1h-1.1zM321.2 264.3h1.1v1.1h-1.1zM372.3 271.6h1.1v1.1h-1.1zM366.7 299.4h1.1v1.1h-1.1zM374.7 273.0h1.1v1.1h-1.1zM357.5 277.2h1.1v1.1h-1.1zM299.0 293.4h1.1v1.1h-1.1zM310.1 268.7h1.1v1.1h-1.1zM377.2 281.2h1.1v1.1h-1.1zM300.0 295.7h1.1v1.1h-1.1zM319.5 291.9h1.1v1.1h-1.1zM370.7 296.9h1.1v1.1h-1.1zM360.4 276.8h1.1v1.1h-1.1zM354.1 294.5h1.1v1.1h-1.1zM311.7 261.9h1.1v1.1h-1.1zM365.9 263.4h1.1v1.1h-1.1zM320.5 207.4h1.1v1.1h-1.1zM321.5 200.7h1.1v1.1h-1.1zM356.5 197.1h1.1v1.1h-1.1zM355.9 200.4h1.1v1.1h-1.1zM354.8 214.5h1.1v1.1h-1.1zM324.3 200.7h1.1v1.1h-1.1zM349.8 203.4h1.1v1.1h-1.1zM324.7 199.4h1.1v1.1h-1.1zM357.6 202.6h1.1v1.1h-1.1zM348.6 212.4h1.1v1.1h-1.1zM351.6 203.4h1.1v1.1h-1.1zM325.7 195.9h1.1v1.1h-1.1zM319.1 212.5h1.1v1.1h-1.1zM355.8 202.4h1.1v1.1h-1.1zM367.6 284.7h1.1v1.1h-1.1zM370.0 286.6h1.1v1.1h-1.1zM373.0 285.4h1.1v1.1h-1.1zM376.0 285.0h1.1v1.1h-1.1zM377.5 287.2h1.1v1.1h-1.1zM380.5 285.0h1.1v1.1h-1.1zM382.0 285.8h1.1v1.1h-1.1zM385.6 286.4h1.1v1.1h-1.1zM388.0 284.2h1.1v1.1h-1.1zM393.4 285.7h1.1v1.1h-1.1zM364.6 284.4h1.1v1.1h-1.1zM365.2 278.7h1.1v1.1h-1.1zM364.3 270.1h1.1v1.1h-1.1zM363.8 264.3h1.1v1.1h-1.1zM365.1 255.7h1.1v1.1h-1.1zM365.3 244.2h1.1v1.1h-1.1zM324.1 218.9h1.1v1.1h-1.1zM346.4 218.9h1.1v1.1h-1.1zM322.7 218.9h1.1v1.1h-1.1zM345.9 218.9h1.1v1.1h-1.1zM321.5 218.9h1.1v1.1h-1.1zM347.6 218.9h1.1v1.1h-1.1zM322.2 218.9h1.1v1.1h-1.1zM347.8 218.9h1.1v1.1h-1.1zM323.6 218.9h1.1v1.1h-1.1zM346.2 218.9h1.1v1.1h-1.1zM324.9 218.9h1.1v1.1h-1.1zM345.9 218.9h1.1v1.1h-1.1zM327.4 218.9h1.1v1.1h-1.1zM348.6 218.9h1.1v1.1h-1.1zM327.8 218.9h1.1v1.1h-1.1zM346.9 218.9h1.1v1.1h-1.1zM324.1 218.9h1.1v1.1h-1.1zM346.1 218.9h1.1v1.1h-1.1zM325.9 218.9h1.1v1.1h-1.1zM348.8 218.9h1.1v1.1h-1.1zM322.0 218.9h1.1v1.1h-1.1zM348.3 218.9h1.1v1.1h-1.1zM325.9 218.9h1.1v1.1h-1.1zM348.0 218.9h1.1v1.1h-1.1zM323.5 218.9h1.1v1.1h-1.1zM349.4 218.9h1.1v1.1h-1.1zM325.3 218.9h1.1v1.1h-1.1zM347.6 218.9h1.1v1.1h-1.1z" fill="#4e4e4e" fill-opacity=".6"/>
<line x1="279" y1="243.5" x2="396.6" y2="243.5" stroke="#c24a5a" stroke-width="0.55" stroke-dasharray="2 0.5" stroke-opacity=".65"/>
<line x1="280.3" y1="241" x2="280.3" y2="243.5" stroke="#c24a5a" stroke-width="0.5" stroke-opacity=".7"/>
<rect x="278.2" y="185.7" width="119.1" height="115.3" fill="none" stroke="#2a2a2a" stroke-width="1.35"/>
<rect x="293" y="224.5" width="26" height="8.2" fill="#fff" fill-opacity=".85"/>
<text x="294" y="231.5" font-size="8" fill="#b8202c" style="stroke:#b8202c" textLength="24.4" lengthAdjust="spacingAndGlyphs">KCTD5</text>
<circle cx="320.9" cy="231.1" r="0.8" fill="#b8202c"/>
<text x="370.7" y="204.4" font-size="8.2" fill="#b8202c" style="stroke:#b8202c" textLength="23.2" lengthAdjust="spacingAndGlyphs">GNG5</text>
<circle cx="380.6" cy="207.3" r="0.8" fill="#b8202c"/>
<text x="274.6" y="300.4" font-size="7.6" text-anchor="end">0</text>
<text x="274.6" y="276.2" font-size="7.6" text-anchor="end">1</text>
<text x="274.6" y="246.9" font-size="7.6" text-anchor="end">2</text>
<text x="274.6" y="217.4" font-size="7.6" text-anchor="end">3</text>
<text x="274.6" y="188.9" font-size="7.6" text-anchor="end">4</text>
<text x="278.3" y="311" font-size="7.6" text-anchor="middle">-2</text>
<text x="308.1" y="311" font-size="7.6" text-anchor="middle">-1</text>
<text x="338" y="311" font-size="7.6" text-anchor="middle">0</text>
<text x="368" y="311" font-size="7.6" text-anchor="middle">1</text>
<text x="397.5" y="311" font-size="7.6" text-anchor="middle">2</text>
<text x="301.2" y="323.8" font-size="8.6" textLength="73" lengthAdjust="spacingAndGlyphs">Log<tspan font-size="5.8" dy="1.9">2</tspan><tspan dy="-1.9"> (sgKCTD5-7/sgNT-1)</tspan></text>
<text transform="translate(266,243.5) rotate(-90)" font-size="9" text-anchor="middle" textLength="79" lengthAdjust="spacingAndGlyphs">-log<tspan font-size="6" dy="1.9">10</tspan><tspan dy="-1.9"> (false discovery rate)</tspan></text>
<text transform="translate(83.2,386.6) rotate(-45)" font-size="7.5">sgNT-1_Hyg</text>
<text transform="translate(112.4,386.6) rotate(-45)" font-size="7.5" textLength="55.2" lengthAdjust="spacingAndGlyphs">sgGNG5-7_Hyg</text>
<text transform="translate(141.3,386.6) rotate(-45)" font-size="7.5" textLength="55.2" lengthAdjust="spacingAndGlyphs">sgGNG5-8_Hyg</text>
<line x1="70.3" y1="392.2" x2="94.2" y2="392.2" stroke="#444" stroke-width="1.1"/>
<line x1="99.9" y1="392.2" x2="123.8" y2="392.2" stroke="#444" stroke-width="1.1"/>
<line x1="129.2" y1="392.2" x2="152.4" y2="392.2" stroke="#444" stroke-width="1.1"/>
<text x="66.5" y="405.4" font-size="7.4" text-anchor="end">sgNT-1_Pur</text>
<line x1="74.7" y1="402.9" x2="79.3" y2="402.9" stroke="#000" stroke-width="0.8"/>
<line x1="77" y1="400.6" x2="77" y2="405.2" stroke="#000" stroke-width="0.8"/>
<line x1="90.3" y1="402.9" x2="92.3" y2="402.9" stroke="#000" stroke-width="0.75"/>
<line x1="103.2" y1="402.9" x2="107.8" y2="402.9" stroke="#000" stroke-width="0.8"/>
<line x1="105.5" y1="400.6" x2="105.5" y2="405.2" stroke="#000" stroke-width="0.8"/>
<line x1="118.6" y1="402.9" x2="120.6" y2="402.9" stroke="#000" stroke-width="0.75"/>
<line x1="131.7" y1="402.9" x2="136.3" y2="402.9" stroke="#000" stroke-width="0.8"/>
<line x1="134" y1="400.6" x2="134" y2="405.2" stroke="#000" stroke-width="0.8"/>
<line x1="147.2" y1="402.9" x2="149.2" y2="402.9" stroke="#000" stroke-width="0.75"/>
<text x="66.5" y="414.8" font-size="7.4" text-anchor="end">sgKCTD5-7_Pur</text>
<line x1="76" y1="412.3" x2="78" y2="412.3" stroke="#000" stroke-width="0.75"/>
<line x1="89" y1="412.3" x2="93.6" y2="412.3" stroke="#000" stroke-width="0.8"/>
<line x1="91.3" y1="410" x2="91.3" y2="414.6" stroke="#000" stroke-width="0.8"/>
<line x1="104.5" y1="412.3" x2="106.5" y2="412.3" stroke="#000" stroke-width="0.75"/>
<line x1="117.3" y1="412.3" x2="121.9" y2="412.3" stroke="#000" stroke-width="0.8"/>
<line x1="119.6" y1="410" x2="119.6" y2="414.6" stroke="#000" stroke-width="0.8"/>
<line x1="133" y1="412.3" x2="135" y2="412.3" stroke="#000" stroke-width="0.75"/>
<line x1="145.9" y1="412.3" x2="150.5" y2="412.3" stroke="#000" stroke-width="0.8"/>
<line x1="148.2" y1="410" x2="148.2" y2="414.6" stroke="#000" stroke-width="0.8"/>
<rect x="68.3" y="418" width="85.2" height="13.7" fill="#cdcdcd"/>
<rect x="81.35" y="418" width="2.4" height="13.7" fill="#e2e2e2" opacity=".45" filter="url(#bl2)"/>
<rect x="95.7" y="418" width="2.4" height="13.7" fill="#e2e2e2" opacity=".45" filter="url(#bl2)"/>
<rect x="110.05" y="418" width="2.4" height="13.7" fill="#e2e2e2" opacity=".45" filter="url(#bl2)"/>
<rect x="124.25" y="418" width="2.4" height="13.7" fill="#e2e2e2" opacity=".45" filter="url(#bl2)"/>
<rect x="138.7" y="418" width="2.4" height="13.7" fill="#e2e2e2" opacity=".45" filter="url(#bl2)"/>
<rect x="69.5" y="420.9" width="12" height="5.2" rx="2.6" fill="#000" opacity="1" filter="url(#bl2)"/>
<rect x="84.1" y="423.4" width="11" height="3.2" rx="1.6" fill="#aaa" opacity="0.7" filter="url(#bl)"/>
<rect x="98.2" y="420.9" width="12" height="5.2" rx="2.6" fill="#000" opacity="1" filter="url(#bl2)"/>
<rect x="112.8" y="423.7" width="11" height="3.2" rx="1.6" fill="#aaa" opacity="0.7" filter="url(#bl)"/>
<rect x="126.6" y="420.9" width="12" height="5.2" rx="2.6" fill="#000" opacity="1" filter="url(#bl2)"/>
<rect x="141.7" y="423.4" width="11" height="3.2" rx="1.6" fill="#aaa" opacity="0.7" filter="url(#bl)"/>
<rect x="68.3" y="435.3" width="85.2" height="14.6" fill="#d2d2d2"/>
<rect x="81.35" y="435.3" width="2.4" height="14.6" fill="#e2e2e2" opacity=".45" filter="url(#bl2)"/>
<rect x="95.7" y="435.3" width="2.4" height="14.6" fill="#e2e2e2" opacity=".45" filter="url(#bl2)"/>
<rect x="110.05" y="435.3" width="2.4" height="14.6" fill="#e2e2e2" opacity=".45" filter="url(#bl2)"/>
<rect x="124.25" y="435.3" width="2.4" height="14.6" fill="#e2e2e2" opacity=".45" filter="url(#bl2)"/>
<rect x="138.7" y="435.3" width="2.4" height="14.6" fill="#e2e2e2" opacity=".45" filter="url(#bl2)"/>
<rect x="69.75" y="439.4" width="11.5" height="3.6" rx="1.8" fill="#707070" opacity="0.85" filter="url(#bl)"/>
<rect x="82.7" y="439" width="13.8" height="7.4" rx="3.7" fill="#000" opacity="1" filter="url(#bl2)"/>
<rect x="112.8" y="440.9" width="11" height="3.4" rx="1.7" fill="#989898" opacity="0.8" filter="url(#bl)"/>
<rect x="68.3" y="452.3" width="85.2" height="20.6" fill="#cbcbcb"/>
<rect x="81.35" y="452.3" width="2.4" height="20.6" fill="#e2e2e2" opacity=".45" filter="url(#bl2)"/>
<rect x="95.7" y="452.3" width="2.4" height="20.6" fill="#e2e2e2" opacity=".45" filter="url(#bl2)"/>
<rect x="110.05" y="452.3" width="2.4" height="20.6" fill="#e2e2e2" opacity=".45" filter="url(#bl2)"/>
<rect x="124.25" y="452.3" width="2.4" height="20.6" fill="#e2e2e2" opacity=".45" filter="url(#bl2)"/>
<rect x="138.7" y="452.3" width="2.4" height="20.6" fill="#e2e2e2" opacity=".45" filter="url(#bl2)"/>
<rect x="69.9" y="456.4" width="11.2" height="5.17" rx="2" fill="#888" opacity=".4" filter="url(#bl)"/>
<path d="M69.4 457.9Q75.5 462.13 81.6 457.9V463.07Q81.6 467.3 77.37 467.3H73.63Q69.4 467.3 69.4 463.07Z" fill="#000" opacity="1" filter="url(#bl2)"/>
<rect x="84" y="456.4" width="11.2" height="5.17" rx="2" fill="#888" opacity=".4" filter="url(#bl)"/>
<path d="M83.5 457.9Q89.6 462.13 95.7 457.9V463.07Q95.7 467.3 91.47 467.3H87.73Q83.5 467.3 83.5 463.07Z" fill="#000" opacity="1" filter="url(#bl2)"/>
<rect x="98.6" y="456.4" width="11.2" height="5.17" rx="2" fill="#888" opacity=".4" filter="url(#bl)"/>
<path d="M98.1 457.9Q104.2 462.13 110.3 457.9V463.07Q110.3 467.3 106.07 467.3H102.33Q98.1 467.3 98.1 463.07Z" fill="#000" opacity="1" filter="url(#bl2)"/>
<rect x="112.7" y="456.4" width="11.2" height="5.17" rx="2" fill="#888" opacity=".4" filter="url(#bl)"/>
<path d="M112.2 457.9Q118.3 462.13 124.4 457.9V463.07Q124.4 467.3 120.17 467.3H116.43Q112.2 467.3 112.2 463.07Z" fill="#000" opacity="1" filter="url(#bl2)"/>
<rect x="127" y="456.4" width="11.2" height="5.17" rx="2" fill="#888" opacity=".4" filter="url(#bl)"/>
<path d="M126.5 457.9Q132.6 462.13 138.7 457.9V463.07Q138.7 467.3 134.47 467.3H130.73Q126.5 467.3 126.5 463.07Z" fill="#000" opacity="1" filter="url(#bl2)"/>
<rect x="141.6" y="456.4" width="11.2" height="5.17" rx="2" fill="#888" opacity=".4" filter="url(#bl)"/>
<path d="M141.1 457.9Q147.2 462.13 153.3 457.9V463.07Q153.3 467.3 149.07 467.3H145.33Q141.1 467.3 141.1 463.07Z" fill="#000" opacity="1" filter="url(#bl2)"/>
<rect x="74.5" y="470.6" width="1.6" height="1.6" fill="#000" filter="url(#bl3)"/>
<rect x="97" y="471" width="1.4" height="1" fill="#555" filter="url(#bl3)"/>
<text x="156.9" y="426.6" font-size="7.5" textLength="24.3" lengthAdjust="spacingAndGlyphs">KCTD5</text>
<text x="156.9" y="445.4" font-size="7.5">GNG5</text>
<text x="156.9" y="464.3" font-size="7.5">β-Actin</text>
<rect x="308.2" y="429.65" width="3.4" height="19.55" fill="#c6c6c6"/>
<line x1="309.9" y1="429.65" x2="309.9" y2="427.87" stroke="#000" stroke-width="0.8"/>
<line x1="308.8" y1="427.87" x2="311" y2="427.87" stroke="#000" stroke-width="0.8"/>
<rect x="313.75" y="430.24" width="3.4" height="18.96" fill="url(#p4)"/>
<line x1="315.45" y1="430.24" x2="315.45" y2="429.65" stroke="#000" stroke-width="0.8"/>
<line x1="314.35" y1="429.65" x2="316.55" y2="429.65" stroke="#000" stroke-width="0.8"/>
<rect x="319.3" y="430.04" width="3.4" height="19.16" fill="url(#p5)"/>
<line x1="321" y1="430.04" x2="321" y2="428.86" stroke="#000" stroke-width="0.8"/>
<line x1="319.9" y1="428.86" x2="322.1" y2="428.86" stroke="#000" stroke-width="0.8"/>
<rect x="324.85" y="429.06" width="3.4" height="20.14" fill="#707070"/>
<line x1="326.55" y1="429.06" x2="326.55" y2="427.28" stroke="#000" stroke-width="0.8"/>
<line x1="325.45" y1="427.28" x2="327.65" y2="427.28" stroke="#000" stroke-width="0.8"/>
<rect x="330.25" y="429.84" width="3.4" height="19.36" fill="#8a7fc7"/>
<line x1="331.95" y1="429.84" x2="331.95" y2="428.66" stroke="#000" stroke-width="0.8"/>
<line x1="330.85" y1="428.66" x2="333.05" y2="428.66" stroke="#000" stroke-width="0.8"/>
<rect x="335.8" y="432.02" width="3.4" height="17.18" fill="url(#p6)"/>
<line x1="337.5" y1="432.02" x2="337.5" y2="431.43" stroke="#000" stroke-width="0.8"/>
<line x1="336.4" y1="431.43" x2="338.6" y2="431.43" stroke="#000" stroke-width="0.8"/>
<rect x="341.35" y="432.81" width="3.4" height="16.39" fill="url(#p7)"/>
<line x1="343.05" y1="432.81" x2="343.05" y2="432.22" stroke="#000" stroke-width="0.8"/>
<line x1="341.95" y1="432.22" x2="344.15" y2="432.22" stroke="#000" stroke-width="0.8"/>
<rect x="346.9" y="433" width="3.4" height="16.19" fill="#4b3f73"/>
<line x1="348.6" y1="433" x2="348.6" y2="431.03" stroke="#000" stroke-width="0.8"/>
<line x1="347.5" y1="431.03" x2="349.7" y2="431.03" stroke="#000" stroke-width="0.8"/>
<rect x="352.3" y="429.65" width="3.4" height="19.55" fill="#5aaae2"/>
<line x1="354" y1="429.65" x2="354" y2="428.26" stroke="#000" stroke-width="0.8"/>
<line x1="352.9" y1="428.26" x2="355.1" y2="428.26" stroke="#000" stroke-width="0.8"/>
<rect x="357.85" y="432.41" width="3.4" height="16.79" fill="url(#p8)"/>
<line x1="359.55" y1="432.41" x2="359.55" y2="431.82" stroke="#000" stroke-width="0.8"/>
<line x1="358.45" y1="431.82" x2="360.65" y2="431.82" stroke="#000" stroke-width="0.8"/>
<rect x="363.4" y="432.41" width="3.4" height="16.79" fill="url(#p9)"/>
<line x1="365.1" y1="432.41" x2="365.1" y2="431.82" stroke="#000" stroke-width="0.8"/>
<line x1="364" y1="431.82" x2="366.2" y2="431.82" stroke="#000" stroke-width="0.8"/>
<rect x="368.95" y="433" width="3.4" height="16.19" fill="#34638d"/>
<line x1="370.65" y1="433" x2="370.65" y2="432.41" stroke="#000" stroke-width="0.8"/>
<line x1="369.55" y1="432.41" x2="371.75" y2="432.41" stroke="#000" stroke-width="0.8"/>
<rect x="374.35" y="430.04" width="3.4" height="19.16" fill="#c8047f"/>
<line x1="376.05" y1="430.04" x2="376.05" y2="428.66" stroke="#000" stroke-width="0.8"/>
<line x1="374.95" y1="428.66" x2="377.15" y2="428.66" stroke="#000" stroke-width="0.8"/>
<rect x="379.9" y="418.98" width="3.4" height="30.22" fill="url(#p0)"/>
<line x1="381.6" y1="418.98" x2="381.6" y2="416.22" stroke="#000" stroke-width="0.8"/>
<line x1="380.5" y1="416.22" x2="382.7" y2="416.22" stroke="#000" stroke-width="0.8"/>
<rect x="385.45" y="399.43" width="3.4" height="49.77" fill="url(#p1)"/>
<line x1="387.15" y1="399.43" x2="387.15" y2="397.85" stroke="#000" stroke-width="0.8"/>
<line x1="386.05" y1="397.85" x2="388.25" y2="397.85" stroke="#000" stroke-width="0.8"/>
<rect x="391" y="376.72" width="3.4" height="72.48" fill="#7a0c4d"/>
<line x1="392.7" y1="376.72" x2="392.7" y2="374.74" stroke="#000" stroke-width="0.8"/>
<line x1="391.6" y1="374.74" x2="393.8" y2="374.74" stroke="#000" stroke-width="0.8"/>
<rect x="396.4" y="429.45" width="3.4" height="19.75" fill="#8a7fc7"/>
<line x1="398.1" y1="429.45" x2="398.1" y2="428.26" stroke="#000" stroke-width="0.8"/>
<line x1="397" y1="428.26" x2="399.2" y2="428.26" stroke="#000" stroke-width="0.8"/>
<rect x="401.95" y="432.61" width="3.4" height="16.59" fill="url(#p6)"/>
<line x1="403.65" y1="432.61" x2="403.65" y2="431.62" stroke="#000" stroke-width="0.8"/>
<line x1="402.55" y1="431.62" x2="404.75" y2="431.62" stroke="#000" stroke-width="0.8"/>
<rect x="407.5" y="432.02" width="3.4" height="17.18" fill="url(#p7)"/>
<line x1="409.2" y1="432.02" x2="409.2" y2="431.23" stroke="#000" stroke-width="0.8"/>
<line x1="408.1" y1="431.23" x2="410.3" y2="431.23" stroke="#000" stroke-width="0.8"/>
<rect x="413.05" y="426.09" width="3.4" height="23.11" fill="#4b3f73"/>
<line x1="414.75" y1="426.09" x2="414.75" y2="424.91" stroke="#000" stroke-width="0.8"/>
<line x1="413.65" y1="424.91" x2="415.85" y2="424.91" stroke="#000" stroke-width="0.8"/>
<rect x="418.45" y="429.45" width="3.4" height="19.75" fill="#5aaae2"/>
<line x1="420.15" y1="429.45" x2="420.15" y2="428.86" stroke="#000" stroke-width="0.8"/>
<line x1="419.05" y1="428.86" x2="421.25" y2="428.86" stroke="#000" stroke-width="0.8"/>
<rect x="424" y="433.79" width="3.4" height="15.41" fill="url(#p8)"/>
<line x1="425.7" y1="433.79" x2="425.7" y2="433.2" stroke="#000" stroke-width="0.8"/>
<line x1="424.6" y1="433.2" x2="426.8" y2="433.2" stroke="#000" stroke-width="0.8"/>
<rect x="429.55" y="427.47" width="3.4" height="21.73" fill="url(#p9)"/>
<line x1="431.25" y1="427.47" x2="431.25" y2="426.88" stroke="#000" stroke-width="0.8"/>
<line x1="430.15" y1="426.88" x2="432.35" y2="426.88" stroke="#000" stroke-width="0.8"/>
<rect x="435.1" y="426.29" width="3.4" height="22.91" fill="#34638d"/>
<line x1="436.8" y1="426.29" x2="436.8" y2="425.5" stroke="#000" stroke-width="0.8"/>
<line x1="435.7" y1="425.5" x2="437.9" y2="425.5" stroke="#000" stroke-width="0.8"/>
<line x1="306" y1="348.2" x2="306" y2="449.75" stroke="#000" stroke-width="1.1"/>
<line x1="303.6" y1="449.2" x2="441" y2="449.2" stroke="#000" stroke-width="1.1"/>
<line x1="303.6" y1="449.2" x2="306" y2="449.2" stroke="#000" stroke-width="1"/>
<text x="302.2" y="452.1" font-size="8" text-anchor="end">0</text>
<line x1="303.6" y1="429.45" x2="306" y2="429.45" stroke="#000" stroke-width="1"/>
<text x="302.2" y="432.35" font-size="8" text-anchor="end">1</text>
<line x1="303.6" y1="409.7" x2="306" y2="409.7" stroke="#000" stroke-width="1"/>
<text x="302.2" y="412.6" font-size="8" text-anchor="end">2</text>
<line x1="303.6" y1="389.95" x2="306" y2="389.95" stroke="#000" stroke-width="1"/>
<text x="302.2" y="392.85" font-size="8" text-anchor="end">3</text>
<line x1="303.6" y1="370.2" x2="306" y2="370.2" stroke="#000" stroke-width="1"/>
<text x="302.2" y="373.1" font-size="8" text-anchor="end">4</text>
<line x1="303.6" y1="350.45" x2="306" y2="350.45" stroke="#000" stroke-width="1"/>
<text x="302.2" y="353.35" font-size="8" text-anchor="end">5</text>
<text transform="translate(290.4,398.2) rotate(-90)" font-size="9" text-anchor="middle" textLength="50.5" lengthAdjust="spacingAndGlyphs">RFP<tspan font-size="6" dy="-3">+</tspan><tspan dy="3">/GFP</tspan><tspan font-size="6" dy="-3">+</tspan><tspan dy="3"> (AU)</tspan></text>
<path d="M309.9 409V407.6H326.55V409" fill="none" stroke="#000" stroke-width="0.8"/>
<text x="318.22" y="406" font-size="4.9" text-anchor="middle">N.S.</text>
<path d="M309.9 417.3V415.9H321V417.3" fill="none" stroke="#000" stroke-width="0.8"/>
<text x="315.45" y="414.3" font-size="4.9" text-anchor="middle">N.S.</text>
<path d="M309.9 425.6V424.2H315.45V425.6" fill="none" stroke="#000" stroke-width="0.8"/>
<text x="312.67" y="422.6" font-size="4.9" text-anchor="middle">N.S.</text>
<path d="M331.95 409V407.6H348.6V409" fill="none" stroke="#000" stroke-width="0.8"/>
<text x="340.27" y="406" font-size="4.9" text-anchor="middle">N.S.</text>
<path d="M331.95 417.3V415.9H343.05V417.3" fill="none" stroke="#000" stroke-width="0.8"/>
<text x="337.5" y="414.3" font-size="4.9" text-anchor="middle">N.S.</text>
<path d="M331.95 425.6V424.2H337.5V425.6" fill="none" stroke="#000" stroke-width="0.8"/>
<text x="334.73" y="422.6" font-size="4.9" text-anchor="middle">N.S.</text>
<path d="M354 409V407.6H370.65V409" fill="none" stroke="#000" stroke-width="0.8"/>
<text x="362.32" y="406" font-size="4.9" text-anchor="middle">N.S.</text>
<path d="M354 417.3V415.9H365.1V417.3" fill="none" stroke="#000" stroke-width="0.8"/>
<text x="359.55" y="414.3" font-size="4.9" text-anchor="middle">N.S.</text>
<path d="M354 425.6V424.2H359.55V425.6" fill="none" stroke="#000" stroke-width="0.8"/>
<text x="356.77" y="422.6" font-size="4.9" text-anchor="middle">N.S.</text>
<path d="M376.05 371.6V370.2H392.7V371.6" fill="none" stroke="#000" stroke-width="0.8"/>
<text x="384.38" y="370.4" font-size="5.390000000000001" text-anchor="middle">**</text>
<path d="M376.05 393.6V392.2H387.15V393.6" fill="none" stroke="#000" stroke-width="0.8"/>
<text x="381.6" y="392.4" font-size="5.390000000000001" text-anchor="middle">**</text>
<path d="M376.05 411.7V410.3H381.6V411.7" fill="none" stroke="#000" stroke-width="0.8"/>
<text x="378.83" y="408.7" font-size="4.9" text-anchor="middle">N.S.</text>
<path d="M398.1 409V407.6H414.75V409" fill="none" stroke="#000" stroke-width="0.8"/>
<text x="406.42" y="406" font-size="4.9" text-anchor="middle">N.S.</text>
<path d="M398.1 417.3V415.9H409.2V417.3" fill="none" stroke="#000" stroke-width="0.8"/>
<text x="403.65" y="414.3" font-size="4.9" text-anchor="middle">N.S.</text>
<path d="M398.1 425.6V424.2H403.65V425.6" fill="none" stroke="#000" stroke-width="0.8"/>
<text x="400.88" y="422.6" font-size="4.9" text-anchor="middle">N.S.</text>
<path d="M420.15 408.8V407.4H436.8V408.8" fill="none" stroke="#000" stroke-width="0.8"/>
<text x="428.47" y="407.6" font-size="5.390000000000001" text-anchor="middle">*</text>
<path d="M420.15 417.3V415.9H431.25V417.3" fill="none" stroke="#000" stroke-width="0.8"/>
<text x="425.7" y="416.1" font-size="5.390000000000001" text-anchor="middle">*</text>
<path d="M420.15 425.8V424.4H425.7V425.8" fill="none" stroke="#000" stroke-width="0.8"/>
<text x="422.92" y="424.6" font-size="5.390000000000001" text-anchor="middle">*</text>
<line x1="310.2" y1="452.9" x2="326.5" y2="452.9" stroke="#7c7c7c" stroke-width="1.7"/>
<line x1="332.25" y1="452.9" x2="348.55" y2="452.9" stroke="#7c7c7c" stroke-width="1.7"/>
<line x1="354.3" y1="452.9" x2="370.6" y2="452.9" stroke="#7c7c7c" stroke-width="1.7"/>
<line x1="376.35" y1="452.9" x2="392.65" y2="452.9" stroke="#7c7c7c" stroke-width="1.7"/>
<line x1="398.4" y1="452.9" x2="414.7" y2="452.9" stroke="#7c7c7c" stroke-width="1.7"/>
<line x1="420.45" y1="452.9" x2="436.75" y2="452.9" stroke="#7c7c7c" stroke-width="1.7"/>
<rect x="452.8" y="422.7" width="8.2" height="4.3" fill="#fff" stroke="#3a3a3a" stroke-width="0.95"/>
<text x="464.6" y="427.3" font-size="7.4">DMSO</text>
<rect x="452.8" y="429.55" width="8.2" height="4.3" fill="url(#p2)" stroke="#3a3a3a" stroke-width="0.95"/>
<text x="464.6" y="434.15" font-size="7.4">1 µM CC-122</text>
<rect x="452.8" y="436.4" width="8.2" height="4.3" fill="url(#p3)" stroke="#3a3a3a" stroke-width="0.95"/>
<text x="464.6" y="441" font-size="7.4">10 µM CC-122</text>
<rect x="452.8" y="443.25" width="8.2" height="4.3" fill="#8a8a8a" stroke="#3a3a3a" stroke-width="0.95"/>
<text x="464.6" y="447.85" font-size="7.4">50 µM CC-122</text>
<text x="300" y="463.3" font-size="7.45" text-anchor="end">sgNT-1_Hyg</text>
<line x1="315.8" y1="460.6" x2="320.4" y2="460.6" stroke="#000" stroke-width="0.8"/>
<line x1="318.1" y1="458.3" x2="318.1" y2="462.9" stroke="#000" stroke-width="0.8"/>
<line x1="339.4" y1="460.6" x2="341.4" y2="460.6" stroke="#000" stroke-width="0.75"/>
<line x1="361.5" y1="460.6" x2="363.5" y2="460.6" stroke="#000" stroke-width="0.75"/>
<line x1="382.6" y1="460.6" x2="387.2" y2="460.6" stroke="#000" stroke-width="0.8"/>
<line x1="384.9" y1="458.3" x2="384.9" y2="462.9" stroke="#000" stroke-width="0.8"/>
<line x1="406" y1="460.6" x2="408" y2="460.6" stroke="#000" stroke-width="0.75"/>
<line x1="428.4" y1="460.6" x2="430.4" y2="460.6" stroke="#000" stroke-width="0.75"/>
<text x="300" y="472.5" font-size="7.45" text-anchor="end" textLength="54.6" lengthAdjust="spacingAndGlyphs">sgGNG5-7_Hyg</text>
<line x1="317.1" y1="469.8" x2="319.1" y2="469.8" stroke="#000" stroke-width="0.75"/>
<line x1="338.1" y1="469.8" x2="342.7" y2="469.8" stroke="#000" stroke-width="0.8"/>
<line x1="340.4" y1="467.5" x2="340.4" y2="472.1" stroke="#000" stroke-width="0.8"/>
<line x1="361.5" y1="469.8" x2="363.5" y2="469.8" stroke="#000" stroke-width="0.75"/>
<line x1="383.9" y1="469.8" x2="385.9" y2="469.8" stroke="#000" stroke-width="0.75"/>
<line x1="404.7" y1="469.8" x2="409.3" y2="469.8" stroke="#000" stroke-width="0.8"/>
<line x1="407" y1="467.5" x2="407" y2="472.1" stroke="#000" stroke-width="0.8"/>
<line x1="428.4" y1="469.8" x2="430.4" y2="469.8" stroke="#000" stroke-width="0.75"/>
<text x="300" y="481.9" font-size="7.45" text-anchor="end" textLength="54.6" lengthAdjust="spacingAndGlyphs">sgGNG5-8_Hyg</text>
<line x1="317.1" y1="479.2" x2="319.1" y2="479.2" stroke="#000" stroke-width="0.75"/>
<line x1="339.4" y1="479.2" x2="341.4" y2="479.2" stroke="#000" stroke-width="0.75"/>
<line x1="360.2" y1="479.2" x2="364.8" y2="479.2" stroke="#000" stroke-width="0.8"/>
<line x1="362.5" y1="476.9" x2="362.5" y2="481.5" stroke="#000" stroke-width="0.8"/>
<line x1="383.9" y1="479.2" x2="385.9" y2="479.2" stroke="#000" stroke-width="0.75"/>
<line x1="406" y1="479.2" x2="408" y2="479.2" stroke="#000" stroke-width="0.75"/>
<line x1="427.1" y1="479.2" x2="431.7" y2="479.2" stroke="#000" stroke-width="0.8"/>
<line x1="429.4" y1="476.9" x2="429.4" y2="481.5" stroke="#000" stroke-width="0.8"/>
<text x="300" y="491.2" font-size="7.45" text-anchor="end">sgNT-1_Pur</text>
<line x1="315.8" y1="488.5" x2="320.4" y2="488.5" stroke="#000" stroke-width="0.8"/>
<line x1="318.1" y1="486.2" x2="318.1" y2="490.8" stroke="#000" stroke-width="0.8"/>
<line x1="338.1" y1="488.5" x2="342.7" y2="488.5" stroke="#000" stroke-width="0.8"/>
<line x1="340.4" y1="486.2" x2="340.4" y2="490.8" stroke="#000" stroke-width="0.8"/>
<line x1="360.2" y1="488.5" x2="364.8" y2="488.5" stroke="#000" stroke-width="0.8"/>
<line x1="362.5" y1="486.2" x2="362.5" y2="490.8" stroke="#000" stroke-width="0.8"/>
<line x1="383.9" y1="488.5" x2="385.9" y2="488.5" stroke="#000" stroke-width="0.75"/>
<line x1="406" y1="488.5" x2="408" y2="488.5" stroke="#000" stroke-width="0.75"/>
<line x1="428.4" y1="488.5" x2="430.4" y2="488.5" stroke="#000" stroke-width="0.75"/>
<text x="300" y="500.4" font-size="7.45" text-anchor="end">sgKCTD5-7_Pur</text>
<line x1="317.1" y1="497.7" x2="319.1" y2="497.7" stroke="#000" stroke-width="0.75"/>
<line x1="339.4" y1="497.7" x2="341.4" y2="497.7" stroke="#000" stroke-width="0.75"/>
<line x1="361.5" y1="497.7" x2="363.5" y2="497.7" stroke="#000" stroke-width="0.75"/>
<line x1="382.6" y1="497.7" x2="387.2" y2="497.7" stroke="#000" stroke-width="0.8"/>
<line x1="384.9" y1="495.4" x2="384.9" y2="500" stroke="#000" stroke-width="0.8"/>
<line x1="404.7" y1="497.7" x2="409.3" y2="497.7" stroke="#000" stroke-width="0.8"/>
<line x1="407" y1="495.4" x2="407" y2="500" stroke="#000" stroke-width="0.8"/>
<line x1="427.1" y1="497.7" x2="431.7" y2="497.7" stroke="#000" stroke-width="0.8"/>
<line x1="429.4" y1="495.4" x2="429.4" y2="500" stroke="#000" stroke-width="0.8"/>
<path d="M0 0H520V509H0Z M1.1 1.1V507.5H518.9V1.1Z" fill="#000" fill-rule="evenodd"/></svg>
</body></html>
